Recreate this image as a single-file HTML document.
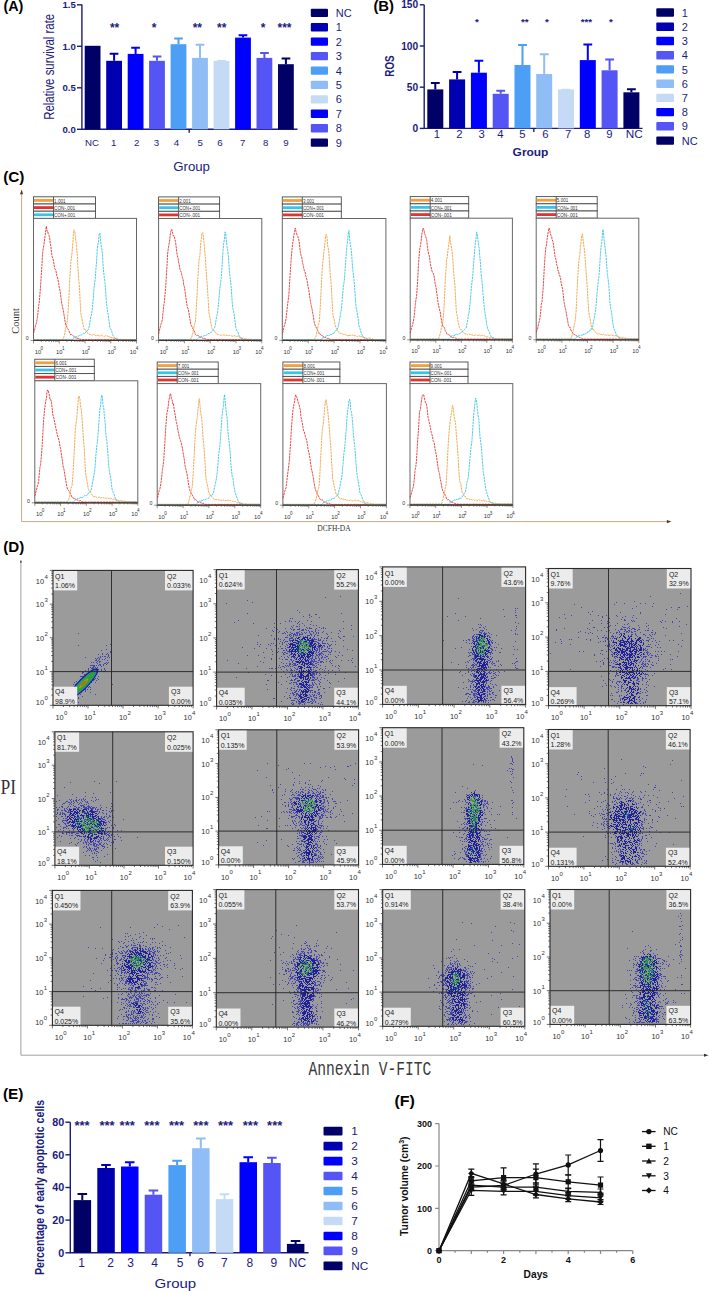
<!DOCTYPE html>
<html><head><meta charset="utf-8"><title>Figure</title>
<style>html,body{margin:0;padding:0;background:#fff;}svg{display:block;}</style>
</head><body>
<svg width="709" height="1291" viewBox="0 0 709 1291" style="font-family:'Liberation Sans',sans-serif">
<rect width="709" height="1291" fill="#fff"/>
<text x="3.4" y="11.2" textLength="20" lengthAdjust="spacingAndGlyphs" style="font:bold 14.2px 'Liberation Sans',sans-serif" fill="#000">(A)</text>
<g stroke="#1c1c7c" stroke-width="1.4" fill="none"><path d="M81.9 4.6V129.3H297.5"/>
<path d="M77 129.3H81.9"/>
<path d="M77 87.8H81.9"/>
<path d="M77 46.3H81.9"/>
<path d="M77 4.8H81.9"/>
<path d="M189.2 129.3v3.5"/></g>
<g style="font:bold 9.6px 'Liberation Sans',sans-serif" fill="#1c1c7c" text-anchor="end">
<text x="75.8" y="132.7">0.0</text>
<text x="75.8" y="91.2">0.5</text>
<text x="75.8" y="49.7">1.0</text>
<text x="75.8" y="8.2">1.5</text>
</g>
<rect x="84.7" y="45.8" width="15.8" height="83.5" fill="#000066"/>
<rect x="106.2" y="60.8" width="15.8" height="68.5" fill="#0000b0"/><path d="M114.1 60.8V53.7M109.7 53.7h8.7" stroke="#0000b0" stroke-width="2" fill="none"/>
<rect x="127.7" y="53.9" width="15.8" height="75.4" fill="#0000ff"/><path d="M135.6 53.9V47.8M131.2 47.8h8.7" stroke="#0000ff" stroke-width="2" fill="none"/>
<rect x="149.1" y="60.8" width="15.8" height="68.5" fill="#5555f5"/><path d="M157 60.8V56.5M152.7 56.5h8.7" stroke="#5555f5" stroke-width="2" fill="none"/>
<rect x="170.6" y="44.2" width="15.8" height="85.1" fill="#4d9ff5"/><path d="M178.5 44.2V38.5M174.2 38.5h8.7" stroke="#4d9ff5" stroke-width="2" fill="none"/>
<rect x="192.1" y="57.9" width="15.8" height="71.4" fill="#90bdf5"/><path d="M200 57.9V44.7M195.7 44.7h8.7" stroke="#90bdf5" stroke-width="2" fill="none"/>
<rect x="213.6" y="60.9" width="15.8" height="68.4" fill="#c5dbf5"/><path d="M221.5 60.9V60.9M217.1 60.9h8.7" stroke="#c5dbf5" stroke-width="2" fill="none"/>
<rect x="235.1" y="37.6" width="15.8" height="91.7" fill="#0000ff"/><path d="M243 37.6V35.3M238.6 35.3h8.7" stroke="#0000ff" stroke-width="2" fill="none"/>
<rect x="256.5" y="57.9" width="15.8" height="71.4" fill="#5555f5"/><path d="M264.4 57.9V53M260.1 53h8.7" stroke="#5555f5" stroke-width="2" fill="none"/>
<rect x="278" y="64.2" width="15.8" height="65.1" fill="#000066"/><path d="M285.9 64.2V58.6M281.6 58.6h8.7" stroke="#000066" stroke-width="2" fill="none"/>
<g style="font:9.7px 'Liberation Sans',sans-serif" fill="#1c1c7c" text-anchor="middle">
<text x="92" y="145.9" textLength="14" lengthAdjust="spacingAndGlyphs">NC</text>
<text x="113.8" y="145.9">1</text>
<text x="136.6" y="145.9">2</text>
<text x="156.5" y="145.9">3</text>
<text x="176.5" y="145.9">4</text>
<text x="200.1" y="145.9">5</text>
<text x="219.9" y="145.9">6</text>
<text x="242.6" y="145.9">7</text>
<text x="265.8" y="145.9">8</text>
<text x="286" y="145.9">9</text>
</g>
<g style="font:bold 12px 'Liberation Sans',sans-serif" fill="#1c1c7c" text-anchor="middle">
<text x="114.6" y="32.2">**</text>
<text x="154" y="32.2">*</text>
<text x="197.3" y="32.2">**</text>
<text x="221.7" y="32.2">**</text>
<text x="263.2" y="32.2">*</text>
<text x="284.5" y="32.2">***</text>
</g>
<text x="173.2" y="170.6" textLength="36.8" lengthAdjust="spacingAndGlyphs" style="font:12.8px 'Liberation Sans',sans-serif" fill="#1c1c7c">Group</text>
<text transform="translate(54.2 119.8) rotate(-90)" textLength="106" lengthAdjust="spacingAndGlyphs" style="font:14px 'Liberation Sans',sans-serif" fill="#1c1c7c">Relative survival rate</text>
<g style="font:11px 'Liberation Sans',sans-serif" fill="#1c1c7c">
<rect x="310.8" y="8.7" width="17.2" height="8.3" rx="1" fill="#000066"/>
<text x="335.8" y="16.9">NC</text>
<rect x="310.8" y="23.1" width="17.2" height="8.3" rx="1" fill="#0000b0"/>
<text x="335.8" y="31.3">1</text>
<rect x="310.8" y="37.5" width="17.2" height="8.3" rx="1" fill="#0000ff"/>
<text x="335.8" y="45.7">2</text>
<rect x="310.8" y="52" width="17.2" height="8.3" rx="1" fill="#5555f5"/>
<text x="335.8" y="60.2">3</text>
<rect x="310.8" y="66.4" width="17.2" height="8.3" rx="1" fill="#4d9ff5"/>
<text x="335.8" y="74.6">4</text>
<rect x="310.8" y="80.8" width="17.2" height="8.3" rx="1" fill="#90bdf5"/>
<text x="335.8" y="89">5</text>
<rect x="310.8" y="95.2" width="17.2" height="8.3" rx="1" fill="#c5dbf5"/>
<text x="335.8" y="103.4">6</text>
<rect x="310.8" y="109.6" width="17.2" height="8.3" rx="1" fill="#0000ff"/>
<text x="335.8" y="117.8">7</text>
<rect x="310.8" y="124.1" width="17.2" height="8.3" rx="1" fill="#5555f5"/>
<text x="335.8" y="132.3">8</text>
<rect x="310.8" y="138.5" width="17.2" height="8.3" rx="1" fill="#000066"/>
<text x="335.8" y="146.7">9</text>
</g>
<text x="373.4" y="11.1" textLength="20.6" lengthAdjust="spacingAndGlyphs" style="font:bold 14.2px 'Liberation Sans',sans-serif" fill="#000">(B)</text>
<g stroke="#1c1c7c" stroke-width="1.4" fill="none"><path d="M424.2 4.8V128.4H642.5"/>
<path d="M419.8 128.4H424.2"/>
<path d="M419.8 87.2H424.2"/>
<path d="M419.8 46H424.2"/>
<path d="M419.8 4.8H424.2"/>
<path d="M533.8 128.4v3.5"/></g>
<g style="font:bold 10.2px 'Liberation Sans',sans-serif" fill="#1c1c7c" text-anchor="end">
<text x="418.2" y="132">0</text>
<text x="418.2" y="90.8">50</text>
<text x="418.2" y="49.6">100</text>
<text x="418.2" y="8.4">150</text>
</g>
<rect x="427.3" y="89.4" width="16" height="39" fill="#000066"/><path d="M435.3 89.4V83M430.9 83h8.8" stroke="#000066" stroke-width="2" fill="none"/>
<rect x="449.1" y="79.4" width="16" height="49" fill="#0000b0"/><path d="M457.1 79.4V72M452.7 72h8.8" stroke="#0000b0" stroke-width="2" fill="none"/>
<rect x="470.9" y="72.7" width="16" height="55.7" fill="#0000ff"/><path d="M478.9 72.7V60.8M474.5 60.8h8.8" stroke="#0000ff" stroke-width="2" fill="none"/>
<rect x="492.7" y="93.8" width="16" height="34.6" fill="#5555f5"/><path d="M500.7 93.8V90.8M496.3 90.8h8.8" stroke="#5555f5" stroke-width="2" fill="none"/>
<rect x="514.5" y="65" width="16" height="63.4" fill="#4d9ff5"/><path d="M522.5 65V44.9M518.1 44.9h8.8" stroke="#4d9ff5" stroke-width="2" fill="none"/>
<rect x="536.2" y="74" width="16" height="54.4" fill="#90bdf5"/><path d="M544.2 74V54.2M539.9 54.2h8.8" stroke="#90bdf5" stroke-width="2" fill="none"/>
<rect x="558" y="89.4" width="16" height="39" fill="#c5dbf5"/><path d="M566 89.4V89.7M561.6 89.7h8.8" stroke="#c5dbf5" stroke-width="2" fill="none"/>
<rect x="579.8" y="60.1" width="16" height="68.3" fill="#0000ff"/><path d="M587.8 60.1V44.6M583.4 44.6h8.8" stroke="#0000ff" stroke-width="2" fill="none"/>
<rect x="601.6" y="70.3" width="16" height="58.1" fill="#5555f5"/><path d="M609.6 70.3V59.6M605.2 59.6h8.8" stroke="#5555f5" stroke-width="2" fill="none"/>
<rect x="623.4" y="92.3" width="16" height="36.1" fill="#000066"/><path d="M631.4 92.3V89.2M627 89.2h8.8" stroke="#000066" stroke-width="2" fill="none"/>
<g style="font:11.3px 'Liberation Sans',sans-serif" fill="#1c1c7c" text-anchor="middle">
<text x="437" y="138.4">1</text>
<text x="459.4" y="138.4">2</text>
<text x="481.6" y="138.4">3</text>
<text x="500.3" y="138.4">4</text>
<text x="522.5" y="138.4">5</text>
<text x="545.4" y="138.4">6</text>
<text x="568.1" y="138.4">7</text>
<text x="587.1" y="138.4">8</text>
<text x="609.5" y="138.4">9</text>
<text x="634.2" y="138.4" textLength="17" lengthAdjust="spacingAndGlyphs">NC</text>
</g>
<g style="font:bold 9.8px 'Liberation Sans',sans-serif" fill="#1c1c7c" text-anchor="middle">
<text x="476.9" y="25.3">*</text>
<text x="524.8" y="25.3">**</text>
<text x="546.9" y="25.3">*</text>
<text x="586.4" y="25.3">***</text>
<text x="611" y="25.3">*</text>
</g>
<text x="512.6" y="156.4" textLength="35.8" lengthAdjust="spacingAndGlyphs" style="font:bold 11px 'Liberation Sans',sans-serif" fill="#1c1c7c">Group</text>
<text transform="translate(394 76.7) rotate(-90)" textLength="21.3" lengthAdjust="spacingAndGlyphs" style="font:bold 12.3px 'Liberation Sans',sans-serif" fill="#1c1c7c">ROS</text>
<g style="font:11px 'Liberation Sans',sans-serif" fill="#1c1c7c">
<rect x="656.3" y="8.3" width="17.7" height="8.4" rx="1" fill="#000066"/>
<text x="681.8" y="16.6">1</text>
<rect x="656.3" y="22.5" width="17.7" height="8.4" rx="1" fill="#0000b0"/>
<text x="681.8" y="30.8">2</text>
<rect x="656.3" y="36.8" width="17.7" height="8.4" rx="1" fill="#0000ff"/>
<text x="681.8" y="45.1">3</text>
<rect x="656.3" y="51" width="17.7" height="8.4" rx="1" fill="#5555f5"/>
<text x="681.8" y="59.3">4</text>
<rect x="656.3" y="65.2" width="17.7" height="8.4" rx="1" fill="#4d9ff5"/>
<text x="681.8" y="73.5">5</text>
<rect x="656.3" y="79.5" width="17.7" height="8.4" rx="1" fill="#90bdf5"/>
<text x="681.8" y="87.8">6</text>
<rect x="656.3" y="93.7" width="17.7" height="8.4" rx="1" fill="#c5dbf5"/>
<text x="681.8" y="102">7</text>
<rect x="656.3" y="107.9" width="17.7" height="8.4" rx="1" fill="#0000ff"/>
<text x="681.8" y="116.2">8</text>
<rect x="656.3" y="122.1" width="17.7" height="8.4" rx="1" fill="#5555f5"/>
<text x="681.8" y="130.4">9</text>
<rect x="656.3" y="136.4" width="17.7" height="8.4" rx="1" fill="#000066"/>
<text x="681.8" y="144.7">NC</text>
</g>
<text x="3.2" y="181.6" textLength="21.3" lengthAdjust="spacingAndGlyphs" style="font:bold 14.2px 'Liberation Sans',sans-serif" fill="#000">(C)</text>
<path d="M21.6 193V521.6H668" stroke="#c8aa88" stroke-width="1" fill="none"/>
<path d="M21.6 189.6l-1.6 4.6h3.2z" fill="#5a3a20"/>
<path d="M671.5 521.6l-4.6-1.6v3.2z" fill="#5a3a20"/>
<text transform="translate(18.6 321) rotate(-90)" text-anchor="middle" style="font:10.5px 'Liberation Serif',serif" fill="#333">Count</text>
<text x="334" y="530.5" text-anchor="middle" textLength="33.5" lengthAdjust="spacingAndGlyphs" style="font:8.5px 'Liberation Serif',serif" fill="#333">DCFH-DA</text>
<g>
<rect x="33.5" y="196.8" width="62" height="7.2" fill="#fff" stroke="#4a4a4a" stroke-width="0.9"/>
<path d="M34 200.4h19.4" stroke="#f0a040" stroke-width="2.8"/>
<path d="M53.5 196.8v7.2" stroke="#4a4a4a" stroke-width="0.9"/>
<text x="54.1" y="202.5" textLength="11.5" lengthAdjust="spacingAndGlyphs" style="font:5.8px 'Liberation Sans',sans-serif" fill="#333">1.001</text>
<rect x="33.5" y="204" width="62" height="7.2" fill="#fff" stroke="#4a4a4a" stroke-width="0.9"/>
<path d="M34 207.6h19.4" stroke="#e03434" stroke-width="2.8"/>
<path d="M53.5 204v7.2" stroke="#4a4a4a" stroke-width="0.9"/>
<text x="54.1" y="209.7" textLength="21" lengthAdjust="spacingAndGlyphs" style="font:5.8px 'Liberation Sans',sans-serif" fill="#333">CON-.001</text>
<rect x="33.5" y="211.2" width="62" height="7.2" fill="#fff" stroke="#4a4a4a" stroke-width="0.9"/>
<path d="M34 214.8h19.4" stroke="#38c4ea" stroke-width="2.8"/>
<path d="M53.5 211.2v7.2" stroke="#4a4a4a" stroke-width="0.9"/>
<text x="54.1" y="216.9" textLength="21" lengthAdjust="spacingAndGlyphs" style="font:5.8px 'Liberation Sans',sans-serif" fill="#333">CON+.001</text>
</g>
<rect x="33.5" y="218.4" width="103" height="122" fill="#fff" stroke="#666" stroke-width="1"/>
<g fill="none" stroke-width="0.9" stroke-linejoin="round" stroke-dasharray="2.4 0.7">
<path d="M33.5 333.6L34.1 331.4L34.8 328.9L35.4 326L36.1 323.9L36.7 321.5L37.4 317.5L38 312.3L38.6 305.6L39.3 302.1L39.9 294.7L40.6 285.6L41.2 276.4L41.9 265.5L42.5 254.2L43.2 248.9L43.8 245.7L44.4 241.4L45.1 236L45.7 230.5L46.4 226.2L47 231.2L47.7 231.1L48.3 234.2L49 235.4L49.6 237.6L50.2 243.2L50.9 246L51.5 252.5L52.2 256.7L52.8 258L53.5 261L54.1 265L54.7 268.5L55.4 269.6L56 271.1L56.7 275.4L57.3 276.7L58 279.6L58.6 283.1L59.3 288L59.9 290.1L60.5 293.8L61.2 299.7L61.8 303.9L62.5 306.5L63.1 309.6L63.8 313.6L64.4 317.1L65 321.1L65.7 324.6L66.3 325.8L67 327.4L67.6 328.5L68.3 329.5L68.9 330.9L69.5 332.2L70.2 333.7L70.8 335L71.5 334.5L72.1 334.8L72.8 335.5L73.4 335.9L74.1 336.7L74.7 337.2L75.3 337.5L76 338.4L76.6 337.9L77.3 337.8L77.9 338.8L78.6 338.3L79.2 338.5L79.8 339.4L80.5 339.2L81.1 339.4L81.8 339.5L82.4 339.6L83.1 339.6L83.7 339.6L84.4 339.6L85 339.6L85.6 339.6L86.3 339.6L86.9 339.6L87.6 339.6L88.2 339.6L88.9 339.6L89.5 339.6L90.1 339.6L90.8 339.6L91.4 339.6L92.1 339.6L92.7 339.6L93.4 339.6L94 339.6L94.7 339.6L95.3 339.6L95.9 339.6L96.6 339.6L97.2 339.6L97.9 339.6L98.5 339.6L99.2 339.6L99.8 339.6L100.4 339.6L101.1 339.6L101.7 339.6L102.4 339.6L103 339.6L103.7 339.6L104.3 339.6L105 339.6L105.6 339.6L106.2 339.6L106.9 339.6L107.5 339.6L108.2 339.6L108.8 339.6L109.5 339.6L110.1 339.6L110.7 339.6L111.4 339.6L112 339.6L112.7 339.6L113.3 339.6L114 339.6L114.6 339.6L115.3 339.6L115.9 339.6L116.5 339.6L117.2 339.6L117.8 339.6L118.5 339.6L119.1 339.6L119.8 339.6L120.4 339.6L121 339.6L121.7 339.6L122.3 339.6L123 339.6L123.6 339.6L124.3 339.6L124.9 339.6L125.6 339.6L126.2 339.6L126.8 339.6L127.5 339.6L128.1 339.6L128.8 339.6L129.4 339.6L130.1 339.6L130.7 339.6L131.3 339.6L132 339.6L132.6 339.6L133.3 339.6L133.9 339.6L134.6 339.6L135.2 339.6L135.9 339.6L136.5 339.6" stroke="#e03434"/>
<path d="M33.5 339.6L34.1 339.6L34.8 339.6L35.4 339.6L36.1 339.6L36.7 339.6L37.4 339.6L38 339.6L38.6 339.6L39.3 339.6L39.9 339.6L40.6 339.6L41.2 339.6L41.9 339.6L42.5 339.6L43.2 339.6L43.8 339.6L44.4 339.6L45.1 339.6L45.7 339.6L46.4 339.6L47 339.6L47.7 339.6L48.3 339.6L49 339.6L49.6 339.6L50.2 339.6L50.9 339.6L51.5 339.6L52.2 339.6L52.8 339.6L53.5 339.6L54.1 339.6L54.7 339.6L55.4 339.6L56 339.6L56.7 339.6L57.3 339.6L58 339.6L58.6 339.6L59.3 339.6L59.9 339.6L60.5 339.6L61.2 339.6L61.8 339.6L62.5 339.1L63.1 339.1L63.8 337.2L64.4 335.2L65 332L65.7 328.3L66.3 325.2L67 322.8L67.6 318.4L68.3 309.1L68.9 297.7L69.5 284.7L70.2 272.7L70.8 262.7L71.5 256.9L72.1 251.9L72.8 243.2L73.4 233.4L74.1 229.7L74.7 230.8L75.3 236.7L76 242.1L76.6 246.8L77.3 255.6L77.9 266.9L78.6 278.2L79.2 283.3L79.8 294.2L80.5 307.8L81.1 315.7L81.8 317.8L82.4 321.3L83.1 324.8L83.7 327.1L84.4 329.6L85 330.2L85.6 329.7L86.3 331.3L86.9 332L87.6 332.9L88.2 333.8L88.9 334.2L89.5 334.6L90.1 334.2L90.8 334.7L91.4 335L92.1 335.1L92.7 335L93.4 334.5L94 335L94.7 334.6L95.3 335.5L95.9 335.7L96.6 335.1L97.2 335.8L97.9 334.8L98.5 335.6L99.2 335.8L99.8 335.9L100.4 335.9L101.1 335.1L101.7 335.1L102.4 335.7L103 336.2L103.7 336.5L104.3 336.4L105 336.2L105.6 335.8L106.2 335.9L106.9 335.7L107.5 335.9L108.2 336.7L108.8 336.5L109.5 336.9L110.1 336.8L110.7 337.7L111.4 336.9L112 338.3L112.7 337.7L113.3 338.2L114 337.8L114.6 338.7L115.3 337.9L115.9 339L116.5 338.2L117.2 338.4L117.8 338.7L118.5 339.2L119.1 339.1L119.8 339.1L120.4 339.2L121 339.3L121.7 339.4L122.3 339.5L123 339.5L123.6 339.6L124.3 339.6L124.9 339.6L125.6 339.6L126.2 339.6L126.8 339.6L127.5 339.6L128.1 339.6L128.8 339.6L129.4 339.6L130.1 339.6L130.7 339.6L131.3 339.6L132 339.6L132.6 339.6L133.3 339.6L133.9 339.6L134.6 339.6L135.2 339.6L135.9 339.6L136.5 339.6" stroke="#f0a040"/>
<path d="M33.5 339.6L34.1 339.6L34.8 339.6L35.4 339.6L36.1 339.6L36.7 339.6L37.4 339.6L38 339.6L38.6 339.6L39.3 339.6L39.9 339.6L40.6 339.6L41.2 339.6L41.9 339.6L42.5 339.6L43.2 339.6L43.8 339.6L44.4 339.6L45.1 339.6L45.7 339.6L46.4 339.6L47 339.6L47.7 339.6L48.3 339.6L49 339.6L49.6 339.6L50.2 339.6L50.9 339.6L51.5 339.6L52.2 339.6L52.8 339.6L53.5 339.6L54.1 339.6L54.7 339.6L55.4 339.6L56 339.6L56.7 339.6L57.3 339.6L58 339.6L58.6 339.6L59.3 339.6L59.9 339.6L60.5 339.6L61.2 339.6L61.8 339.6L62.5 339.6L63.1 339.6L63.8 339.6L64.4 339.6L65 339.6L65.7 339.6L66.3 339.6L67 339.6L67.6 339.6L68.3 339.6L68.9 339.6L69.5 339.6L70.2 339.6L70.8 339.6L71.5 339.6L72.1 339.6L72.8 339.5L73.4 337.9L74.1 337.5L74.7 337.2L75.3 336.6L76 336.4L76.6 336.8L77.3 336L77.9 335.8L78.6 336.1L79.2 335.7L79.8 334.9L80.5 335L81.1 335.2L81.8 334.7L82.4 334.3L83.1 333.6L83.7 333.2L84.4 334L85 333.5L85.6 332.3L86.3 332L86.9 331L87.6 330.3L88.2 329.8L88.9 327.8L89.5 325.5L90.1 321L90.8 316.5L91.4 315.2L92.1 310.4L92.7 304.2L93.4 297.4L94 288L94.7 282.4L95.3 278.7L95.9 269.1L96.6 261.5L97.2 250L97.9 244.2L98.5 242.4L99.2 234.1L99.8 233L100.4 237.5L101.1 245.4L101.7 247.7L102.4 253.7L103 263.5L103.7 272.6L104.3 277.9L105 282.4L105.6 290.5L106.2 300.2L106.9 306.6L107.5 311.9L108.2 314.6L108.8 319.2L109.5 324.4L110.1 328.4L110.7 328.9L111.4 330.3L112 332.3L112.7 334.8L113.3 335.9L114 336.6L114.6 337.4L115.3 337.8L115.9 339L116.5 338.7L117.2 339.2L117.8 339.5L118.5 339.6L119.1 339.6L119.8 339.6L120.4 339.6L121 339.6L121.7 339.6L122.3 339.6L123 339.6L123.6 339.6L124.3 339.6L124.9 339.6L125.6 339.6L126.2 339.6L126.8 339.6L127.5 339.6L128.1 339.6L128.8 339.6L129.4 339.6L130.1 339.6L130.7 339.6L131.3 339.6L132 339.6L132.6 339.6L133.3 339.6L133.9 339.6L134.6 339.6L135.2 339.6L135.9 339.6L136.5 339.6" stroke="#38c4ea"/>
</g>
<path d="M33.5 340.4H136.5" stroke="#4a3020" stroke-width="1.3"/>
<path d="M33.5 340.4v3M41.3 340.4v1.6M45.8 340.4v1.6M49 340.4v1.6M51.5 340.4v1.6M53.5 340.4v1.6M55.3 340.4v1.6M56.8 340.4v1.6M58.1 340.4v1.6M59.2 340.4v3M67 340.4v1.6M71.5 340.4v1.6M74.8 340.4v1.6M77.2 340.4v1.6M79.3 340.4v1.6M81 340.4v1.6M82.5 340.4v1.6M83.8 340.4v1.6M85 340.4v3M92.8 340.4v1.6M97.3 340.4v1.6M100.5 340.4v1.6M103 340.4v1.6M105 340.4v1.6M106.8 340.4v1.6M108.3 340.4v1.6M109.6 340.4v1.6M110.8 340.4v3M118.5 340.4v1.6M123 340.4v1.6M126.3 340.4v1.6M128.7 340.4v1.6M130.8 340.4v1.6M132.5 340.4v1.6M134 340.4v1.6M135.3 340.4v1.6M136.5 340.4v3M30.5 340.4h3" stroke="#444" stroke-width="0.6"/>
<g style="font:5.8px 'Liberation Sans',sans-serif" fill="#333">
<text x="37.9" y="353.7" text-anchor="middle">10</text><text x="40.5" y="350" style="font-size:4.6px">0</text>
<text x="59.2" y="353.7" text-anchor="middle">10</text><text x="61.9" y="350" style="font-size:4.6px">1</text>
<text x="85" y="353.7" text-anchor="middle">10</text><text x="87.6" y="350" style="font-size:4.6px">2</text>
<text x="110.8" y="353.7" text-anchor="middle">10</text><text x="113.3" y="350" style="font-size:4.6px">3</text>
<text x="133.1" y="353.7" text-anchor="middle">10</text><text x="135.7" y="350" style="font-size:4.6px">4</text>
<text x="28.7" y="340.2" text-anchor="end" style="font-size:5.2px">0</text>
</g>
<g>
<rect x="158.6" y="196.9" width="61" height="7.2" fill="#fff" stroke="#4a4a4a" stroke-width="0.9"/>
<path d="M159.1 200.5h19.4" stroke="#f0a040" stroke-width="2.8"/>
<path d="M178.6 196.9v7.2" stroke="#4a4a4a" stroke-width="0.9"/>
<text x="179.2" y="202.6" textLength="11.5" lengthAdjust="spacingAndGlyphs" style="font:5.8px 'Liberation Sans',sans-serif" fill="#333">2.001</text>
<rect x="158.6" y="204.1" width="61" height="7.2" fill="#fff" stroke="#4a4a4a" stroke-width="0.9"/>
<path d="M159.1 207.7h19.4" stroke="#38c4ea" stroke-width="2.8"/>
<path d="M178.6 204.1v7.2" stroke="#4a4a4a" stroke-width="0.9"/>
<text x="179.2" y="209.8" textLength="21" lengthAdjust="spacingAndGlyphs" style="font:5.8px 'Liberation Sans',sans-serif" fill="#333">CON+.001</text>
<rect x="158.6" y="211.3" width="61" height="7.2" fill="#fff" stroke="#4a4a4a" stroke-width="0.9"/>
<path d="M159.1 214.9h19.4" stroke="#e03434" stroke-width="2.8"/>
<path d="M178.6 211.3v7.2" stroke="#4a4a4a" stroke-width="0.9"/>
<text x="179.2" y="217" textLength="21" lengthAdjust="spacingAndGlyphs" style="font:5.8px 'Liberation Sans',sans-serif" fill="#333">CON-.001</text>
</g>
<rect x="158.6" y="218.5" width="103.2" height="121.8" fill="#fff" stroke="#666" stroke-width="1"/>
<g fill="none" stroke-width="0.9" stroke-linejoin="round" stroke-dasharray="2.4 0.7">
<path d="M158.6 333.8L159.2 331L159.9 328.5L160.5 326.3L161.2 323.5L161.8 322.3L162.5 317.9L163.1 311.9L163.8 305.1L164.4 301.7L165 294.6L165.7 287.7L166.3 276.8L167 266.1L167.6 254.2L168.3 248.4L168.9 244.8L169.6 241L170.2 235L170.9 231.4L171.5 229.2L172.1 230.5L172.8 233.6L173.4 236L174.1 235.8L174.7 238.2L175.4 241.5L176 245.3L176.7 251.6L177.3 255.5L178 257.9L178.6 262.1L179.2 264.7L179.9 269L180.5 270.7L181.2 272.2L181.8 275.1L182.5 277.8L183.1 279.4L183.8 285.4L184.4 287L185 291.1L185.7 295.9L186.3 300.6L187 305.1L187.6 307.7L188.3 309.2L188.9 312.7L189.6 317.4L190.2 320.8L190.8 324.4L191.5 326.2L192.1 326.6L192.8 328.6L193.4 329.3L194.1 331L194.7 332.4L195.4 334.5L196 335.2L196.7 335.5L197.3 335.4L197.9 335.1L198.6 335.7L199.2 336.2L199.9 337.6L200.5 337.3L201.2 337.5L201.8 337.7L202.5 337.8L203.1 338.7L203.7 338.9L204.4 338.3L205 338.6L205.7 339.1L206.3 339.3L207 339.4L207.6 339.5L208.3 339.5L208.9 339.5L209.6 339.5L210.2 339.5L210.8 339.5L211.5 339.5L212.1 339.5L212.8 339.5L213.4 339.5L214.1 339.5L214.7 339.5L215.4 339.5L216 339.5L216.6 339.5L217.3 339.5L217.9 339.5L218.6 339.5L219.2 339.5L219.9 339.5L220.5 339.5L221.2 339.5L221.8 339.5L222.5 339.5L223.1 339.5L223.7 339.5L224.4 339.5L225 339.5L225.7 339.5L226.3 339.5L227 339.5L227.6 339.5L228.3 339.5L228.9 339.5L229.5 339.5L230.2 339.5L230.8 339.5L231.5 339.5L232.1 339.5L232.8 339.5L233.4 339.5L234.1 339.5L234.7 339.5L235.4 339.5L236 339.5L236.6 339.5L237.3 339.5L237.9 339.5L238.6 339.5L239.2 339.5L239.9 339.5L240.5 339.5L241.2 339.5L241.8 339.5L242.4 339.5L243.1 339.5L243.7 339.5L244.4 339.5L245 339.5L245.7 339.5L246.3 339.5L247 339.5L247.6 339.5L248.3 339.5L248.9 339.5L249.5 339.5L250.2 339.5L250.8 339.5L251.5 339.5L252.1 339.5L252.8 339.5L253.4 339.5L254.1 339.5L254.7 339.5L255.3 339.5L256 339.5L256.6 339.5L257.3 339.5L257.9 339.5L258.6 339.5L259.2 339.5L259.9 339.5L260.5 339.5L261.2 339.5L261.8 339.5" stroke="#e03434"/>
<path d="M158.6 339.5L159.2 339.5L159.9 339.5L160.5 339.5L161.2 339.5L161.8 339.5L162.5 339.5L163.1 339.5L163.8 339.5L164.4 339.5L165 339.5L165.7 339.5L166.3 339.5L167 339.5L167.6 339.5L168.3 339.5L168.9 339.5L169.6 339.5L170.2 339.5L170.9 339.5L171.5 339.5L172.1 339.5L172.8 339.5L173.4 339.5L174.1 339.5L174.7 339.5L175.4 339.5L176 339.5L176.7 339.5L177.3 339.5L178 339.5L178.6 339.5L179.2 339.5L179.9 339.5L180.5 339.5L181.2 339.5L181.8 339.5L182.5 339.5L183.1 339.5L183.8 339.5L184.4 339.5L185 339.5L185.7 339.5L186.3 339.5L187 339.5L187.6 339.5L188.3 339.5L188.9 339.5L189.6 339.5L190.2 339.3L190.8 338.2L191.5 338.1L192.1 335.4L192.8 333.4L193.4 329.1L194.1 326L194.7 324.1L195.4 322L196 312.9L196.7 301.2L197.3 289.2L197.9 277.5L198.6 266.6L199.2 258.6L199.9 255.5L200.5 245.2L201.2 239.8L201.8 233.5L202.5 232.6L203.1 234.2L203.7 240.3L204.4 246.8L205 253.8L205.7 262.8L206.3 273L207 282.2L207.6 290L208.3 301.6L208.9 312.6L209.6 316.2L210.2 318.7L210.8 323.1L211.5 326.4L212.1 328.4L212.8 329.2L213.4 329.9L214.1 331L214.7 331L215.4 332.8L216 333L216.6 333.3L217.3 334.2L217.9 334.7L218.6 334.6L219.2 335L219.9 335L220.5 335.2L221.2 335.1L221.8 335.2L222.5 335.2L223.1 335L223.7 335L224.4 335L225 335.5L225.7 335.1L226.3 335.3L227 335.9L227.6 335.4L228.3 335.8L228.9 335.3L229.5 335.3L230.2 336L230.8 335.8L231.5 335.8L232.1 336L232.8 336.4L233.4 336.4L234.1 335.3L234.7 335.7L235.4 336.2L236 336.1L236.6 336.8L237.3 336.4L237.9 336.3L238.6 336.8L239.2 337.4L239.9 336.9L240.5 337.2L241.2 338.4L241.8 338.1L242.4 338.2L243.1 338.5L243.7 338.2L244.4 338.8L245 338.2L245.7 338.2L246.3 339.2L247 338.6L247.6 339.2L248.3 339L248.9 339.1L249.5 339.2L250.2 339.3L250.8 339.4L251.5 339.5L252.1 339.5L252.8 339.5L253.4 339.5L254.1 339.5L254.7 339.5L255.3 339.5L256 339.5L256.6 339.5L257.3 339.5L257.9 339.5L258.6 339.5L259.2 339.5L259.9 339.5L260.5 339.5L261.2 339.5L261.8 339.5" stroke="#f0a040"/>
<path d="M158.6 339.5L159.2 339.5L159.9 339.5L160.5 339.5L161.2 339.5L161.8 339.5L162.5 339.5L163.1 339.5L163.8 339.5L164.4 339.5L165 339.5L165.7 339.5L166.3 339.5L167 339.5L167.6 339.5L168.3 339.5L168.9 339.5L169.6 339.5L170.2 339.5L170.9 339.5L171.5 339.5L172.1 339.5L172.8 339.5L173.4 339.5L174.1 339.5L174.7 339.5L175.4 339.5L176 339.5L176.7 339.5L177.3 339.5L178 339.5L178.6 339.5L179.2 339.5L179.9 339.5L180.5 339.5L181.2 339.5L181.8 339.5L182.5 339.5L183.1 339.5L183.8 339.5L184.4 339.5L185 339.5L185.7 339.5L186.3 339.5L187 339.5L187.6 339.5L188.3 339.5L188.9 339.5L189.6 339.5L190.2 339.5L190.8 339.5L191.5 339.5L192.1 339.5L192.8 339.5L193.4 339.5L194.1 339.5L194.7 339.5L195.4 339.5L196 339.5L196.7 339.5L197.3 339.5L197.9 338.8L198.6 337.7L199.2 337.1L199.9 337.1L200.5 336.3L201.2 336.9L201.8 336L202.5 336.1L203.1 336.1L203.7 335.9L204.4 335.7L205 334.9L205.7 335.6L206.3 335.1L207 334.9L207.6 334.6L208.3 333.5L208.9 333.4L209.6 333.1L210.2 332.4L210.8 332.4L211.5 332.2L212.1 331.3L212.8 330.1L213.4 329.2L214.1 328.4L214.7 327.5L215.4 324.7L216 320.3L216.6 316.1L217.3 314.5L217.9 309.3L218.6 302.6L219.2 295.4L219.9 288.2L220.5 283.4L221.2 278.5L221.8 270.3L222.5 258.7L223.1 249.5L223.7 243.3L224.4 239.2L225 231.8L225.7 233.4L226.3 240L227 246.5L227.6 249.8L228.3 255.6L228.9 262.8L229.5 272.7L230.2 277.8L230.8 282.8L231.5 292L232.1 300.4L232.8 308.3L233.4 310.7L234.1 314.3L234.7 319.3L235.4 323.8L236 328.3L236.6 330.2L237.3 331.1L237.9 332L238.6 334.4L239.2 336.4L239.9 337.7L240.5 338.1L241.2 338.1L241.8 337.9L242.4 338.3L243.1 339.2L243.7 339.4L244.4 339.5L245 339.5L245.7 339.5L246.3 339.5L247 339.5L247.6 339.5L248.3 339.5L248.9 339.5L249.5 339.5L250.2 339.5L250.8 339.5L251.5 339.5L252.1 339.5L252.8 339.5L253.4 339.5L254.1 339.5L254.7 339.5L255.3 339.5L256 339.5L256.6 339.5L257.3 339.5L257.9 339.5L258.6 339.5L259.2 339.5L259.9 339.5L260.5 339.5L261.2 339.5L261.8 339.5" stroke="#38c4ea"/>
</g>
<path d="M158.6 340.3H261.8" stroke="#4a3020" stroke-width="1.3"/>
<path d="M158.6 340.3v3M166.4 340.3v1.6M170.9 340.3v1.6M174.1 340.3v1.6M176.6 340.3v1.6M178.7 340.3v1.6M180.4 340.3v1.6M181.9 340.3v1.6M183.2 340.3v1.6M184.4 340.3v3M192.2 340.3v1.6M196.7 340.3v1.6M199.9 340.3v1.6M202.4 340.3v1.6M204.5 340.3v1.6M206.2 340.3v1.6M207.7 340.3v1.6M209 340.3v1.6M210.2 340.3v3M218 340.3v1.6M222.5 340.3v1.6M225.7 340.3v1.6M228.2 340.3v1.6M230.3 340.3v1.6M232 340.3v1.6M233.5 340.3v1.6M234.8 340.3v1.6M236 340.3v3M243.8 340.3v1.6M248.3 340.3v1.6M251.5 340.3v1.6M254 340.3v1.6M256.1 340.3v1.6M257.8 340.3v1.6M259.3 340.3v1.6M260.6 340.3v1.6M261.8 340.3v3M155.6 340.3h3" stroke="#444" stroke-width="0.6"/>
<g style="font:5.8px 'Liberation Sans',sans-serif" fill="#333">
<text x="163" y="353.6" text-anchor="middle">10</text><text x="165.6" y="349.9" style="font-size:4.6px">0</text>
<text x="184.4" y="353.6" text-anchor="middle">10</text><text x="187" y="349.9" style="font-size:4.6px">1</text>
<text x="210.2" y="353.6" text-anchor="middle">10</text><text x="212.8" y="349.9" style="font-size:4.6px">2</text>
<text x="236" y="353.6" text-anchor="middle">10</text><text x="238.6" y="349.9" style="font-size:4.6px">3</text>
<text x="258.4" y="353.6" text-anchor="middle">10</text><text x="261" y="349.9" style="font-size:4.6px">4</text>
<text x="153.8" y="340.1" text-anchor="end" style="font-size:5.2px">0</text>
</g>
<g>
<rect x="282.3" y="196.9" width="59" height="7.2" fill="#fff" stroke="#4a4a4a" stroke-width="0.9"/>
<path d="M282.8 200.5h19.4" stroke="#f0a040" stroke-width="2.8"/>
<path d="M302.3 196.9v7.2" stroke="#4a4a4a" stroke-width="0.9"/>
<text x="302.9" y="202.6" textLength="11.5" lengthAdjust="spacingAndGlyphs" style="font:5.8px 'Liberation Sans',sans-serif" fill="#333">3.001</text>
<rect x="282.3" y="204.1" width="59" height="7.2" fill="#fff" stroke="#4a4a4a" stroke-width="0.9"/>
<path d="M282.8 207.7h19.4" stroke="#38c4ea" stroke-width="2.8"/>
<path d="M302.3 204.1v7.2" stroke="#4a4a4a" stroke-width="0.9"/>
<text x="302.9" y="209.8" textLength="21" lengthAdjust="spacingAndGlyphs" style="font:5.8px 'Liberation Sans',sans-serif" fill="#333">CON+.001</text>
<rect x="282.3" y="211.3" width="59" height="7.2" fill="#fff" stroke="#4a4a4a" stroke-width="0.9"/>
<path d="M282.8 214.9h19.4" stroke="#e03434" stroke-width="2.8"/>
<path d="M302.3 211.3v7.2" stroke="#4a4a4a" stroke-width="0.9"/>
<text x="302.9" y="217" textLength="21" lengthAdjust="spacingAndGlyphs" style="font:5.8px 'Liberation Sans',sans-serif" fill="#333">CON-.001</text>
</g>
<rect x="282.3" y="218.5" width="103.6" height="121.8" fill="#fff" stroke="#666" stroke-width="1"/>
<g fill="none" stroke-width="0.9" stroke-linejoin="round" stroke-dasharray="2.4 0.7">
<path d="M282.3 333.3L282.9 332.1L283.6 328.8L284.2 326.1L284.9 323.9L285.5 321.7L286.2 317.3L286.8 312.3L287.5 305.5L288.1 300.8L288.8 295.6L289.4 285.8L290.1 275.3L290.7 265.3L291.4 256L292 249.2L292.7 243.6L293.3 239.7L294 235.1L294.6 231.3L295.2 228L295.9 231.3L296.5 232.8L297.2 235.8L297.8 236.5L298.5 238.4L299.1 241.5L299.8 247.5L300.4 252.6L301.1 255.7L301.7 257.1L302.4 261.8L303 264.5L303.7 267.8L304.3 270.8L305 271.1L305.6 275.6L306.3 277.4L306.9 279.7L307.6 283.8L308.2 287.3L308.8 290.1L309.5 295L310.1 299.5L310.8 303.5L311.4 306.3L312.1 309.3L312.7 313.2L313.4 316.4L314 321.2L314.7 324.1L315.3 325.7L316 326.9L316.6 328.5L317.3 329.4L317.9 331.1L318.6 332.1L319.2 333.7L319.9 334.6L320.5 334.3L321.1 335.2L321.8 335.8L322.4 335.6L323.1 336.1L323.7 337.5L324.4 338L325 337.4L325.7 337.6L326.3 338.3L327 338.6L327.6 338.3L328.3 338.2L328.9 339.2L329.6 339.1L330.2 339.3L330.9 339.4L331.5 339.5L332.2 339.5L332.8 339.5L333.5 339.5L334.1 339.5L334.7 339.5L335.4 339.5L336 339.5L336.7 339.5L337.3 339.5L338 339.5L338.6 339.5L339.3 339.5L339.9 339.5L340.6 339.5L341.2 339.5L341.9 339.5L342.5 339.5L343.2 339.5L343.8 339.5L344.5 339.5L345.1 339.5L345.8 339.5L346.4 339.5L347 339.5L347.7 339.5L348.3 339.5L349 339.5L349.6 339.5L350.3 339.5L350.9 339.5L351.6 339.5L352.2 339.5L352.9 339.5L353.5 339.5L354.2 339.5L354.8 339.5L355.5 339.5L356.1 339.5L356.8 339.5L357.4 339.5L358.1 339.5L358.7 339.5L359.4 339.5L360 339.5L360.6 339.5L361.3 339.5L361.9 339.5L362.6 339.5L363.2 339.5L363.9 339.5L364.5 339.5L365.2 339.5L365.8 339.5L366.5 339.5L367.1 339.5L367.8 339.5L368.4 339.5L369.1 339.5L369.7 339.5L370.4 339.5L371 339.5L371.7 339.5L372.3 339.5L372.9 339.5L373.6 339.5L374.2 339.5L374.9 339.5L375.5 339.5L376.2 339.5L376.8 339.5L377.5 339.5L378.1 339.5L378.8 339.5L379.4 339.5L380.1 339.5L380.7 339.5L381.4 339.5L382 339.5L382.7 339.5L383.3 339.5L384 339.5L384.6 339.5L385.3 339.5L385.9 339.5" stroke="#e03434"/>
<path d="M282.3 339.5L282.9 339.5L283.6 339.5L284.2 339.5L284.9 339.5L285.5 339.5L286.2 339.5L286.8 339.5L287.5 339.5L288.1 339.5L288.8 339.5L289.4 339.5L290.1 339.5L290.7 339.5L291.4 339.5L292 339.5L292.7 339.5L293.3 339.5L294 339.5L294.6 339.5L295.2 339.5L295.9 339.5L296.5 339.5L297.2 339.5L297.8 339.5L298.5 339.5L299.1 339.5L299.8 339.5L300.4 339.5L301.1 339.5L301.7 339.5L302.4 339.5L303 339.5L303.7 339.5L304.3 339.5L305 339.5L305.6 339.5L306.3 339.5L306.9 339.5L307.6 339.5L308.2 339.5L308.8 339.5L309.5 339.5L310.1 339.5L310.8 339.5L311.4 339.5L312.1 339.5L312.7 339.5L313.4 339.5L314 339.3L314.7 338.7L315.3 337.8L316 336.2L316.6 333.1L317.3 330.2L317.9 326.6L318.6 324.3L319.2 322L319.9 313.2L320.5 302.3L321.1 289.7L321.8 277.3L322.4 266.2L323.1 260.2L323.7 253.9L324.4 248.1L325 241.5L325.7 235.8L326.3 234.3L327 237.4L327.6 245L328.3 248.4L328.9 253.2L329.6 263.3L330.2 274.5L330.9 280.1L331.5 289.9L332.2 302.9L332.8 313.3L333.5 316.9L334.1 318.7L334.7 322.9L335.4 325.6L336 327.9L336.7 328.7L337.3 330L338 331.4L338.6 331.9L339.3 332.9L339.9 333.1L340.6 333.6L341.2 333.5L341.9 333.9L342.5 333.7L343.2 334.2L343.8 334.6L344.5 334.3L345.1 335.2L345.8 334.6L346.4 334.8L347 334.7L347.7 335.8L348.3 335.7L349 334.7L349.6 335.8L350.3 335.4L350.9 335.3L351.6 335.5L352.2 335L352.9 335L353.5 335.8L354.2 336.1L354.8 335.2L355.5 335.8L356.1 336.1L356.8 336.3L357.4 336.5L358.1 335.8L358.7 336.3L359.4 336.1L360 335.8L360.6 336.5L361.3 336.1L361.9 337.4L362.6 336.8L363.2 337L363.9 337L364.5 338.3L365.2 337.9L365.8 338L366.5 338L367.1 338.3L367.8 338.6L368.4 337.9L369.1 338L369.7 338.3L370.4 338.1L371 338.7L371.7 339.4L372.3 339L372.9 339.1L373.6 339.2L374.2 339.3L374.9 339.4L375.5 339.5L376.2 339.5L376.8 339.5L377.5 339.5L378.1 339.5L378.8 339.5L379.4 339.5L380.1 339.5L380.7 339.5L381.4 339.5L382 339.5L382.7 339.5L383.3 339.5L384 339.5L384.6 339.5L385.3 339.5L385.9 339.5" stroke="#f0a040"/>
<path d="M282.3 339.5L282.9 339.5L283.6 339.5L284.2 339.5L284.9 339.5L285.5 339.5L286.2 339.5L286.8 339.5L287.5 339.5L288.1 339.5L288.8 339.5L289.4 339.5L290.1 339.5L290.7 339.5L291.4 339.5L292 339.5L292.7 339.5L293.3 339.5L294 339.5L294.6 339.5L295.2 339.5L295.9 339.5L296.5 339.5L297.2 339.5L297.8 339.5L298.5 339.5L299.1 339.5L299.8 339.5L300.4 339.5L301.1 339.5L301.7 339.5L302.4 339.5L303 339.5L303.7 339.5L304.3 339.5L305 339.5L305.6 339.5L306.3 339.5L306.9 339.5L307.6 339.5L308.2 339.5L308.8 339.5L309.5 339.5L310.1 339.5L310.8 339.5L311.4 339.5L312.1 339.5L312.7 339.5L313.4 339.5L314 339.5L314.7 339.5L315.3 339.5L316 339.5L316.6 339.5L317.3 339.5L317.9 339.5L318.6 339.5L319.2 339.5L319.9 339.5L320.5 339.5L321.1 339.5L321.8 339.5L322.4 338L323.1 337.3L323.7 337.2L324.4 337.1L325 337L325.7 336.7L326.3 335.4L327 336.1L327.6 335.1L328.3 335.8L328.9 335.4L329.6 335.1L330.2 335L330.9 333.9L331.5 334.5L332.2 333.8L332.8 333.9L333.5 333.9L334.1 332.6L334.7 332.3L335.4 331.3L336 330.2L336.7 330.3L337.3 329.7L338 327.6L338.6 324.1L339.3 321.8L339.9 317.4L340.6 313.6L341.2 310.3L341.9 303.4L342.5 296.6L343.2 287.9L343.8 284.1L344.5 278.4L345.1 269.2L345.8 260.7L346.4 251.4L347 245.6L347.7 240.8L348.3 233L349 230.4L349.6 238.7L350.3 244.8L350.9 247.5L351.6 253.8L352.2 262.1L352.9 270.7L353.5 275.4L354.2 281.5L354.8 290.3L355.5 299.8L356.1 307.6L356.8 310.3L357.4 313.9L358.1 318.5L358.7 324.2L359.4 327.3L360 328.7L360.6 331.1L361.3 333L361.9 334.6L362.6 336.2L363.2 336.9L363.9 337.3L364.5 337.6L365.2 338.1L365.8 338.2L366.5 339.1L367.1 339.4L367.8 339.5L368.4 339.5L369.1 339.5L369.7 339.5L370.4 339.5L371 339.5L371.7 339.5L372.3 339.5L372.9 339.5L373.6 339.5L374.2 339.5L374.9 339.5L375.5 339.5L376.2 339.5L376.8 339.5L377.5 339.5L378.1 339.5L378.8 339.5L379.4 339.5L380.1 339.5L380.7 339.5L381.4 339.5L382 339.5L382.7 339.5L383.3 339.5L384 339.5L384.6 339.5L385.3 339.5L385.9 339.5" stroke="#38c4ea"/>
</g>
<path d="M282.3 340.3H385.9" stroke="#4a3020" stroke-width="1.3"/>
<path d="M282.3 340.3v3M290.1 340.3v1.6M294.7 340.3v1.6M297.9 340.3v1.6M300.4 340.3v1.6M302.5 340.3v1.6M304.2 340.3v1.6M305.7 340.3v1.6M307 340.3v1.6M308.2 340.3v3M316 340.3v1.6M320.6 340.3v1.6M323.8 340.3v1.6M326.3 340.3v1.6M328.4 340.3v1.6M330.1 340.3v1.6M331.6 340.3v1.6M332.9 340.3v1.6M334.1 340.3v3M341.9 340.3v1.6M346.5 340.3v1.6M349.7 340.3v1.6M352.2 340.3v1.6M354.3 340.3v1.6M356 340.3v1.6M357.5 340.3v1.6M358.8 340.3v1.6M360 340.3v3M367.8 340.3v1.6M372.4 340.3v1.6M375.6 340.3v1.6M378.1 340.3v1.6M380.2 340.3v1.6M381.9 340.3v1.6M383.4 340.3v1.6M384.7 340.3v1.6M385.9 340.3v3M279.3 340.3h3" stroke="#444" stroke-width="0.6"/>
<g style="font:5.8px 'Liberation Sans',sans-serif" fill="#333">
<text x="286.7" y="353.6" text-anchor="middle">10</text><text x="289.3" y="349.9" style="font-size:4.6px">0</text>
<text x="308.2" y="353.6" text-anchor="middle">10</text><text x="310.8" y="349.9" style="font-size:4.6px">1</text>
<text x="334.1" y="353.6" text-anchor="middle">10</text><text x="336.7" y="349.9" style="font-size:4.6px">2</text>
<text x="360" y="353.6" text-anchor="middle">10</text><text x="362.6" y="349.9" style="font-size:4.6px">3</text>
<text x="382.5" y="353.6" text-anchor="middle">10</text><text x="385.1" y="349.9" style="font-size:4.6px">4</text>
<text x="277.5" y="340.1" text-anchor="end" style="font-size:5.2px">0</text>
</g>
<g>
<rect x="410.2" y="196.6" width="58.5" height="7.2" fill="#fff" stroke="#4a4a4a" stroke-width="0.9"/>
<path d="M410.7 200.2h19.4" stroke="#f0a040" stroke-width="2.8"/>
<path d="M430.2 196.6v7.2" stroke="#4a4a4a" stroke-width="0.9"/>
<text x="430.8" y="202.3" textLength="11.5" lengthAdjust="spacingAndGlyphs" style="font:5.8px 'Liberation Sans',sans-serif" fill="#333">4.001</text>
<rect x="410.2" y="203.8" width="58.5" height="7.2" fill="#fff" stroke="#4a4a4a" stroke-width="0.9"/>
<path d="M410.7 207.4h19.4" stroke="#38c4ea" stroke-width="2.8"/>
<path d="M430.2 203.8v7.2" stroke="#4a4a4a" stroke-width="0.9"/>
<text x="430.8" y="209.5" textLength="21" lengthAdjust="spacingAndGlyphs" style="font:5.8px 'Liberation Sans',sans-serif" fill="#333">CON+.001</text>
<rect x="410.2" y="211" width="58.5" height="7.2" fill="#fff" stroke="#4a4a4a" stroke-width="0.9"/>
<path d="M410.7 214.6h19.4" stroke="#e03434" stroke-width="2.8"/>
<path d="M430.2 211v7.2" stroke="#4a4a4a" stroke-width="0.9"/>
<text x="430.8" y="216.7" textLength="21" lengthAdjust="spacingAndGlyphs" style="font:5.8px 'Liberation Sans',sans-serif" fill="#333">CON-.001</text>
</g>
<rect x="410.2" y="218.2" width="102.2" height="121.6" fill="#fff" stroke="#666" stroke-width="1"/>
<g fill="none" stroke-width="0.9" stroke-linejoin="round" stroke-dasharray="2.4 0.7">
<path d="M410.2 333L410.8 330.9L411.5 328.2L412.1 326.2L412.8 323.9L413.4 321.2L414 317.6L414.7 311.2L415.3 304.3L415.9 299.9L416.6 296.1L417.2 287.3L417.9 276.3L418.5 263.6L419.1 256.2L419.8 248.5L420.4 245.7L421.1 241.4L421.7 235.1L422.3 231.9L423 228.1L423.6 229L424.3 231.7L424.9 234.5L425.5 235.6L426.2 238.2L426.8 240.6L427.4 247.1L428.1 251.3L428.7 254.5L429.4 255.9L430 261.1L430.6 264.9L431.3 268L431.9 270.8L432.6 272.7L433.2 273L433.8 275.1L434.5 278.5L435.1 283.7L435.8 286.2L436.4 290.3L437 294.5L437.7 300.2L438.3 304L438.9 307L439.6 309.9L440.2 311.9L440.9 317.4L441.5 320.1L442.1 323.5L442.8 326.4L443.4 326.7L444.1 327.2L444.7 328.6L445.3 330.7L446 331.8L446.6 333L447.2 334.4L447.9 334.3L448.5 334.6L449.2 335.3L449.8 335.2L450.4 336.2L451.1 336.3L451.7 337.5L452.4 337.4L453 338.1L453.6 337.5L454.3 337.4L454.9 337.9L455.6 338.1L456.2 338.2L456.8 338.6L457.5 338.8L458.1 338.9L458.7 339L459.4 339L460 339L460.7 339L461.3 339L461.9 339L462.6 339L463.2 339L463.9 339L464.5 339L465.1 339L465.8 339L466.4 339L467 339L467.7 339L468.3 339L469 339L469.6 339L470.2 339L470.9 339L471.5 339L472.2 339L472.8 339L473.4 339L474.1 339L474.7 339L475.4 339L476 339L476.6 339L477.3 339L477.9 339L478.5 339L479.2 339L479.8 339L480.5 339L481.1 339L481.7 339L482.4 339L483 339L483.7 339L484.3 339L484.9 339L485.6 339L486.2 339L486.8 339L487.5 339L488.1 339L488.8 339L489.4 339L490 339L490.7 339L491.3 339L492 339L492.6 339L493.2 339L493.9 339L494.5 339L495.2 339L495.8 339L496.4 339L497.1 339L497.7 339L498.3 339L499 339L499.6 339L500.3 339L500.9 339L501.5 339L502.2 339L502.8 339L503.5 339L504.1 339L504.7 339L505.4 339L506 339L506.7 339L507.3 339L507.9 339L508.6 339L509.2 339L509.8 339L510.5 339L511.1 339L511.8 339L512.4 339" stroke="#e03434"/>
<path d="M410.2 339L410.8 339L411.5 339L412.1 339L412.8 339L413.4 339L414 339L414.7 339L415.3 339L415.9 339L416.6 339L417.2 339L417.9 339L418.5 339L419.1 339L419.8 339L420.4 339L421.1 339L421.7 339L422.3 339L423 339L423.6 339L424.3 339L424.9 339L425.5 339L426.2 339L426.8 339L427.4 339L428.1 339L428.7 339L429.4 339L430 339L430.6 339L431.3 339L431.9 339L432.6 339L433.2 339L433.8 339L434.5 339L435.1 339L435.8 339L436.4 339L437 339L437.7 338.9L438.3 338.7L438.9 338L439.6 336.2L440.2 333.5L440.9 330.7L441.5 327.3L442.1 324.6L442.8 322.2L443.4 316L444.1 306.3L444.7 293.1L445.3 279.9L446 269.3L446.6 259.6L447.2 257.8L447.9 250.6L448.5 247.1L449.2 241L449.8 235.7L450.4 242.2L451.1 245.4L451.7 249.5L452.4 253.1L453 261.8L453.6 271.9L454.3 279L454.9 285.2L455.6 298L456.2 309.4L456.8 314.3L457.5 317.3L458.1 321.4L458.7 324.5L459.4 327.6L460 328.1L460.7 329.5L461.3 329.6L461.9 330.5L462.6 331.9L463.2 332.8L463.9 333.1L464.5 333.7L465.1 333.5L465.8 334L466.4 333.5L467 334.1L467.7 334.6L468.3 334L469 334L469.6 334.4L470.2 334.6L470.9 334.3L471.5 334.2L472.2 335.4L472.8 334.9L473.4 335.5L474.1 335.1L474.7 335.3L475.4 335.1L476 334.8L476.6 334.6L477.3 335.5L477.9 335.8L478.5 334.6L479.2 334.9L479.8 335.2L480.5 335.8L481.1 335.9L481.7 334.9L482.4 335.6L483 335.3L483.7 335.6L484.3 335.8L484.9 335.9L485.6 336.8L486.2 337L486.8 337L487.5 336.8L488.1 337L488.8 337.2L489.4 337.5L490 337.8L490.7 338.2L491.3 337.7L492 337.8L492.6 338L493.2 337.9L493.9 337.7L494.5 337.8L495.2 338.9L495.8 338.6L496.4 338.7L497.1 338.8L497.7 338.9L498.3 339L499 339L499.6 339L500.3 339L500.9 339L501.5 339L502.2 339L502.8 339L503.5 339L504.1 339L504.7 339L505.4 339L506 339L506.7 339L507.3 339L507.9 339L508.6 339L509.2 339L509.8 339L510.5 339L511.1 339L511.8 339L512.4 339" stroke="#f0a040"/>
<path d="M410.2 339L410.8 339L411.5 339L412.1 339L412.8 339L413.4 339L414 339L414.7 339L415.3 339L415.9 339L416.6 339L417.2 339L417.9 339L418.5 339L419.1 339L419.8 339L420.4 339L421.1 339L421.7 339L422.3 339L423 339L423.6 339L424.3 339L424.9 339L425.5 339L426.2 339L426.8 339L427.4 339L428.1 339L428.7 339L429.4 339L430 339L430.6 339L431.3 339L431.9 339L432.6 339L433.2 339L433.8 339L434.5 339L435.1 339L435.8 339L436.4 339L437 339L437.7 339L438.3 339L438.9 339L439.6 339L440.2 339L440.9 339L441.5 339L442.1 339L442.8 339L443.4 339L444.1 339L444.7 339L445.3 339L446 339L446.6 339L447.2 339L447.9 339L448.5 339L449.2 338.4L449.8 337.5L450.4 337.2L451.1 335.8L451.7 336.2L452.4 335.6L453 336.3L453.6 335.8L454.3 335.9L454.9 334.7L455.6 334.8L456.2 334.2L456.8 334.4L457.5 334.5L458.1 334.2L458.7 333.8L459.4 333.7L460 333.6L460.7 332.7L461.3 332.7L461.9 332L462.6 331L463.2 331L463.9 330.1L464.5 329.6L465.1 329.1L465.8 328.2L466.4 327.1L467 323.2L467.7 319.9L468.3 315.4L469 313.7L469.6 307.6L470.2 301.4L470.9 293.2L471.5 286.3L472.2 280.4L472.8 275L473.4 266.2L474.1 258.1L474.7 249.6L475.4 243.1L476 239.1L476.6 231.9L477.3 234.4L477.9 239.3L478.5 245L479.2 248.3L479.8 256.5L480.5 264.3L481.1 273.3L481.7 278.4L482.4 285.5L483 293.7L483.7 300.9L484.3 308L484.9 312.3L485.6 316.3L486.2 320.4L486.8 324.7L487.5 328.3L488.1 329.9L488.8 331L489.4 332L490 333.9L490.7 335.4L491.3 337.2L492 337L492.6 337.9L493.2 338.2L493.9 337.8L494.5 338.7L495.2 339L495.8 339L496.4 339L497.1 339L497.7 339L498.3 339L499 339L499.6 339L500.3 339L500.9 339L501.5 339L502.2 339L502.8 339L503.5 339L504.1 339L504.7 339L505.4 339L506 339L506.7 339L507.3 339L507.9 339L508.6 339L509.2 339L509.8 339L510.5 339L511.1 339L511.8 339L512.4 339" stroke="#38c4ea"/>
</g>
<path d="M410.2 339.8H512.4" stroke="#4a3020" stroke-width="1.3"/>
<path d="M410.2 339.8v3M417.9 339.8v1.6M422.4 339.8v1.6M425.6 339.8v1.6M428.1 339.8v1.6M430.1 339.8v1.6M431.8 339.8v1.6M433.3 339.8v1.6M434.6 339.8v1.6M435.8 339.8v3M443.4 339.8v1.6M447.9 339.8v1.6M451.1 339.8v1.6M453.6 339.8v1.6M455.6 339.8v1.6M457.3 339.8v1.6M458.8 339.8v1.6M460.1 339.8v1.6M461.3 339.8v3M469 339.8v1.6M473.5 339.8v1.6M476.7 339.8v1.6M479.2 339.8v1.6M481.2 339.8v1.6M482.9 339.8v1.6M484.4 339.8v1.6M485.7 339.8v1.6M486.8 339.8v3M494.5 339.8v1.6M499 339.8v1.6M502.2 339.8v1.6M504.7 339.8v1.6M506.7 339.8v1.6M508.4 339.8v1.6M509.9 339.8v1.6M511.2 339.8v1.6M512.4 339.8v3M407.2 339.8h3" stroke="#444" stroke-width="0.6"/>
<g style="font:5.8px 'Liberation Sans',sans-serif" fill="#333">
<text x="414.6" y="353.1" text-anchor="middle">10</text><text x="417.2" y="349.4" style="font-size:4.6px">0</text>
<text x="435.8" y="353.1" text-anchor="middle">10</text><text x="438.4" y="349.4" style="font-size:4.6px">1</text>
<text x="461.3" y="353.1" text-anchor="middle">10</text><text x="463.9" y="349.4" style="font-size:4.6px">2</text>
<text x="486.8" y="353.1" text-anchor="middle">10</text><text x="489.4" y="349.4" style="font-size:4.6px">3</text>
<text x="509" y="353.1" text-anchor="middle">10</text><text x="511.6" y="349.4" style="font-size:4.6px">4</text>
<text x="405.4" y="339.6" text-anchor="end" style="font-size:5.2px">0</text>
</g>
<g>
<rect x="536.2" y="196.6" width="61" height="7.2" fill="#fff" stroke="#4a4a4a" stroke-width="0.9"/>
<path d="M536.7 200.2h19.4" stroke="#f0a040" stroke-width="2.8"/>
<path d="M556.2 196.6v7.2" stroke="#4a4a4a" stroke-width="0.9"/>
<text x="556.8" y="202.3" textLength="11.5" lengthAdjust="spacingAndGlyphs" style="font:5.8px 'Liberation Sans',sans-serif" fill="#333">5.001</text>
<rect x="536.2" y="203.8" width="61" height="7.2" fill="#fff" stroke="#4a4a4a" stroke-width="0.9"/>
<path d="M536.7 207.4h19.4" stroke="#38c4ea" stroke-width="2.8"/>
<path d="M556.2 203.8v7.2" stroke="#4a4a4a" stroke-width="0.9"/>
<text x="556.8" y="209.5" textLength="21" lengthAdjust="spacingAndGlyphs" style="font:5.8px 'Liberation Sans',sans-serif" fill="#333">CON+.001</text>
<rect x="536.2" y="211" width="61" height="7.2" fill="#fff" stroke="#4a4a4a" stroke-width="0.9"/>
<path d="M536.7 214.6h19.4" stroke="#e03434" stroke-width="2.8"/>
<path d="M556.2 211v7.2" stroke="#4a4a4a" stroke-width="0.9"/>
<text x="556.8" y="216.7" textLength="21" lengthAdjust="spacingAndGlyphs" style="font:5.8px 'Liberation Sans',sans-serif" fill="#333">CON-.001</text>
</g>
<rect x="536.2" y="218.2" width="102.6" height="121.6" fill="#fff" stroke="#666" stroke-width="1"/>
<g fill="none" stroke-width="0.9" stroke-linejoin="round" stroke-dasharray="2.4 0.7">
<path d="M536.2 332.4L536.8 330.9L537.5 329L538.1 326L538.8 323L539.4 320.9L540 317.8L540.7 311.6L541.3 304.3L542 301.4L542.6 294.9L543.3 286.7L543.9 275.2L544.5 263.5L545.2 254.5L545.8 247.9L546.5 244.9L547.1 239.6L547.7 234.7L548.4 231.1L549 227.9L549.7 229.8L550.3 233.4L550.9 235.4L551.6 236.4L552.2 239.9L552.9 241.4L553.5 245.2L554.2 249.8L554.8 255.6L555.4 257.6L556.1 260.2L556.7 265.3L557.4 265.8L558 271L558.6 270.9L559.3 275.6L559.9 275.7L560.6 278.8L561.2 283.6L561.9 286.4L562.5 288.9L563.1 293.3L563.8 300.1L564.4 303.8L565.1 307.4L565.7 309.4L566.3 313.3L567 317.3L567.6 320.4L568.3 324.5L568.9 326.3L569.5 327.4L570.2 327.4L570.8 329.6L571.5 331.3L572.1 332L572.8 333L573.4 334L574 334.3L574.7 334.7L575.3 334.9L576 335.9L576.6 335.7L577.2 336.4L577.9 336.6L578.5 336.9L579.2 337.1L579.8 337.6L580.4 337.8L581.1 337.7L581.7 338.1L582.4 338.9L583 338.6L583.7 338.8L584.3 338.9L584.9 339L585.6 339L586.2 339L586.9 339L587.5 339L588.1 339L588.8 339L589.4 339L590.1 339L590.7 339L591.3 339L592 339L592.6 339L593.3 339L593.9 339L594.6 339L595.2 339L595.8 339L596.5 339L597.1 339L597.8 339L598.4 339L599 339L599.7 339L600.3 339L601 339L601.6 339L602.2 339L602.9 339L603.5 339L604.2 339L604.8 339L605.5 339L606.1 339L606.7 339L607.4 339L608 339L608.7 339L609.3 339L609.9 339L610.6 339L611.2 339L611.9 339L612.5 339L613.1 339L613.8 339L614.4 339L615.1 339L615.7 339L616.4 339L617 339L617.6 339L618.3 339L618.9 339L619.6 339L620.2 339L620.8 339L621.5 339L622.1 339L622.8 339L623.4 339L624.1 339L624.7 339L625.3 339L626 339L626.6 339L627.3 339L627.9 339L628.5 339L629.2 339L629.8 339L630.5 339L631.1 339L631.7 339L632.4 339L633 339L633.7 339L634.3 339L635 339L635.6 339L636.2 339L636.9 339L637.5 339L638.2 339L638.8 339" stroke="#e03434"/>
<path d="M536.2 339L536.8 339L537.5 339L538.1 339L538.8 339L539.4 339L540 339L540.7 339L541.3 339L542 339L542.6 339L543.3 339L543.9 339L544.5 339L545.2 339L545.8 339L546.5 339L547.1 339L547.7 339L548.4 339L549 339L549.7 339L550.3 339L550.9 339L551.6 339L552.2 339L552.9 339L553.5 339L554.2 339L554.8 339L555.4 339L556.1 339L556.7 339L557.4 339L558 339L558.6 339L559.3 339L559.9 339L560.6 339L561.2 339L561.9 339L562.5 339L563.1 339L563.8 339L564.4 339L565.1 339L565.7 339L566.3 339L567 339L567.6 339L568.3 339L568.9 339L569.5 339L570.2 338.8L570.8 337.6L571.5 337.9L572.1 335.4L572.8 332.5L573.4 329.8L574 325.9L574.7 323.3L575.3 320.3L576 312.3L576.6 301.6L577.2 288.2L577.9 274.7L578.5 265.2L579.2 258.2L579.8 255.8L580.4 246.8L581.1 241.3L581.7 235.6L582.4 233.8L583 239.1L583.7 245L584.3 248.9L584.9 254.7L585.6 264.7L586.2 273.2L586.9 281.6L587.5 290.6L588.1 302.8L588.8 312.1L589.4 316.3L590.1 318.7L590.7 322.7L591.3 326.1L592 328.1L592.6 329.4L593.3 328.9L593.9 330.2L594.6 331.3L595.2 331.9L595.8 332.2L596.5 333.4L597.1 333.7L597.8 334L598.4 333.9L599 333.6L599.7 333.9L600.3 334.5L601 333.9L601.6 335L602.2 334.8L602.9 334.4L603.5 334.2L604.2 334.8L604.8 335.4L605.5 334.8L606.1 335L606.7 335.5L607.4 335.2L608 334.5L608.7 335.7L609.3 335.5L609.9 335.6L610.6 334.8L611.2 335.5L611.9 335.1L612.5 335.1L613.1 336L613.8 335.5L614.4 336L615.1 335.3L615.7 335.8L616.4 336.2L617 335.8L617.6 336L618.3 337.1L618.9 337.3L619.6 337.2L620.2 337.4L620.8 337.4L621.5 337.6L622.1 337.1L622.8 337.6L623.4 337.3L624.1 337.8L624.7 338.3L625.3 338L626 338.6L626.6 338.2L627.3 338.8L627.9 338.5L628.5 338.6L629.2 338.7L629.8 338.8L630.5 338.9L631.1 339L631.7 339L632.4 339L633 339L633.7 339L634.3 339L635 339L635.6 339L636.2 339L636.9 339L637.5 339L638.2 339L638.8 339" stroke="#f0a040"/>
<path d="M536.2 339L536.8 339L537.5 339L538.1 339L538.8 339L539.4 339L540 339L540.7 339L541.3 339L542 339L542.6 339L543.3 339L543.9 339L544.5 339L545.2 339L545.8 339L546.5 339L547.1 339L547.7 339L548.4 339L549 339L549.7 339L550.3 339L550.9 339L551.6 339L552.2 339L552.9 339L553.5 339L554.2 339L554.8 339L555.4 339L556.1 339L556.7 339L557.4 339L558 339L558.6 339L559.3 339L559.9 339L560.6 339L561.2 339L561.9 339L562.5 339L563.1 339L563.8 339L564.4 339L565.1 339L565.7 339L566.3 339L567 339L567.6 339L568.3 339L568.9 339L569.5 339L570.2 339L570.8 339L571.5 339L572.1 339L572.8 339L573.4 339L574 339L574.7 339L575.3 338.7L576 337.3L576.6 337.3L577.2 336.7L577.9 336.4L578.5 335.6L579.2 335.3L579.8 335.2L580.4 335.2L581.1 335.5L581.7 335.2L582.4 335.3L583 334L583.7 334.8L584.3 333.7L584.9 334.3L585.6 333.6L586.2 332.9L586.9 333.3L587.5 333L588.1 331.4L588.8 331.6L589.4 331.3L590.1 329.7L590.7 328.7L591.3 328.8L592 329.1L592.6 326.5L593.3 322.8L593.9 319.5L594.6 315.8L595.2 312.8L595.8 307.9L596.5 300.4L597.1 292.3L597.8 286.1L598.4 279.8L599 276.3L599.7 266.1L600.3 255.8L601 246.7L601.6 243.5L602.2 237.3L602.9 229.5L603.5 232.9L604.2 241L604.8 245.9L605.5 250.8L606.1 256.8L606.7 265L607.4 274.5L608 278.4L608.7 283.9L609.3 292.8L609.9 301.4L610.6 308.7L611.2 310.8L611.9 315.1L612.5 320L613.1 324.9L613.8 328L614.4 329.8L615.1 331.4L615.7 333.2L616.4 334.9L617 335.8L617.6 336.4L618.3 337.2L618.9 337.2L619.6 337.7L620.2 337.9L620.8 338.7L621.5 339L622.1 339L622.8 339L623.4 339L624.1 339L624.7 339L625.3 339L626 339L626.6 339L627.3 339L627.9 339L628.5 339L629.2 339L629.8 339L630.5 339L631.1 339L631.7 339L632.4 339L633 339L633.7 339L634.3 339L635 339L635.6 339L636.2 339L636.9 339L637.5 339L638.2 339L638.8 339" stroke="#38c4ea"/>
</g>
<path d="M536.2 339.8H638.8" stroke="#4a3020" stroke-width="1.3"/>
<path d="M536.2 339.8v3M543.9 339.8v1.6M548.4 339.8v1.6M551.6 339.8v1.6M554.1 339.8v1.6M556.2 339.8v1.6M557.9 339.8v1.6M559.4 339.8v1.6M560.7 339.8v1.6M561.9 339.8v3M569.6 339.8v1.6M574.1 339.8v1.6M577.3 339.8v1.6M579.8 339.8v1.6M581.8 339.8v1.6M583.5 339.8v1.6M585 339.8v1.6M586.3 339.8v1.6M587.5 339.8v3M595.2 339.8v1.6M599.7 339.8v1.6M602.9 339.8v1.6M605.4 339.8v1.6M607.5 339.8v1.6M609.2 339.8v1.6M610.7 339.8v1.6M612 339.8v1.6M613.1 339.8v3M620.9 339.8v1.6M625.4 339.8v1.6M628.6 339.8v1.6M631.1 339.8v1.6M633.1 339.8v1.6M634.8 339.8v1.6M636.3 339.8v1.6M637.6 339.8v1.6M638.8 339.8v3M533.2 339.8h3" stroke="#444" stroke-width="0.6"/>
<g style="font:5.8px 'Liberation Sans',sans-serif" fill="#333">
<text x="540.6" y="353.1" text-anchor="middle">10</text><text x="543.2" y="349.4" style="font-size:4.6px">0</text>
<text x="561.9" y="353.1" text-anchor="middle">10</text><text x="564.5" y="349.4" style="font-size:4.6px">1</text>
<text x="587.5" y="353.1" text-anchor="middle">10</text><text x="590.1" y="349.4" style="font-size:4.6px">2</text>
<text x="613.1" y="353.1" text-anchor="middle">10</text><text x="615.8" y="349.4" style="font-size:4.6px">3</text>
<text x="635.4" y="353.1" text-anchor="middle">10</text><text x="638" y="349.4" style="font-size:4.6px">4</text>
<text x="531.4" y="339.6" text-anchor="end" style="font-size:5.2px">0</text>
</g>
<g>
<rect x="34.8" y="359.2" width="59.5" height="7.2" fill="#fff" stroke="#4a4a4a" stroke-width="0.9"/>
<path d="M35.3 362.8h19.4" stroke="#f0a040" stroke-width="2.8"/>
<path d="M54.8 359.2v7.2" stroke="#4a4a4a" stroke-width="0.9"/>
<text x="55.4" y="364.9" textLength="11.5" lengthAdjust="spacingAndGlyphs" style="font:5.8px 'Liberation Sans',sans-serif" fill="#333">6.001</text>
<rect x="34.8" y="366.4" width="59.5" height="7.2" fill="#fff" stroke="#4a4a4a" stroke-width="0.9"/>
<path d="M35.3 370h19.4" stroke="#38c4ea" stroke-width="2.8"/>
<path d="M54.8 366.4v7.2" stroke="#4a4a4a" stroke-width="0.9"/>
<text x="55.4" y="372.1" textLength="21" lengthAdjust="spacingAndGlyphs" style="font:5.8px 'Liberation Sans',sans-serif" fill="#333">CON+.001</text>
<rect x="34.8" y="373.6" width="59.5" height="7.2" fill="#fff" stroke="#4a4a4a" stroke-width="0.9"/>
<path d="M35.3 377.2h19.4" stroke="#e03434" stroke-width="2.8"/>
<path d="M54.8 373.6v7.2" stroke="#4a4a4a" stroke-width="0.9"/>
<text x="55.4" y="379.3" textLength="21" lengthAdjust="spacingAndGlyphs" style="font:5.8px 'Liberation Sans',sans-serif" fill="#333">CON-.001</text>
</g>
<rect x="34.8" y="380.8" width="103" height="122" fill="#fff" stroke="#666" stroke-width="1"/>
<g fill="none" stroke-width="0.9" stroke-linejoin="round" stroke-dasharray="2.4 0.7">
<path d="M34.8 496.1L35.4 493.7L36.1 490.9L36.7 489L37.4 485.8L38 484.6L38.7 480.5L39.3 474.2L39.9 467.5L40.6 464.3L41.2 457.7L41.9 449.5L42.5 439.2L43.2 427.5L43.8 417.8L44.5 410.4L45.1 405.7L45.7 401.2L46.4 398.9L47 391.6L47.7 389.9L48.3 390.8L49 394L49.6 396.8L50.2 400.2L50.9 399.6L51.5 402.7L52.2 408.5L52.8 414.9L53.5 416.5L54.1 419.2L54.8 423L55.4 426.2L56 428.6L56.7 432.3L57.3 435L58 437L58.6 439L59.3 441.7L59.9 446.2L60.6 448.7L61.2 452.6L61.8 457.1L62.5 461.3L63.1 466.1L63.8 468.6L64.4 471.7L65.1 476.3L65.7 479.8L66.3 483.9L67 487.2L67.6 489.3L68.3 490.2L68.9 490.9L69.6 491.9L70.2 493.2L70.8 494.5L71.5 496.2L72.1 497.7L72.8 497.8L73.4 498.3L74.1 497.7L74.7 498.9L75.4 498.8L76 499.6L76.6 499.9L77.3 499.9L77.9 500.4L78.6 501.2L79.2 500.7L79.9 501.2L80.5 500.6L81.1 501.7L81.8 501.6L82.4 501.8L83.1 501.9L83.7 502L84.4 502L85 502L85.7 502L86.3 502L86.9 502L87.6 502L88.2 502L88.9 502L89.5 502L90.2 502L90.8 502L91.4 502L92.1 502L92.7 502L93.4 502L94 502L94.7 502L95.3 502L96 502L96.6 502L97.2 502L97.9 502L98.5 502L99.2 502L99.8 502L100.5 502L101.1 502L101.7 502L102.4 502L103 502L103.7 502L104.3 502L105 502L105.6 502L106.3 502L106.9 502L107.5 502L108.2 502L108.8 502L109.5 502L110.1 502L110.8 502L111.4 502L112 502L112.7 502L113.3 502L114 502L114.6 502L115.3 502L115.9 502L116.6 502L117.2 502L117.8 502L118.5 502L119.1 502L119.8 502L120.4 502L121.1 502L121.7 502L122.3 502L123 502L123.6 502L124.3 502L124.9 502L125.6 502L126.2 502L126.9 502L127.5 502L128.1 502L128.8 502L129.4 502L130.1 502L130.7 502L131.4 502L132 502L132.6 502L133.3 502L133.9 502L134.6 502L135.2 502L135.9 502L136.5 502L137.2 502L137.8 502" stroke="#e03434"/>
<path d="M34.8 502L35.4 502L36.1 502L36.7 502L37.4 502L38 502L38.7 502L39.3 502L39.9 502L40.6 502L41.2 502L41.9 502L42.5 502L43.2 502L43.8 502L44.5 502L45.1 502L45.7 502L46.4 502L47 502L47.7 502L48.3 502L49 502L49.6 502L50.2 502L50.9 502L51.5 502L52.2 502L52.8 502L53.5 502L54.1 502L54.8 502L55.4 502L56 502L56.7 502L57.3 502L58 502L58.6 502L59.3 502L59.9 502L60.6 502L61.2 502L61.8 502L62.5 502L63.1 502L63.8 502L64.4 502L65.1 502L65.7 502L66.3 502L67 501.9L67.6 501.6L68.3 500.3L68.9 499L69.6 496.6L70.2 492.4L70.8 489L71.5 486.8L72.1 485.4L72.8 476.8L73.4 466.8L74.1 454.4L74.7 442.3L75.4 429.1L76 423.5L76.6 419.4L77.3 412L77.9 403.6L78.6 396.2L79.2 396.3L79.9 399.1L80.5 406L81.1 408.7L81.8 414.9L82.4 424L83.1 434L83.7 442.1L84.4 450.5L85 463.4L85.7 474L86.3 478L86.9 480.6L87.6 484.4L88.2 488.6L88.9 490.3L89.5 491.2L90.2 491.8L90.8 492.7L91.4 493.7L92.1 495L92.7 495.8L93.4 496.7L94 496.4L94.7 496.8L95.3 496.3L96 497.2L96.6 497.3L97.2 497.7L97.9 497.6L98.5 497.1L99.2 497.2L99.8 497.2L100.5 498.3L101.1 497.5L101.7 497.7L102.4 498L103 497.3L103.7 497.7L104.3 498.2L105 497.6L105.6 498.1L106.3 498.1L106.9 498.2L107.5 498.2L108.2 498.8L108.8 497.9L109.5 498.6L110.1 498.4L110.8 498.8L111.4 498.4L112 499.2L112.7 499.4L113.3 499.3L114 498.7L114.6 499.1L115.3 499.3L115.9 500.3L116.6 500L117.2 499.9L117.8 500L118.5 500.6L119.1 501.1L119.8 500.9L120.4 500.3L121.1 500.4L121.7 500.8L122.3 501.2L123 501L123.6 501.2L124.3 501.4L124.9 501.1L125.6 501.6L126.2 501.7L126.9 501.8L127.5 501.9L128.1 502L128.8 502L129.4 502L130.1 502L130.7 502L131.4 502L132 502L132.6 502L133.3 502L133.9 502L134.6 502L135.2 502L135.9 502L136.5 502L137.2 502L137.8 502" stroke="#f0a040"/>
<path d="M34.8 502L35.4 502L36.1 502L36.7 502L37.4 502L38 502L38.7 502L39.3 502L39.9 502L40.6 502L41.2 502L41.9 502L42.5 502L43.2 502L43.8 502L44.5 502L45.1 502L45.7 502L46.4 502L47 502L47.7 502L48.3 502L49 502L49.6 502L50.2 502L50.9 502L51.5 502L52.2 502L52.8 502L53.5 502L54.1 502L54.8 502L55.4 502L56 502L56.7 502L57.3 502L58 502L58.6 502L59.3 502L59.9 502L60.6 502L61.2 502L61.8 502L62.5 502L63.1 502L63.8 502L64.4 502L65.1 502L65.7 502L66.3 502L67 502L67.6 502L68.3 502L68.9 502L69.6 502L70.2 502L70.8 502L71.5 502L72.1 502L72.8 502L73.4 502L74.1 502L74.7 500.5L75.4 499.7L76 499.8L76.6 499.1L77.3 498.4L77.9 498.6L78.6 498.3L79.2 498.3L79.9 498.1L80.5 497.2L81.1 498L81.8 497.6L82.4 497.8L83.1 496.9L83.7 496.4L84.4 496.1L85 495.4L85.7 496.2L86.3 495.8L86.9 495.1L87.6 494.5L88.2 493L88.9 493.3L89.5 492.3L90.2 491L90.8 491.4L91.4 488.9L92.1 485.4L92.7 481.7L93.4 478.4L94 474.9L94.7 471L95.3 463.6L96 454.2L96.6 447.4L97.2 443.5L97.9 436.8L98.5 427.4L99.2 418.3L99.8 410L100.5 406L101.1 399.2L101.7 395.1L102.4 397.3L103 405.5L103.7 407.6L104.3 415.3L105 421.5L105.6 430.4L106.3 438L106.9 440.5L107.5 449.2L108.2 458.5L108.8 466.5L109.5 472.7L110.1 475L110.8 478.5L111.4 483.5L112 489L112.7 491.1L113.3 492.4L114 493.7L114.6 496.2L115.3 498.1L115.9 499.5L116.6 499.6L117.2 500.8L117.8 501.2L118.5 501.1L119.1 502L119.8 501.8L120.4 502L121.1 502L121.7 502L122.3 502L123 502L123.6 502L124.3 502L124.9 502L125.6 502L126.2 502L126.9 502L127.5 502L128.1 502L128.8 502L129.4 502L130.1 502L130.7 502L131.4 502L132 502L132.6 502L133.3 502L133.9 502L134.6 502L135.2 502L135.9 502L136.5 502L137.2 502L137.8 502" stroke="#38c4ea"/>
</g>
<path d="M34.8 502.8H137.8" stroke="#4a3020" stroke-width="1.3"/>
<path d="M34.8 502.8v3M42.6 502.8v1.6M47.1 502.8v1.6M50.3 502.8v1.6M52.8 502.8v1.6M54.8 502.8v1.6M56.6 502.8v1.6M58.1 502.8v1.6M59.4 502.8v1.6M60.5 502.8v3M68.3 502.8v1.6M72.8 502.8v1.6M76.1 502.8v1.6M78.5 502.8v1.6M80.6 502.8v1.6M82.3 502.8v1.6M83.8 502.8v1.6M85.1 502.8v1.6M86.3 502.8v3M94.1 502.8v1.6M98.6 502.8v1.6M101.8 502.8v1.6M104.3 502.8v1.6M106.3 502.8v1.6M108.1 502.8v1.6M109.6 502.8v1.6M110.9 502.8v1.6M112.1 502.8v3M119.8 502.8v1.6M124.3 502.8v1.6M127.6 502.8v1.6M130 502.8v1.6M132.1 502.8v1.6M133.8 502.8v1.6M135.3 502.8v1.6M136.6 502.8v1.6M137.8 502.8v3M31.8 502.8h3" stroke="#444" stroke-width="0.6"/>
<g style="font:5.8px 'Liberation Sans',sans-serif" fill="#333">
<text x="39.2" y="516.1" text-anchor="middle">10</text><text x="41.8" y="512.4" style="font-size:4.6px">0</text>
<text x="60.5" y="516.1" text-anchor="middle">10</text><text x="63.1" y="512.4" style="font-size:4.6px">1</text>
<text x="86.3" y="516.1" text-anchor="middle">10</text><text x="88.9" y="512.4" style="font-size:4.6px">2</text>
<text x="112.1" y="516.1" text-anchor="middle">10</text><text x="114.7" y="512.4" style="font-size:4.6px">3</text>
<text x="134.4" y="516.1" text-anchor="middle">10</text><text x="137" y="512.4" style="font-size:4.6px">4</text>
<text x="30" y="502.6" text-anchor="end" style="font-size:5.2px">0</text>
</g>
<g>
<rect x="157.2" y="362" width="61" height="7.2" fill="#fff" stroke="#4a4a4a" stroke-width="0.9"/>
<path d="M157.7 365.6h19.4" stroke="#f0a040" stroke-width="2.8"/>
<path d="M177.2 362v7.2" stroke="#4a4a4a" stroke-width="0.9"/>
<text x="177.8" y="367.7" textLength="11.5" lengthAdjust="spacingAndGlyphs" style="font:5.8px 'Liberation Sans',sans-serif" fill="#333">7.001</text>
<rect x="157.2" y="369.2" width="61" height="7.2" fill="#fff" stroke="#4a4a4a" stroke-width="0.9"/>
<path d="M157.7 372.8h19.4" stroke="#38c4ea" stroke-width="2.8"/>
<path d="M177.2 369.2v7.2" stroke="#4a4a4a" stroke-width="0.9"/>
<text x="177.8" y="374.9" textLength="21" lengthAdjust="spacingAndGlyphs" style="font:5.8px 'Liberation Sans',sans-serif" fill="#333">CON+.001</text>
<rect x="157.2" y="376.4" width="61" height="7.2" fill="#fff" stroke="#4a4a4a" stroke-width="0.9"/>
<path d="M157.7 380h19.4" stroke="#e03434" stroke-width="2.8"/>
<path d="M177.2 376.4v7.2" stroke="#4a4a4a" stroke-width="0.9"/>
<text x="177.8" y="382.1" textLength="21" lengthAdjust="spacingAndGlyphs" style="font:5.8px 'Liberation Sans',sans-serif" fill="#333">CON-.001</text>
</g>
<rect x="157.2" y="383.6" width="103.5" height="121.6" fill="#fff" stroke="#666" stroke-width="1"/>
<g fill="none" stroke-width="0.9" stroke-linejoin="round" stroke-dasharray="2.4 0.7">
<path d="M157.2 497.8L157.8 497.2L158.5 493.4L159.1 490.7L159.8 489.4L160.4 486.3L161.1 481.9L161.7 477L162.4 469.5L163 466.3L163.7 460.7L164.3 451.3L165 440.5L165.6 429.2L166.3 420.8L166.9 413L167.5 411L168.2 406.3L168.8 400.6L169.5 397.8L170.1 393.7L170.8 394.1L171.4 399.1L172.1 399.8L172.7 403.7L173.4 403L174 408.6L174.7 412.7L175.3 415.5L176 420.4L176.6 422.6L177.3 426.5L177.9 430.2L178.5 432.9L179.2 436.5L179.8 438.3L180.5 440.5L181.1 442.3L181.8 445.4L182.4 448.2L183.1 452.8L183.7 456.1L184.4 460.3L185 465.6L185.7 468.6L186.3 471L187 474L187.6 477.3L188.2 482L188.9 486.1L189.5 489.4L190.2 490.9L190.8 492.4L191.5 493.2L192.1 494.8L192.8 495.9L193.4 497.1L194.1 498.5L194.7 500L195.4 499.7L196 499.9L196.7 500.5L197.3 501.6L198 502L198.6 501.9L199.2 502.1L199.9 502.8L200.5 502.7L201.2 503L201.8 502.8L202.5 503.7L203.1 503.2L203.8 503.5L204.4 504L205.1 504.2L205.7 504.3L206.4 504.4L207 504.4L207.7 504.4L208.3 504.4L208.9 504.4L209.6 504.4L210.2 504.4L210.9 504.4L211.5 504.4L212.2 504.4L212.8 504.4L213.5 504.4L214.1 504.4L214.8 504.4L215.4 504.4L216.1 504.4L216.7 504.4L217.4 504.4L218 504.4L218.7 504.4L219.3 504.4L219.9 504.4L220.6 504.4L221.2 504.4L221.9 504.4L222.5 504.4L223.2 504.4L223.8 504.4L224.5 504.4L225.1 504.4L225.8 504.4L226.4 504.4L227.1 504.4L227.7 504.4L228.4 504.4L229 504.4L229.6 504.4L230.3 504.4L230.9 504.4L231.6 504.4L232.2 504.4L232.9 504.4L233.5 504.4L234.2 504.4L234.8 504.4L235.5 504.4L236.1 504.4L236.8 504.4L237.4 504.4L238.1 504.4L238.7 504.4L239.4 504.4L240 504.4L240.6 504.4L241.3 504.4L241.9 504.4L242.6 504.4L243.2 504.4L243.9 504.4L244.5 504.4L245.2 504.4L245.8 504.4L246.5 504.4L247.1 504.4L247.8 504.4L248.4 504.4L249.1 504.4L249.7 504.4L250.3 504.4L251 504.4L251.6 504.4L252.3 504.4L252.9 504.4L253.6 504.4L254.2 504.4L254.9 504.4L255.5 504.4L256.2 504.4L256.8 504.4L257.5 504.4L258.1 504.4L258.8 504.4L259.4 504.4L260.1 504.4L260.7 504.4" stroke="#e03434"/>
<path d="M157.2 504.4L157.8 504.4L158.5 504.4L159.1 504.4L159.8 504.4L160.4 504.4L161.1 504.4L161.7 504.4L162.4 504.4L163 504.4L163.7 504.4L164.3 504.4L165 504.4L165.6 504.4L166.3 504.4L166.9 504.4L167.5 504.4L168.2 504.4L168.8 504.4L169.5 504.4L170.1 504.4L170.8 504.4L171.4 504.4L172.1 504.4L172.7 504.4L173.4 504.4L174 504.4L174.7 504.4L175.3 504.4L176 504.4L176.6 504.4L177.3 504.4L177.9 504.4L178.5 504.4L179.2 504.4L179.8 504.4L180.5 504.4L181.1 504.4L181.8 504.4L182.4 504.4L183.1 504.4L183.7 504.4L184.4 504.4L185 504.4L185.7 504.4L186.3 504.4L187 504.3L187.6 504.1L188.2 503.5L188.9 501.5L189.5 498.1L190.2 495.1L190.8 492.7L191.5 488.9L192.1 487.7L192.8 479.3L193.4 469.4L194.1 457.3L194.7 444.2L195.4 432.9L196 425.6L196.7 421.2L197.3 416.5L198 409.4L198.6 404.5L199.2 398.6L199.9 404.6L200.5 410.8L201.2 415.8L201.8 419.1L202.5 429.8L203.1 439L203.8 444.4L204.4 453L205.1 464.5L205.7 475.2L206.4 481.1L207 483.1L207.7 486.5L208.3 489.9L208.9 493.1L209.6 493.7L210.2 495.4L210.9 495.9L211.5 496.3L212.2 497.2L212.8 497.9L213.5 498.8L214.1 499.5L214.8 499.3L215.4 499.6L216.1 499.1L216.7 499.8L217.4 499.3L218 499.7L218.7 500L219.3 499.9L219.9 499.6L220.6 500.4L221.2 500.7L221.9 499.8L222.5 500.5L223.2 499.8L223.8 500.4L224.5 500.5L225.1 500L225.8 501L226.4 500.1L227.1 500.8L227.7 500.3L228.4 500.1L229 500.3L229.6 500.9L230.3 500.2L230.9 500.8L231.6 501.2L232.2 501.2L232.9 501.7L233.5 501.2L234.2 501.6L234.8 501.7L235.5 501.5L236.1 502.2L236.8 502.9L237.4 502.4L238.1 503.2L238.7 502.8L239.4 503L240 503.2L240.6 503L241.3 503.8L241.9 503.5L242.6 503.8L243.2 503.9L243.9 504.1L244.5 504.1L245.2 503.5L245.8 504L246.5 504.1L247.1 504.2L247.8 504.3L248.4 504.4L249.1 504.4L249.7 504.4L250.3 504.4L251 504.4L251.6 504.4L252.3 504.4L252.9 504.4L253.6 504.4L254.2 504.4L254.9 504.4L255.5 504.4L256.2 504.4L256.8 504.4L257.5 504.4L258.1 504.4L258.8 504.4L259.4 504.4L260.1 504.4L260.7 504.4" stroke="#f0a040"/>
<path d="M157.2 504.4L157.8 504.4L158.5 504.4L159.1 504.4L159.8 504.4L160.4 504.4L161.1 504.4L161.7 504.4L162.4 504.4L163 504.4L163.7 504.4L164.3 504.4L165 504.4L165.6 504.4L166.3 504.4L166.9 504.4L167.5 504.4L168.2 504.4L168.8 504.4L169.5 504.4L170.1 504.4L170.8 504.4L171.4 504.4L172.1 504.4L172.7 504.4L173.4 504.4L174 504.4L174.7 504.4L175.3 504.4L176 504.4L176.6 504.4L177.3 504.4L177.9 504.4L178.5 504.4L179.2 504.4L179.8 504.4L180.5 504.4L181.1 504.4L181.8 504.4L182.4 504.4L183.1 504.4L183.7 504.4L184.4 504.4L185 504.4L185.7 504.4L186.3 504.4L187 504.4L187.6 504.4L188.2 504.4L188.9 504.4L189.5 504.4L190.2 504.4L190.8 504.4L191.5 504.4L192.1 504.4L192.8 504.4L193.4 504.4L194.1 504.4L194.7 504.4L195.4 504.4L196 504.4L196.7 503.8L197.3 502.8L198 503L198.6 502L199.2 501.3L199.9 500.9L200.5 501.7L201.2 500.3L201.8 500.1L202.5 501L203.1 500.4L203.8 499.6L204.4 500.2L205.1 500.1L205.7 499.3L206.4 498.9L207 498.4L207.7 498.8L208.3 498.3L208.9 498.2L209.6 496.7L210.2 496L210.9 495.2L211.5 495.7L212.2 495L212.8 493.6L213.5 493.1L214.1 489.6L214.8 486.2L215.4 483.4L216.1 480.4L216.7 476.1L217.4 470.7L218 462.8L218.7 454.7L219.3 449.8L219.9 445.2L220.6 436.4L221.2 428.1L221.9 417.8L222.5 411.2L223.2 407.2L223.8 400.5L224.5 394.6L225.1 400.5L225.8 408.2L226.4 413.3L227.1 417.4L227.7 427.1L228.4 436.2L229 441.1L229.6 446.5L230.3 454.4L230.9 463.6L231.6 471L232.2 476.5L232.9 478.6L233.5 482.8L234.2 487.8L234.8 491.7L235.5 493.5L236.1 495.4L236.8 497.1L237.4 498.5L238.1 500.9L238.7 502.1L239.4 502.4L240 503.4L240.6 502.6L241.3 503.1L241.9 504L242.6 504.3L243.2 504.4L243.9 504.4L244.5 504.4L245.2 504.4L245.8 504.4L246.5 504.4L247.1 504.4L247.8 504.4L248.4 504.4L249.1 504.4L249.7 504.4L250.3 504.4L251 504.4L251.6 504.4L252.3 504.4L252.9 504.4L253.6 504.4L254.2 504.4L254.9 504.4L255.5 504.4L256.2 504.4L256.8 504.4L257.5 504.4L258.1 504.4L258.8 504.4L259.4 504.4L260.1 504.4L260.7 504.4" stroke="#38c4ea"/>
</g>
<path d="M157.2 505.2H260.7" stroke="#4a3020" stroke-width="1.3"/>
<path d="M157.2 505.2v3M165 505.2v1.6M169.5 505.2v1.6M172.8 505.2v1.6M175.3 505.2v1.6M177.3 505.2v1.6M179.1 505.2v1.6M180.6 505.2v1.6M181.9 505.2v1.6M183.1 505.2v3M190.9 505.2v1.6M195.4 505.2v1.6M198.7 505.2v1.6M201.2 505.2v1.6M203.2 505.2v1.6M204.9 505.2v1.6M206.4 505.2v1.6M207.8 505.2v1.6M208.9 505.2v3M216.7 505.2v1.6M221.3 505.2v1.6M224.5 505.2v1.6M227 505.2v1.6M229.1 505.2v1.6M230.8 505.2v1.6M232.3 505.2v1.6M233.6 505.2v1.6M234.8 505.2v3M242.6 505.2v1.6M247.2 505.2v1.6M250.4 505.2v1.6M252.9 505.2v1.6M255 505.2v1.6M256.7 505.2v1.6M258.2 505.2v1.6M259.5 505.2v1.6M260.7 505.2v3M154.2 505.2h3" stroke="#444" stroke-width="0.6"/>
<g style="font:5.8px 'Liberation Sans',sans-serif" fill="#333">
<text x="161.6" y="518.5" text-anchor="middle">10</text><text x="164.2" y="514.8" style="font-size:4.6px">0</text>
<text x="183.1" y="518.5" text-anchor="middle">10</text><text x="185.7" y="514.8" style="font-size:4.6px">1</text>
<text x="208.9" y="518.5" text-anchor="middle">10</text><text x="211.5" y="514.8" style="font-size:4.6px">2</text>
<text x="234.8" y="518.5" text-anchor="middle">10</text><text x="237.4" y="514.8" style="font-size:4.6px">3</text>
<text x="257.3" y="518.5" text-anchor="middle">10</text><text x="259.9" y="514.8" style="font-size:4.6px">4</text>
<text x="152.4" y="505" text-anchor="end" style="font-size:5.2px">0</text>
</g>
<g>
<rect x="282.9" y="362" width="57" height="7.2" fill="#fff" stroke="#4a4a4a" stroke-width="0.9"/>
<path d="M283.4 365.6h19.4" stroke="#f0a040" stroke-width="2.8"/>
<path d="M302.9 362v7.2" stroke="#4a4a4a" stroke-width="0.9"/>
<text x="303.5" y="367.7" textLength="11.5" lengthAdjust="spacingAndGlyphs" style="font:5.8px 'Liberation Sans',sans-serif" fill="#333">8.001</text>
<rect x="282.9" y="369.2" width="57" height="7.2" fill="#fff" stroke="#4a4a4a" stroke-width="0.9"/>
<path d="M283.4 372.8h19.4" stroke="#38c4ea" stroke-width="2.8"/>
<path d="M302.9 369.2v7.2" stroke="#4a4a4a" stroke-width="0.9"/>
<text x="303.5" y="374.9" textLength="21" lengthAdjust="spacingAndGlyphs" style="font:5.8px 'Liberation Sans',sans-serif" fill="#333">CON+.001</text>
<rect x="282.9" y="376.4" width="57" height="7.2" fill="#fff" stroke="#4a4a4a" stroke-width="0.9"/>
<path d="M283.4 380h19.4" stroke="#e03434" stroke-width="2.8"/>
<path d="M302.9 376.4v7.2" stroke="#4a4a4a" stroke-width="0.9"/>
<text x="303.5" y="382.1" textLength="21" lengthAdjust="spacingAndGlyphs" style="font:5.8px 'Liberation Sans',sans-serif" fill="#333">CON-.001</text>
</g>
<rect x="282.9" y="383.6" width="103.5" height="121.6" fill="#fff" stroke="#666" stroke-width="1"/>
<g fill="none" stroke-width="0.9" stroke-linejoin="round" stroke-dasharray="2.4 0.7">
<path d="M282.9 498.2L283.5 495.9L284.2 493.8L284.8 491.2L285.5 489L286.1 487.4L286.8 481.5L287.4 476L288.1 471L288.7 465.9L289.4 460.2L290 450.7L290.7 441.6L291.3 430.5L292 421.1L292.6 412.7L293.2 408.3L293.9 404.6L294.5 401.9L295.2 396.6L295.8 394.8L296.5 396.6L297.1 398L297.8 400.9L298.4 402.9L299.1 404.8L299.7 407.4L300.4 410.4L301 417.2L301.7 419.8L302.3 423L303 427.5L303.6 430.8L304.2 431.8L304.9 434.6L305.5 436.6L306.2 438.7L306.8 441L307.5 445.5L308.1 449.8L308.8 452L309.4 455L310.1 459.2L310.7 464L311.4 468.6L312 471L312.7 474.2L313.3 477.8L313.9 481.6L314.6 486L315.2 488.8L315.9 490.6L316.5 492L317.2 493.5L317.8 494.9L318.5 496L319.1 497.5L319.8 498.7L320.4 499.7L321.1 499.5L321.7 499.9L322.4 500L323 500.5L323.7 502.1L324.3 502.1L324.9 502.1L325.6 502.7L326.2 502.8L326.9 503.4L327.5 503.4L328.2 503L328.8 503.4L329.5 503.3L330.1 504L330.8 504.2L331.4 504.3L332.1 504.4L332.7 504.4L333.4 504.4L334 504.4L334.6 504.4L335.3 504.4L335.9 504.4L336.6 504.4L337.2 504.4L337.9 504.4L338.5 504.4L339.2 504.4L339.8 504.4L340.5 504.4L341.1 504.4L341.8 504.4L342.4 504.4L343.1 504.4L343.7 504.4L344.4 504.4L345 504.4L345.6 504.4L346.3 504.4L346.9 504.4L347.6 504.4L348.2 504.4L348.9 504.4L349.5 504.4L350.2 504.4L350.8 504.4L351.5 504.4L352.1 504.4L352.8 504.4L353.4 504.4L354.1 504.4L354.7 504.4L355.3 504.4L356 504.4L356.6 504.4L357.3 504.4L357.9 504.4L358.6 504.4L359.2 504.4L359.9 504.4L360.5 504.4L361.2 504.4L361.8 504.4L362.5 504.4L363.1 504.4L363.8 504.4L364.4 504.4L365.1 504.4L365.7 504.4L366.3 504.4L367 504.4L367.6 504.4L368.3 504.4L368.9 504.4L369.6 504.4L370.2 504.4L370.9 504.4L371.5 504.4L372.2 504.4L372.8 504.4L373.5 504.4L374.1 504.4L374.8 504.4L375.4 504.4L376 504.4L376.7 504.4L377.3 504.4L378 504.4L378.6 504.4L379.3 504.4L379.9 504.4L380.6 504.4L381.2 504.4L381.9 504.4L382.5 504.4L383.2 504.4L383.8 504.4L384.5 504.4L385.1 504.4L385.8 504.4L386.4 504.4" stroke="#e03434"/>
<path d="M282.9 504.4L283.5 504.4L284.2 504.4L284.8 504.4L285.5 504.4L286.1 504.4L286.8 504.4L287.4 504.4L288.1 504.4L288.7 504.4L289.4 504.4L290 504.4L290.7 504.4L291.3 504.4L292 504.4L292.6 504.4L293.2 504.4L293.9 504.4L294.5 504.4L295.2 504.4L295.8 504.4L296.5 504.4L297.1 504.4L297.8 504.4L298.4 504.4L299.1 504.4L299.7 504.4L300.4 504.4L301 504.4L301.7 504.4L302.3 504.4L303 504.4L303.6 504.4L304.2 504.4L304.9 504.4L305.5 504.4L306.2 504.4L306.8 504.4L307.5 504.4L308.1 504.4L308.8 504.4L309.4 504.4L310.1 504.4L310.7 504.4L311.4 504.4L312 504.4L312.7 504.4L313.3 504.4L313.9 504L314.6 502.9L315.2 502L315.9 499.8L316.5 496.7L317.2 493.4L317.8 490.2L318.5 488.5L319.1 485.1L319.8 476L320.4 463.5L321.1 450.1L321.7 438.6L322.4 429.5L323 425.2L323.7 419.6L324.3 412.8L324.9 405.6L325.6 400.7L326.2 399.7L326.9 405.2L327.5 408.5L328.2 415L328.8 422.4L329.5 430.3L330.1 440L330.8 447.3L331.4 457.5L332.1 470L332.7 479.1L333.4 482.1L334 485.5L334.6 487.6L335.3 491.1L335.9 493.3L336.6 494.8L337.2 494.8L337.9 496.4L338.5 496.4L339.2 498.2L339.8 498.2L340.5 499.3L341.1 498.4L341.8 498.6L342.4 499.3L343.1 498.8L343.7 499.1L344.4 500.1L345 499.3L345.6 499.5L346.3 500.4L346.9 499.9L347.6 500.4L348.2 500.8L348.9 500.3L349.5 500.7L350.2 499.9L350.8 500.1L351.5 500.7L352.1 500.6L352.8 501L353.4 500.7L354.1 500.5L354.7 500.2L355.3 500.1L356 500.5L356.6 500.8L357.3 500.3L357.9 500.7L358.6 500.6L359.2 501.3L359.9 500.8L360.5 501.8L361.2 501.8L361.8 502.2L362.5 502.2L363.1 502.1L363.8 501.9L364.4 503.2L365.1 502.7L365.7 503.3L366.3 502.7L367 502.9L367.6 502.7L368.3 502.8L368.9 503.2L369.6 503.8L370.2 503.4L370.9 503.8L371.5 504.1L372.2 504L372.8 504.1L373.5 504.2L374.1 504.3L374.8 504.3L375.4 504.4L376 504.4L376.7 504.4L377.3 504.4L378 504.4L378.6 504.4L379.3 504.4L379.9 504.4L380.6 504.4L381.2 504.4L381.9 504.4L382.5 504.4L383.2 504.4L383.8 504.4L384.5 504.4L385.1 504.4L385.8 504.4L386.4 504.4" stroke="#f0a040"/>
<path d="M282.9 504.4L283.5 504.4L284.2 504.4L284.8 504.4L285.5 504.4L286.1 504.4L286.8 504.4L287.4 504.4L288.1 504.4L288.7 504.4L289.4 504.4L290 504.4L290.7 504.4L291.3 504.4L292 504.4L292.6 504.4L293.2 504.4L293.9 504.4L294.5 504.4L295.2 504.4L295.8 504.4L296.5 504.4L297.1 504.4L297.8 504.4L298.4 504.4L299.1 504.4L299.7 504.4L300.4 504.4L301 504.4L301.7 504.4L302.3 504.4L303 504.4L303.6 504.4L304.2 504.4L304.9 504.4L305.5 504.4L306.2 504.4L306.8 504.4L307.5 504.4L308.1 504.4L308.8 504.4L309.4 504.4L310.1 504.4L310.7 504.4L311.4 504.4L312 504.4L312.7 504.4L313.3 504.4L313.9 504.4L314.6 504.4L315.2 504.4L315.9 504.4L316.5 504.4L317.2 504.4L317.8 504.4L318.5 504.4L319.1 504.4L319.8 504.4L320.4 504.4L321.1 504.4L321.7 504.4L322.4 503.4L323 503.2L323.7 502.8L324.3 502.1L324.9 502L325.6 501.9L326.2 500.8L326.9 501L327.5 500.9L328.2 500.7L328.8 500.6L329.5 500.1L330.1 499.9L330.8 500.2L331.4 499.5L332.1 498.5L332.7 498.4L333.4 498.4L334 498.4L334.6 498L335.3 497.5L335.9 496.5L336.6 496L337.2 495.4L337.9 494.6L338.5 492.6L339.2 489.7L339.8 487.4L340.5 483.2L341.1 480.5L341.8 477.1L342.4 470.6L343.1 463.7L343.7 455.6L344.4 449.8L345 444.5L345.6 438L346.3 427.9L346.9 418.2L347.6 411.9L348.2 407.4L348.9 401.1L349.5 399.3L350.2 402L350.8 409.9L351.5 412.3L352.1 417.1L352.8 425L353.4 434.2L354.1 441.3L354.7 445.5L355.3 453.5L356 462.9L356.6 470.3L357.3 476.3L357.9 479.5L358.6 483.6L359.2 487.2L359.9 492.7L360.5 494.4L361.2 494.9L361.8 496.4L362.5 498.8L363.1 500.4L363.8 501.3L364.4 502.8L365.1 503.3L365.7 503.4L366.3 503.3L367 503.9L367.6 504.3L368.3 504.4L368.9 504.4L369.6 504.4L370.2 504.4L370.9 504.4L371.5 504.4L372.2 504.4L372.8 504.4L373.5 504.4L374.1 504.4L374.8 504.4L375.4 504.4L376 504.4L376.7 504.4L377.3 504.4L378 504.4L378.6 504.4L379.3 504.4L379.9 504.4L380.6 504.4L381.2 504.4L381.9 504.4L382.5 504.4L383.2 504.4L383.8 504.4L384.5 504.4L385.1 504.4L385.8 504.4L386.4 504.4" stroke="#38c4ea"/>
</g>
<path d="M282.9 505.2H386.4" stroke="#4a3020" stroke-width="1.3"/>
<path d="M282.9 505.2v3M290.7 505.2v1.6M295.2 505.2v1.6M298.5 505.2v1.6M301 505.2v1.6M303 505.2v1.6M304.8 505.2v1.6M306.3 505.2v1.6M307.6 505.2v1.6M308.8 505.2v3M316.6 505.2v1.6M321.1 505.2v1.6M324.4 505.2v1.6M326.9 505.2v1.6M328.9 505.2v1.6M330.6 505.2v1.6M332.1 505.2v1.6M333.5 505.2v1.6M334.6 505.2v3M342.4 505.2v1.6M347 505.2v1.6M350.2 505.2v1.6M352.7 505.2v1.6M354.8 505.2v1.6M356.5 505.2v1.6M358 505.2v1.6M359.3 505.2v1.6M360.5 505.2v3M368.3 505.2v1.6M372.9 505.2v1.6M376.1 505.2v1.6M378.6 505.2v1.6M380.7 505.2v1.6M382.4 505.2v1.6M383.9 505.2v1.6M385.2 505.2v1.6M386.4 505.2v3M279.9 505.2h3" stroke="#444" stroke-width="0.6"/>
<g style="font:5.8px 'Liberation Sans',sans-serif" fill="#333">
<text x="287.3" y="518.5" text-anchor="middle">10</text><text x="289.9" y="514.8" style="font-size:4.6px">0</text>
<text x="308.8" y="518.5" text-anchor="middle">10</text><text x="311.4" y="514.8" style="font-size:4.6px">1</text>
<text x="334.6" y="518.5" text-anchor="middle">10</text><text x="337.2" y="514.8" style="font-size:4.6px">2</text>
<text x="360.5" y="518.5" text-anchor="middle">10</text><text x="363.1" y="514.8" style="font-size:4.6px">3</text>
<text x="383" y="518.5" text-anchor="middle">10</text><text x="385.6" y="514.8" style="font-size:4.6px">4</text>
<text x="278.1" y="505" text-anchor="end" style="font-size:5.2px">0</text>
</g>
<g>
<rect x="410" y="362" width="58" height="7.2" fill="#fff" stroke="#4a4a4a" stroke-width="0.9"/>
<path d="M410.5 365.6h19.4" stroke="#f0a040" stroke-width="2.8"/>
<path d="M430 362v7.2" stroke="#4a4a4a" stroke-width="0.9"/>
<text x="430.6" y="367.7" textLength="11.5" lengthAdjust="spacingAndGlyphs" style="font:5.8px 'Liberation Sans',sans-serif" fill="#333">9.001</text>
<rect x="410" y="369.2" width="58" height="7.2" fill="#fff" stroke="#4a4a4a" stroke-width="0.9"/>
<path d="M410.5 372.8h19.4" stroke="#38c4ea" stroke-width="2.8"/>
<path d="M430 369.2v7.2" stroke="#4a4a4a" stroke-width="0.9"/>
<text x="430.6" y="374.9" textLength="21" lengthAdjust="spacingAndGlyphs" style="font:5.8px 'Liberation Sans',sans-serif" fill="#333">CON+.001</text>
<rect x="410" y="376.4" width="58" height="7.2" fill="#fff" stroke="#4a4a4a" stroke-width="0.9"/>
<path d="M410.5 380h19.4" stroke="#e03434" stroke-width="2.8"/>
<path d="M430 376.4v7.2" stroke="#4a4a4a" stroke-width="0.9"/>
<text x="430.6" y="382.1" textLength="21" lengthAdjust="spacingAndGlyphs" style="font:5.8px 'Liberation Sans',sans-serif" fill="#333">CON-.001</text>
</g>
<rect x="410" y="383.6" width="102.8" height="121.4" fill="#fff" stroke="#666" stroke-width="1"/>
<g fill="none" stroke-width="0.9" stroke-linejoin="round" stroke-dasharray="2.4 0.7">
<path d="M410 497.7L410.6 495.9L411.3 494L411.9 491.3L412.6 489L413.2 487.3L413.9 482.7L414.5 476.8L415.1 469.6L415.8 466.6L416.4 461.2L417.1 450.5L417.7 439.7L418.4 431L419 420.6L419.6 411.3L420.3 410L420.9 405L421.6 399.9L422.2 395.6L422.9 394.8L423.5 394.4L424.1 396.8L424.8 399.8L425.4 402.6L426.1 403.1L426.7 405.4L427.3 410.1L428 417.2L428.6 419.3L429.3 422.7L429.9 425.3L430.6 428.8L431.2 432.6L431.8 434.4L432.5 436.1L433.1 440.7L433.8 441.7L434.4 443.7L435.1 449.7L435.7 452.1L436.3 454.8L437 460L437.6 464.1L438.3 469.7L438.9 471.6L439.6 474.3L440.2 478.8L440.8 481.4L441.5 485.4L442.1 488.5L442.8 491.4L443.4 491.8L444.1 493.6L444.7 494.2L445.3 495.8L446 496.8L446.6 499L447.3 499.7L447.9 500.1L448.5 499.4L449.2 500.2L449.8 501.3L450.5 501L451.1 501.9L451.8 502.3L452.4 502.2L453 502.5L453.7 502.9L454.3 503.3L455 503.3L455.6 503.5L456.3 504L456.9 503.8L457.5 504L458.2 504.1L458.8 504.2L459.5 504.2L460.1 504.2L460.8 504.2L461.4 504.2L462 504.2L462.7 504.2L463.3 504.2L464 504.2L464.6 504.2L465.3 504.2L465.9 504.2L466.5 504.2L467.2 504.2L467.8 504.2L468.5 504.2L469.1 504.2L469.8 504.2L470.4 504.2L471 504.2L471.7 504.2L472.3 504.2L473 504.2L473.6 504.2L474.2 504.2L474.9 504.2L475.5 504.2L476.2 504.2L476.8 504.2L477.5 504.2L478.1 504.2L478.7 504.2L479.4 504.2L480 504.2L480.7 504.2L481.3 504.2L482 504.2L482.6 504.2L483.2 504.2L483.9 504.2L484.5 504.2L485.2 504.2L485.8 504.2L486.5 504.2L487.1 504.2L487.7 504.2L488.4 504.2L489 504.2L489.7 504.2L490.3 504.2L491 504.2L491.6 504.2L492.2 504.2L492.9 504.2L493.5 504.2L494.2 504.2L494.8 504.2L495.5 504.2L496.1 504.2L496.7 504.2L497.4 504.2L498 504.2L498.7 504.2L499.3 504.2L499.9 504.2L500.6 504.2L501.2 504.2L501.9 504.2L502.5 504.2L503.2 504.2L503.8 504.2L504.4 504.2L505.1 504.2L505.7 504.2L506.4 504.2L507 504.2L507.7 504.2L508.3 504.2L508.9 504.2L509.6 504.2L510.2 504.2L510.9 504.2L511.5 504.2L512.2 504.2L512.8 504.2" stroke="#e03434"/>
<path d="M410 504.2L410.6 504.2L411.3 504.2L411.9 504.2L412.6 504.2L413.2 504.2L413.9 504.2L414.5 504.2L415.1 504.2L415.8 504.2L416.4 504.2L417.1 504.2L417.7 504.2L418.4 504.2L419 504.2L419.6 504.2L420.3 504.2L420.9 504.2L421.6 504.2L422.2 504.2L422.9 504.2L423.5 504.2L424.1 504.2L424.8 504.2L425.4 504.2L426.1 504.2L426.7 504.2L427.3 504.2L428 504.2L428.6 504.2L429.3 504.2L429.9 504.2L430.6 504.2L431.2 504.2L431.8 504.2L432.5 504.2L433.1 504.2L433.8 504.2L434.4 504.2L435.1 504.2L435.7 504.2L436.3 504.2L437 504.2L437.6 504.2L438.3 504.2L438.9 504.2L439.6 504.2L440.2 504.2L440.8 503.8L441.5 503.6L442.1 502.3L442.8 499.5L443.4 496.9L444.1 493.9L444.7 491.4L445.3 487.6L446 485L446.6 476.1L447.3 463.5L447.9 450.2L448.5 440L449.2 430.5L449.8 425.1L450.5 418.6L451.1 414.9L451.8 411.1L452.4 405.2L453 406.5L453.7 412.6L454.3 417.8L455 420.4L455.6 424.3L456.3 434.3L456.9 440.4L457.5 447.6L458.2 457.9L458.8 470.3L459.5 478.6L460.1 482.1L460.8 483.9L461.4 488L462 492.1L462.7 493.5L463.3 494.2L464 494.6L464.6 495.5L465.3 497.1L465.9 497.4L466.5 497.9L467.2 499.2L467.8 498.3L468.5 498.6L469.1 499.4L469.8 499.7L470.4 499.4L471 499.3L471.7 499.4L472.3 500.2L473 499.7L473.6 499.9L474.2 500.4L474.9 500L475.5 499.9L476.2 499.8L476.8 500.6L477.5 500.7L478.1 499.9L478.7 499.6L479.4 500.2L480 499.8L480.7 500.5L481.3 500.9L482 500.3L482.6 500.8L483.2 500.1L483.9 500.2L484.5 501.2L485.2 501L485.8 500.5L486.5 501.6L487.1 501.6L487.7 502L488.4 501.4L489 501.3L489.7 501.8L490.3 501.8L491 502.8L491.6 502.2L492.2 502.2L492.9 502.5L493.5 503.3L494.2 503.3L494.8 502.6L495.5 503L496.1 503.4L496.7 503.7L497.4 504.1L498 503.3L498.7 503.8L499.3 503.9L499.9 504L500.6 504.1L501.2 504.1L501.9 504.2L502.5 504.2L503.2 504.2L503.8 504.2L504.4 504.2L505.1 504.2L505.7 504.2L506.4 504.2L507 504.2L507.7 504.2L508.3 504.2L508.9 504.2L509.6 504.2L510.2 504.2L510.9 504.2L511.5 504.2L512.2 504.2L512.8 504.2" stroke="#f0a040"/>
<path d="M410 504.2L410.6 504.2L411.3 504.2L411.9 504.2L412.6 504.2L413.2 504.2L413.9 504.2L414.5 504.2L415.1 504.2L415.8 504.2L416.4 504.2L417.1 504.2L417.7 504.2L418.4 504.2L419 504.2L419.6 504.2L420.3 504.2L420.9 504.2L421.6 504.2L422.2 504.2L422.9 504.2L423.5 504.2L424.1 504.2L424.8 504.2L425.4 504.2L426.1 504.2L426.7 504.2L427.3 504.2L428 504.2L428.6 504.2L429.3 504.2L429.9 504.2L430.6 504.2L431.2 504.2L431.8 504.2L432.5 504.2L433.1 504.2L433.8 504.2L434.4 504.2L435.1 504.2L435.7 504.2L436.3 504.2L437 504.2L437.6 504.2L438.3 504.2L438.9 504.2L439.6 504.2L440.2 504.2L440.8 504.2L441.5 504.2L442.1 504.2L442.8 504.2L443.4 504.2L444.1 504.2L444.7 504.2L445.3 504.2L446 504.2L446.6 504.2L447.3 504.2L447.9 504.2L448.5 504.2L449.2 504.1L449.8 503.4L450.5 501.6L451.1 501.1L451.8 501.9L452.4 501.6L453 500.5L453.7 500.8L454.3 500L455 500.3L455.6 500.2L456.3 499.4L456.9 500L457.5 498.9L458.2 498.8L458.8 499.3L459.5 498L460.1 497.7L460.8 498.6L461.4 497.5L462 496.8L462.7 496.3L463.3 494.8L464 493.8L464.6 493.3L465.3 492.1L465.9 489.6L466.5 485.4L467.2 481.3L467.8 479.5L468.5 475L469.1 469.1L469.8 460.3L470.4 454L471 447.6L471.7 443.2L472.3 435.8L473 425L473.6 415.2L474.2 409.9L474.9 403.8L475.5 398.2L476.2 399.2L476.8 403.2L477.5 409.6L478.1 415.3L478.7 418.5L479.4 427.9L480 436.9L480.7 441.3L481.3 447.1L482 455.1L482.6 463.7L483.2 471.7L483.9 475.8L484.5 479.3L485.2 484.5L485.8 489.5L486.5 492.2L487.1 493.8L487.7 496L488.4 497.3L489 499.3L489.7 501.1L490.3 501.6L491 502.5L491.6 502.9L492.2 502.8L492.9 503.1L493.5 503.8L494.2 504.1L494.8 504.2L495.5 504.2L496.1 504.2L496.7 504.2L497.4 504.2L498 504.2L498.7 504.2L499.3 504.2L499.9 504.2L500.6 504.2L501.2 504.2L501.9 504.2L502.5 504.2L503.2 504.2L503.8 504.2L504.4 504.2L505.1 504.2L505.7 504.2L506.4 504.2L507 504.2L507.7 504.2L508.3 504.2L508.9 504.2L509.6 504.2L510.2 504.2L510.9 504.2L511.5 504.2L512.2 504.2L512.8 504.2" stroke="#38c4ea"/>
</g>
<path d="M410 505H512.8" stroke="#4a3020" stroke-width="1.3"/>
<path d="M410 505v3M417.7 505v1.6M422.3 505v1.6M425.5 505v1.6M428 505v1.6M430 505v1.6M431.7 505v1.6M433.2 505v1.6M434.5 505v1.6M435.7 505v3M443.4 505v1.6M448 505v1.6M451.2 505v1.6M453.7 505v1.6M455.7 505v1.6M457.4 505v1.6M458.9 505v1.6M460.2 505v1.6M461.4 505v3M469.1 505v1.6M473.7 505v1.6M476.9 505v1.6M479.4 505v1.6M481.4 505v1.6M483.1 505v1.6M484.6 505v1.6M485.9 505v1.6M487.1 505v3M494.8 505v1.6M499.4 505v1.6M502.6 505v1.6M505.1 505v1.6M507.1 505v1.6M508.8 505v1.6M510.3 505v1.6M511.6 505v1.6M512.8 505v3M407 505h3" stroke="#444" stroke-width="0.6"/>
<g style="font:5.8px 'Liberation Sans',sans-serif" fill="#333">
<text x="414.4" y="518.3" text-anchor="middle">10</text><text x="417" y="514.6" style="font-size:4.6px">0</text>
<text x="435.7" y="518.3" text-anchor="middle">10</text><text x="438.3" y="514.6" style="font-size:4.6px">1</text>
<text x="461.4" y="518.3" text-anchor="middle">10</text><text x="464" y="514.6" style="font-size:4.6px">2</text>
<text x="487.1" y="518.3" text-anchor="middle">10</text><text x="489.7" y="514.6" style="font-size:4.6px">3</text>
<text x="509.4" y="518.3" text-anchor="middle">10</text><text x="512" y="514.6" style="font-size:4.6px">4</text>
<text x="405.2" y="504.8" text-anchor="end" style="font-size:5.2px">0</text>
</g>
<text x="3.3" y="552" textLength="21" lengthAdjust="spacingAndGlyphs" style="font:bold 14.2px 'Liberation Sans',sans-serif" fill="#000">(D)</text>
<path d="M20.9 561V1055.2H704" stroke="#a0a0a0" stroke-width="1" fill="none"/>
<path d="M20.9 559.8l-1.1 2.8h2.2z" fill="#444"/>
<path d="M708.5 1055.2l-4.5-1.5v3z" fill="#333"/>
<text x="0.5" y="794" textLength="15.6" lengthAdjust="spacingAndGlyphs" style="font:20.5px 'Liberation Serif',serif" fill="#333">PI</text>
<text x="308.5" y="1074.7" textLength="122.8" lengthAdjust="spacingAndGlyphs" style="font:20.8px 'Liberation Mono',monospace" fill="#3a3a3a">Annexin V-FITC</text>
<g transform="translate(53 570.4)">
<rect x="0" y="0" width="140.1" height="134.9" fill="#9b9b9b"/>
</g><g transform="translate(0 0.5)">
<path d="M78 633h1m31 11h1m-33 1h1m27 0h1m-1 4h1m-6 1h1m8 1h1m-1 1h1m-9 1h1m4 0h1m-10 1h1m3 0h1m3 0h1m1 0h1m-1 1h1m-9 1h1m1 0h1m1 0h1m0 0h1m2 0h1m-24 1h1m12 0h1m1 0h1m6 0h1m1 0h1m-15 1h1m1 0h1m1 0h1m5 0h1m5 0h1m-16 1h1m2 0h1m2 0h1m1 0h1m-10 1h1m0 0h1m1 0h1m8 0h1m3 0h1m-15 1h1m1 0h1m0 0h1m-10 1h1m1 0h1m2 0h1m2 0h1m6 0h1m1 0h1m-12 1h1m6 0h1m0 0h1m1 0h1m-9 1h1m0 0h1m2 0h1m2 0h1m-17 1h1m0 0h1m0 0h1m0 0h1m0 0h1m1 0h1m1 0h1m1 0h1m2 0h1m-11 1h1m0 0h1m6 0h1m9 0h1m-22 1h1m1 0h1m0 0h1m1 0h1m1 0h1m-10 1h1m2 0h1m0 0h1m0 0h1m2 0h1m7 0h1m-17 1h1m3 0h1m1 0h1m0 0h1m2 0h1m2 0h1m2 0h1m-20 1h1m2 0h1m2 0h1m0 0h1m0 0h1m0 0h1m0 0h1m0 0h1m4 0h1m3 0h1m-16 1h1m0 0h1m1 0h1m0 0h1m0 0h1m4 0h1m2 0h1m0 0h1m-23 1h1m0 0h1m7 0h1m0 0h1m0 0h1m0 0h1m0 0h1m0 0h1m0 0h1m-16 1h1m5 0h1m0 0h1m1 0h1m1 0h1m2 0h1m-13 1h1m2 0h1m0 0h1m0 0h1m1 0h1m0 0h1m3 0h1m-9 1h1m0 0h1m1 0h1m2 0h1m0 0h1m-16 1h1m0 0h1m0 0h1m0 0h1m0 0h1m0 0h1m0 0h1m0 0h1m0 0h1m0 0h1m0 0h1m0 0h1m0 0h1m1 0h1m3 0h1m-16 1h1m0 0h1m1 0h1m0 0h1m0 0h1m0 0h1m0 0h1m1 0h1m18 0h1m-30 1h1m0 0h1m1 0h1m1 0h1m0 0h1m1 0h1m4 0h1m1 0h1m-18 1h1m5 0h1m0 0h1m0 0h1m0 0h1m3 0h1m0 0h1m3 0h1m-19 1h1m2 0h1m0 0h1m0 0h1m0 0h1m0 0h1m1 0h1m0 0h1m2 0h1m2 0h1m-21 1h1m4 0h1m0 0h1m0 0h1m0 0h1m1 0h1m0 0h1m1 0h1m1 0h1m-18 1h1m3 0h1m1 0h1m0 0h1m2 0h1m0 0h1m0 0h1m0 0h1m1 0h1m0 0h1m0 0h1m3 0h1m-20 1h1m1 0h1m1 0h1m0 0h1m0 0h1m1 0h1m1 0h1m0 0h1m0 0h1m0 0h1m-17 1h1m1 0h1m2 0h1m1 0h1m0 0h1m3 0h1m0 0h1m0 0h1m0 0h1m23 0h1m-38 1h1m1 0h1m0 0h1m0 0h1m0 0h1m0 0h1m1 0h1m0 0h1m0 0h1m1 0h1m-11 1h1m1 0h1m0 0h1m0 0h1m1 0h1m0 0h1m1 0h1m2 0h1m-20 1h1m3 0h1m1 0h1m1 0h1m0 0h1m0 0h1m3 0h1m3 0h1m1 0h1m-18 1h1m1 0h1m1 0h1m4 0h1m1 0h1m0 0h1m-14 1h1m3 0h1m0 0h1m0 0h1m0 0h1m0 0h1m0 0h1m0 0h1m1 0h1m0 0h1m1 0h1m2 0h1m-17 1h1m1 0h1m0 0h1m3 0h1m1 0h1m1 0h1m-16 1h1m0 0h1m1 0h1m3 0h1m0 0h1m1 0h1m4 0h1m-13 1h1m0 0h1m2 0h1m1 0h1m0 0h1m0 0h1m8 0h1m-17 1h1m0 0h1m0 0h1m1 0h1m-11 1h1m2 0h1m3 0h1m4 0h1m14 0h1m-27 1h1m1 0h1m0 0h1m-1 1h1m1 0h1m7 0h1m-19 1h1m13 0h1m-8 1h1m0 0h1m0 0h1m1 0h1m2 0h1m-9 1h1m1 1h1m5 2h1" stroke="#4545b0" stroke-width="1"/>
</g><g transform="translate(53 570.4)">
<g transform="translate(30.6 113) rotate(-46)">
<ellipse cx="0" cy="0" rx="20.5" ry="5.3" fill="#1818a0"/>
<ellipse cx="0" cy="0" rx="18.8" ry="4.3" fill="#1e5ab8"/>
<ellipse cx="0" cy="0" rx="17.6" ry="3.7" fill="#2a9a9a"/>
<ellipse cx="0" cy="0" rx="16.5" ry="3.2" fill="#30a030"/>
<ellipse cx="0" cy="0" rx="6.5" ry="1.6" fill="#98a020"/>
<ellipse cx="0" cy="0" rx="3.8" ry="1" fill="#b86a18"/>
</g>
<path d="M58.5 0V134.9M0 101.2H140.1" stroke="#222" stroke-width="0.9"/>
<g fill="#ececec"><rect x="0" y="0" width="24.2" height="20"/><rect x="112" y="0" width="28.1" height="20"/><rect x="115.9" y="116.3" width="24.2" height="18.6"/><rect x="0" y="116.3" width="24.2" height="18.6"/></g>
<g style="font:7px 'Liberation Sans',sans-serif" fill="#222">
<text x="2.1" y="8.7">Q1</text><text x="2.1" y="17.9">1.06%</text>
<text x="114.1" y="8.7">Q2</text><text x="114.1" y="17.9">0.033%</text>
<text x="118" y="123.7">Q3</text><text x="118" y="133.4">0.00%</text>
<text x="2.1" y="123.7">Q4</text><text x="2.1" y="133.4">98.9%</text>
</g>
<rect x="0" y="0" width="140.1" height="134.9" fill="none" stroke="#2a2a2a" stroke-width="1.1"/>
<path d="M0 134.9h-3.2M0 134.9v3.2M0 124.7h-1.8M10.5 134.9v1.8M0 118.8h-1.8M16.7 134.9v1.8M0 114.6h-1.8M21.1 134.9v1.8M0 111.3h-1.8M24.5 134.9v1.8M0 108.7h-1.8M27.3 134.9v1.8M0 106.4h-1.8M29.6 134.9v1.8M0 104.4h-1.8M31.6 134.9v1.8M0 102.7h-1.8M33.4 134.9v1.8M0 101.2h-3.2M35 134.9v3.2M0 91h-1.8M45.6 134.9v1.8M0 85.1h-1.8M51.7 134.9v1.8M0 80.9h-1.8M56.1 134.9v1.8M0 77.6h-1.8M59.5 134.9v1.8M0 74.9h-1.8M62.3 134.9v1.8M0 72.7h-1.8M64.6 134.9v1.8M0 70.7h-1.8M66.7 134.9v1.8M0 69h-1.8M68.4 134.9v1.8M0 67.4h-3.2M70 134.9v3.2M0 57.3h-1.8M80.6 134.9v1.8M0 51.4h-1.8M86.8 134.9v1.8M0 47.1h-1.8M91.1 134.9v1.8M0 43.9h-1.8M94.5 134.9v1.8M0 41.2h-1.8M97.3 134.9v1.8M0 38.9h-1.8M99.6 134.9v1.8M0 37h-1.8M101.7 134.9v1.8M0 35.3h-1.8M103.5 134.9v1.8M0 33.7h-3.2M105.1 134.9v3.2M0 23.6h-1.8M115.6 134.9v1.8M0 17.6h-1.8M121.8 134.9v1.8M0 13.4h-1.8M126.2 134.9v1.8M0 10.2h-1.8M129.6 134.9v1.8M0 7.5h-1.8M132.3 134.9v1.8M0 5.2h-1.8M134.7 134.9v1.8M0 3.3h-1.8M136.7 134.9v1.8M0 1.5h-1.8M138.5 134.9v1.8M0 0h-3.2M140.1 134.9v3.2" stroke="#333" stroke-width="0.7"/>
<g style="font:7.4px 'Liberation Sans',sans-serif" fill="#333">
<text x="-9" y="135.1" text-anchor="end">10</text><text x="-8.6" y="130.1" style="font-size:6px">0</text>
<text x="6.5" y="149.6" text-anchor="middle">10</text><text x="10.9" y="144.5" style="font-size:6px">0</text>
<text x="-9" y="104.3" text-anchor="end">10</text><text x="-8.6" y="99.3" style="font-size:6px">1</text>
<text x="35" y="149.6" text-anchor="middle">10</text><text x="39.4" y="144.5" style="font-size:6px">1</text>
<text x="-9" y="70.6" text-anchor="end">10</text><text x="-8.6" y="65.6" style="font-size:6px">2</text>
<text x="70" y="149.6" text-anchor="middle">10</text><text x="74.5" y="144.5" style="font-size:6px">2</text>
<text x="-9" y="36.9" text-anchor="end">10</text><text x="-8.6" y="31.9" style="font-size:6px">3</text>
<text x="105.1" y="149.6" text-anchor="middle">10</text><text x="109.5" y="144.5" style="font-size:6px">3</text>
<text x="-9" y="13.2" text-anchor="end">10</text><text x="-8.6" y="8.2" style="font-size:6px">4</text>
<text x="134.7" y="149.6" text-anchor="middle">10</text><text x="139.1" y="144.5" style="font-size:6px">4</text>
</g>
</g>
<g transform="translate(216.6 569.6)">
<rect x="0" y="0" width="141.8" height="136.7" fill="#9b9b9b"/>
</g><g transform="translate(0 0.5)">
<path d="M340 596h1m-16 1h1m-79 3h1m4 2h1m-27 1h1m70 7h1m1 2h1m-53 1h1m93 0h1m-33 1h1m5 0h1m0 0h1m-8 1h1m-7 1h1m7 0h1m-3 1h1m9 0h1m-30 1h1m1 0h1m-55 2h1m50 0h1m17 0h1m-23 1h1m3 0h1m1 0h1m3 0h1m3 0h1m11 0h1m31 0h1m-110 1h1m63 0h1m-46 1h1m20 0h1m5 0h1m16 0h1m4 0h1m-4 1h1m10 0h1m-18 1h1m10 0h1m8 0h1m2 0h1m34 0h1m-61 1h1m4 0h1m0 0h1m1 0h1m-26 1h1m17 0h1m13 0h1m2 0h1m9 0h1m3 0h1m-58 1h1m9 0h1m8 0h1m4 0h1m8 0h1m7 0h1m1 0h1m0 0h1m0 0h1m4 0h1m4 0h1m1 0h1m1 0h1m17 0h1m-67 1h1m13 0h1m1 0h1m0 0h1m2 0h1m0 0h1m0 0h1m2 0h1m0 0h1m1 0h1m9 0h1m35 0h1m-80 1h1m20 0h1m7 0h1m0 0h1m0 0h1m2 0h1m1 0h1m6 0h1m2 0h1m20 0h1m-67 1h1m5 0h1m6 0h1m12 0h1m9 0h1m1 0h1m0 0h1m2 0h1m7 0h1m16 0h1m-63 1h1m5 0h1m2 0h1m2 0h1m5 0h1m0 0h1m0 0h1m2 0h1m2 0h1m1 0h1m2 0h1m3 0h1m2 0h1m1 0h1m3 0h1m8 0h1m-50 1h1m0 0h1m1 0h1m5 0h1m0 0h1m1 0h1m1 0h1m0 0h1m1 0h1m2 0h1m2 0h1m4 0h1m2 0h1m2 0h1m1 0h1m7 0h1m11 0h1m-50 1h1m0 0h1m2 0h1m0 0h1m0 0h1m1 0h1m1 0h1m0 0h1m0 0h1m0 0h1m7 0h1m0 0h1m3 0h1m11 0h1m-70 1h1m12 0h1m15 0h1m1 0h1m1 0h1m1 0h1m1 0h1m0 0h1m0 0h1m1 0h1m7 0h1m0 0h1m0 0h1m1 0h1m2 0h1m2 0h1m0 0h1m-29 1h1m2 0h1m6 0h1m2 0h1m1 0h1m1 0h1m6 0h1m13 0h1m9 0h1m4 0h1m0 0h1m8 0h1m-69 1h1m0 0h1m0 0h1m3 0h1m0 0h1m3 0h1m16 0h1m7 0h1m5 0h1m11 0h1m-66 1h1m3 0h1m10 0h1m0 0h1m0 0h1m0 0h1m2 0h1m16 0h1m1 0h1m3 0h1m5 0h1m1 0h1m0 0h1m3 0h1m8 0h1m-67 1h1m3 0h1m1 0h1m3 0h1m4 0h1m5 0h1m15 0h1m1 0h1m0 0h1m0 0h1m0 0h1m1 0h1m1 0h1m-38 1h1m5 0h1m0 0h1m0 0h1m26 0h1m0 0h1m0 0h1m2 0h1m2 0h1m16 0h1m-68 1h1m3 0h1m4 0h1m0 0h1m0 0h1m2 0h1m23 0h1m0 0h1m0 0h1m5 0h1m9 0h1m2 0h1m-79 1h1m24 0h1m1 0h1m32 0h1m0 0h1m3 0h1m-52 1h1m1 0h1m5 0h1m2 0h1m5 0h1m29 0h1m0 0h1m2 0h1m0 0h1m0 0h1m0 0h1m1 0h1m-71 1h1m2 0h1m7 0h1m13 0h1m3 0h1m29 0h1m1 0h1m1 0h1m7 0h1m2 0h1m3 0h1m-66 1h1m4 0h1m11 0h1m30 0h1m4 0h1m0 0h1m4 0h1m0 0h1m-72 1h1m20 0h1m4 0h1m31 0h1m0 0h1m3 0h1m1 0h1m2 0h1m1 0h1m13 0h1m-102 1h1m44 0h1m0 0h1m29 0h1m0 0h1m1 0h1m0 0h1m4 0h1m-74 1h1m11 0h1m11 0h1m2 0h1m0 0h1m2 0h1m30 0h1m0 0h1m1 0h1m1 0h1m6 0h1m0 0h1m1 0h1m-61 1h1m14 0h1m28 0h1m1 0h1m1 0h1m1 0h1m2 0h1m0 0h1m21 0h1m-72 1h1m6 0h1m0 0h1m1 0h1m28 0h1m0 0h1m0 0h1m1 0h1m7 0h1m3 0h1m20 0h1m-81 1h1m5 0h1m8 0h1m0 0h1m25 0h1m1 0h1m2 0h1m2 0h1m0 0h1m0 0h1m0 0h1m0 0h1m1 0h1m2 0h1m3 0h1m-73 1h1m13 0h1m4 0h1m1 0h1m0 0h1m3 0h1m26 0h1m1 0h1m2 0h1m7 0h1m0 0h1m8 0h1m-57 1h1m2 0h1m0 0h1m27 0h1m3 0h1m0 0h1m0 0h1m0 0h1m-51 1h1m10 0h1m0 0h1m5 0h1m25 0h1m1 0h1m0 0h1m0 0h1m2 0h1m4 0h1m1 0h1m-84 1h1m10 0h1m30 0h1m22 0h1m0 0h1m2 0h1m0 0h1m1 0h1m1 0h1m3 0h1m12 0h1m3 0h1m-62 1h1m5 0h1m3 0h1m20 0h1m2 0h1m2 0h1m3 0h1m3 0h1m0 0h1m7 0h1m-72 1h1m19 0h1m3 0h1m2 0h1m1 0h1m0 0h1m0 0h1m13 0h1m2 0h1m2 0h1m2 0h1m2 0h1m0 0h1m1 0h1m0 0h1m10 0h1m-66 1h1m7 0h1m14 0h1m15 0h1m0 0h1m0 0h1m2 0h1m0 0h1m2 0h1m1 0h1m6 0h1m23 0h1m-82 1h1m4 0h1m5 0h1m2 0h1m0 0h1m0 0h1m2 0h1m0 0h1m3 0h1m13 0h1m1 0h1m1 0h1m0 0h1m4 0h1m3 0h1m2 0h1m-100 1h1m63 0h1m1 0h1m17 0h1m0 0h1m1 0h1m3 0h1m0 0h1m10 0h1m1 0h1m8 0h1m6 0h1m2 0h1m-92 1h1m28 0h1m2 0h1m2 0h1m14 0h1m0 0h1m0 0h1m0 0h1m0 0h1m0 0h1m0 0h1m3 0h1m0 0h1m0 0h1m3 0h1m2 0h1m-67 1h1m17 0h1m10 0h1m3 0h1m14 0h1m1 0h1m3 0h1m0 0h1m1 0h1m0 0h1m1 0h1m6 0h1m21 0h1m-115 1h1m44 0h1m2 0h1m2 0h1m0 0h1m2 0h1m0 0h1m0 0h1m15 0h1m0 0h1m2 0h1m0 0h1m14 0h1m-43 1h1m0 0h1m1 0h1m1 0h1m0 0h1m16 0h1m0 0h1m4 0h1m-40 1h1m5 0h1m1 0h1m1 0h1m3 0h1m0 0h1m0 0h1m0 0h1m15 0h1m0 0h1m0 0h1m1 0h1m3 0h1m11 0h1m5 0h1m-82 1h1m24 0h1m0 0h1m2 0h1m1 0h1m1 0h1m1 0h1m22 0h1m9 0h1m9 0h1m3 0h1m15 0h1m-78 1h1m1 0h1m3 0h1m9 0h1m3 0h1m12 0h1m1 0h1m0 0h1m1 0h1m0 0h1m-72 1h1m22 0h1m1 0h1m0 0h1m2 0h1m14 0h1m4 0h1m1 0h1m22 0h1m4 0h1m12 0h1m-58 1h1m4 0h1m4 0h1m4 0h1m0 0h1m13 0h1m1 0h1m5 0h1m2 0h1m-36 1h1m2 0h1m0 0h1m0 0h1m1 0h1m16 0h1m3 0h1m0 0h1m7 0h1m3 0h1m3 0h1m6 0h1m-57 1h1m12 0h1m1 0h1m14 0h1m0 0h1m0 0h1m-68 1h1m40 0h1m1 0h1m0 0h1m2 0h1m0 0h1m0 0h1m13 0h1m0 0h1m0 0h1m2 0h1m0 0h1m6 0h1m10 0h1m9 0h1m-55 1h1m6 0h1m13 0h1m0 0h1m0 0h1m1 0h1m2 0h1m8 0h1m-64 1h1m19 0h1m4 0h1m1 0h1m2 0h1m1 0h1m0 0h1m12 0h1m0 0h1m0 0h1m0 0h1m1 0h1m3 0h1m14 0h1m-65 1h1m20 0h1m1 0h1m0 0h1m2 0h1m13 0h1m1 0h1m4 0h1m5 0h1m-45 1h1m7 0h1m2 0h1m0 0h1m0 0h1m0 0h1m1 0h1m0 0h1m13 0h1m0 0h1m-78 1h1m50 0h1m24 0h1m0 0h1m0 0h1m2 0h1m3 0h1m-27 1h1m0 0h1m0 0h1m16 0h1m2 0h1m6 0h1m19 0h1m-54 1h1m2 0h1m0 0h1m16 0h1m0 0h1m1 0h1m0 0h1m3 0h1m-54 1h1m0 0h1m21 0h1m0 0h1m0 0h1m1 0h1m2 0h1m0 0h1m10 0h1m1 0h1m0 0h1m0 0h1m0 0h1m3 0h1m8 0h1m-42 1h1m10 0h1m0 0h1m20 0h1m18 0h1m-61 1h1m12 0h1m1 0h1m0 0h1m0 0h1m0 0h1m15 0h1m1 0h1m5 0h1m8 0h1m-41 1h1m0 0h1m5 0h1m15 0h1m2 0h1m3 0h1m10 0h1m-65 1h1m14 0h1m11 0h1m2 0h1m0 0h1m11 0h1m2 0h1m0 0h1m2 0h1m2 0h1m-22 1h1m2 0h1m7 0h1m0 0h1m0 0h1m1 0h1m-20 1h1m2 0h1m0 0h1m1 0h1m0 0h1m7 0h1m2 0h1m4 0h1m2 0h1m-30 1h1m6 0h1m1 0h1m8 0h1m0 0h1m0 0h1m0 0h1m4 0h1m11 0h1m-43 1h1m3 0h1m1 0h1m0 0h1m14 0h1m13 0h1m0 0h1m-58 1h1m22 0h1m6 0h1m1 0h1m0 0h1m17 0h1m0 0h1m18 0h1m-48 1h1m2 0h1m1 0h1m2 0h1m9 0h1m0 0h1m0 0h1m0 0h1m5 0h1m-24 1h1m0 0h1m1 0h1m11 0h1m3 0h1m0 0h1m-30 1h1m5 0h1m1 0h1m0 0h1m4 0h1m9 0h1m1 0h1m1 0h1m0 0h1m2 0h1m0 0h1m4 0h1m-35 1h1m1 0h1m0 0h1m2 0h1m0 0h1m2 0h1m16 0h1m1 0h1m-27 1h1m0 0h1m1 0h1m0 0h1m0 0h1m10 0h1m2 0h1m1 0h1m3 0h1m0 0h1m-31 1h1m3 0h1m2 0h1m1 0h1m11 0h1m2 0h1m0 0h1m1 0h1m3 0h1m0 0h1m-38 1h1m10 0h1m14 0h1m0 0h1m1 0h1m5 0h1m1 0h1m-33 1h1m0 0h1m7 0h1m10 0h1m4 0h1m0 0h1m0 0h1m4 0h1m20 0h1m-70 1h1m0 0h1m12 0h1m2 0h1m3 0h1m0 0h1m0 0h1m12 0h1m1 0h1m4 0h1m2 0h1m0 0h1m-24 1h1m13 0h1m0 0h1m1 0h1m-24 1h1m0 0h1m0 0h1m0 0h1m3 0h1m13 0h1m1 0h1m-34 1h1m14 0h1m1 0h1m11 0h1m0 0h1m1 0h1m1 0h1m-24 1h1m3 0h1m2 0h1m0 0h1m0 0h1m0 0h1m0 0h1m1 0h1m1 0h1m0 0h1m0 0h1m2 0h1m2 0h1m5 0h1m-31 1h1m1 0h1m4 0h1m0 0h1m0 0h1m3 0h1m6 0h1m0 0h1m5 0h1m-27 1h1m0 0h1m5 0h1m2 0h1m1 0h1m15 0h1m1 0h1" stroke="#4545b0" stroke-width="1"/>
<path d="M298 637h1m0 0h1m3 0h1m0 0h1m0 0h1m0 0h1m0 0h1m2 0h1m-14 1h1m0 0h1m3 0h1m0 0h1m0 0h1m2 0h1m1 0h1m0 0h1m-18 1h1m5 0h1m1 0h1m0 0h1m1 0h1m0 0h1m1 0h1m0 0h1m3 0h1m-21 1h1m0 0h1m1 0h1m0 0h1m0 0h1m10 0h1m0 0h1m0 0h1m0 0h1m0 0h1m0 0h1m-22 1h1m4 0h1m0 0h1m5 0h1m0 0h1m0 0h1m2 0h1m1 0h1m0 0h1m0 0h1m-21 1h1m0 0h1m0 0h1m2 0h1m11 0h1m0 0h1m0 0h1m-23 1h1m0 0h1m0 0h1m3 0h1m0 0h1m0 0h1m1 0h1m9 0h1m0 0h1m0 0h1m1 0h1m0 0h1m-27 1h1m0 0h1m0 0h1m0 0h1m0 0h1m0 0h1m11 0h1m3 0h1m0 0h1m1 0h1m0 0h1m-25 1h1m1 0h1m0 0h1m0 0h1m0 0h1m1 0h1m1 0h1m2 0h1m3 0h1m2 0h1m1 0h1m0 0h1m0 0h1m1 0h1m3 0h1m0 0h1m0 0h1m-33 1h1m0 0h1m1 0h1m2 0h1m0 0h1m0 0h1m0 0h1m10 0h1m0 0h1m1 0h1m1 0h1m0 0h1m3 0h1m0 0h1m-32 1h1m1 0h1m0 0h1m0 0h1m0 0h1m0 0h1m1 0h1m0 0h1m13 0h1m0 0h1m0 0h1m0 0h1m-25 1h1m1 0h1m2 0h1m1 0h1m9 0h1m3 0h1m1 0h1m-26 1h1m0 0h1m1 0h1m0 0h1m1 0h1m0 0h1m0 0h1m0 0h1m3 0h1m0 0h1m2 0h1m2 0h1m2 0h1m1 0h1m-26 1h1m1 0h1m0 0h1m2 0h1m1 0h1m3 0h1m5 0h1m0 0h1m3 0h1m-24 1h1m0 0h1m0 0h1m0 0h1m0 0h1m0 0h1m0 0h1m0 0h1m1 0h1m10 0h1m0 0h1m0 0h1m1 0h1m-23 1h1m3 0h1m2 0h1m2 0h1m0 0h1m5 0h1m0 0h1m0 0h1m0 0h1m0 0h1m0 0h1m-23 1h1m0 0h1m1 0h1m2 0h1m5 0h1m0 0h1m2 0h1m1 0h1m1 0h1m0 0h1m0 0h1m-23 1h1m1 0h1m0 0h1m0 0h1m2 0h1m1 0h1m2 0h1m0 0h1m0 0h1m1 0h1m0 0h1m0 0h1m0 0h1m1 0h1m-20 1h1m1 0h1m2 0h1m0 0h1m1 0h1m0 0h1m0 0h1m0 0h1m2 0h1m0 0h1m1 0h1m0 0h1m-20 1h1m0 0h1m0 0h1m3 0h1m0 0h1m1 0h1m0 0h1m1 0h1m1 0h1m0 0h1m0 0h1m0 0h1m0 0h1m-14 1h1m2 0h1m0 0h1m0 0h1m0 0h1m1 0h1m1 0h1m0 0h1m-13 1h1m2 0h1m0 0h1m2 0h1m1 0h1m2 0h1m-13 1h1m1 0h1m1 0h1m1 0h1m1 0h1m0 0h1m1 0h1m-9 1h1m1 0h1m3 0h1m0 0h1m0 0h1m0 0h1m-13 1h1m0 0h1m0 0h1m1 0h1m0 0h1m0 0h1m0 0h1m1 0h1m0 0h1m1 0h1m-12 1h1m0 0h1m0 0h1m0 0h1m1 0h1m0 0h1m0 0h1m3 0h1m0 0h1m0 0h1m-12 1h1m2 0h1m1 0h1m0 0h1m0 0h1m0 0h1m0 0h1m1 0h1m-14 1h1m3 0h1m0 0h1m1 0h1m1 0h1m0 0h1m1 0h1m0 0h1m0 0h1m-9 1h1m0 0h1m3 0h1m-11 1h1m0 0h1m0 0h1m0 0h1m2 0h1m2 0h1m1 0h1m-10 1h1m0 0h1m0 0h1m3 0h1m0 0h1m0 0h1m0 0h1m0 0h1m-12 1h1m0 0h1m0 0h1m2 0h1m5 0h1m-10 1h1m6 0h1m1 0h1m-12 1h1m1 0h1m1 0h1m2 0h1m1 0h1m0 0h1m-11 1h1m1 0h1m0 0h1m0 0h1m0 0h1m0 0h1m1 0h1m0 0h1m0 0h1m0 0h1m-12 1h1m0 0h1m0 0h1m0 0h1m3 0h1m1 0h1m0 0h1m-10 1h1m0 0h1m1 0h1m4 0h1m0 0h1m0 0h1m-11 1h1m0 0h1m0 0h1m4 0h1m0 0h1m1 0h1m-11 1h1m0 0h1m0 0h1m0 0h1m2 0h1m0 0h1m0 0h1m1 0h1m0 0h1m-13 1h1m0 0h1m0 0h1m1 0h1m0 0h1m0 0h1m0 0h1m0 0h1m0 0h1m-10 1h1m0 0h1m0 0h1m0 0h1m0 0h1m1 0h1m2 0h1m1 0h1m-11 1h1m0 0h1m1 0h1m1 0h1m1 0h1m0 0h1m1 0h1m-8 1h1m1 0h1m0 0h1m0 0h1m1 0h1m-11 1h1m2 0h1m5 0h1m-8 1h1m2 0h1m0 0h1m0 0h1m1 0h1m-7 1h1m0 0h1m1 0h1m0 0h1m0 0h1m0 0h1m-10 1h1m0 0h1m0 0h1m1 0h1m2 0h1m-8 1h1m0 0h1m0 0h1m0 0h1m0 0h1m1 0h1m0 0h1m0 0h1m-6 1h1m0 0h1m0 0h1m1 0h1m1 0h1m-6 1h1m0 0h1m0 0h1m1 0h1m-7 1h1m0 0h1m1 0h1m0 0h1m0 0h1m1 0h1m-3 1h1m0 0h1m-4 1h1m0 0h1m1 0h1m0 0h1m-8 1h1m1 0h1m1 0h1m0 0h1m1 0h1m-8 1h1m0 0h1m0 0h1m0 0h1m0 0h1m0 0h1m0 0h1m0 0h1m-7 1h1m0 0h1m1 0h1m0 0h1m0 0h1m-6 1h1m2 0h1m-6 1h1m0 0h1m1 0h1m0 0h1m0 0h1m0 0h1m-8 1h1m0 0h1m2 0h1m1 0h1m0 0h1m0 0h1m-9 1h1m0 0h1m0 0h1m2 0h1m0 0h1m0 0h1m-7 1h1m0 0h1m0 0h1m0 0h1m3 0h1m0 0h1m-9 1h1m0 0h1m2 0h1m0 0h1m0 0h1m-8 1h1m2 0h1m0 0h1m0 0h1m1 0h1m1 0h1m-8 1h1m0 0h1m2 0h1m2 0h1m-10 1h1m1 0h1m0 0h1m0 0h1m0 0h1" stroke="#20209a" stroke-width="1"/>
<path d="M300 640h1m4 0h1m0 0h1m0 0h1m-9 1h1m0 0h1m0 0h1m-6 1h1m2 0h1m0 0h1m2 0h1m2 0h1m1 0h1m0 0h1m-9 1h1m6 0h1m0 0h1m-15 1h1m2 0h1m1 0h1m6 0h1m1 0h1m-6 1h1m5 0h1m0 1h1m-8 1h1m5 0h1m-14 1h1m2 0h1m-7 1h1m5 0h1m9 0h1m-17 1h1m3 0h1m4 0h1m0 0h1m5 0h1m-14 1h1m10 0h1m-6 1h1m1 0h1m-7 1h1m0 0h1m0 0h1m0 0h1m3 0h1m-6 1h1" stroke="#1e6e8a" stroke-width="1"/>
<path d="M301 640h1m0 0h1m0 1h1m0 1h1m0 0h1m1 0h1m-6 1h1m0 0h1m0 0h1m0 0h1m-9 1h1m1 0h1m1 0h1m1 0h1m1 0h1m-8 1h1m2 0h1m3 0h1m2 0h1m-10 1h1m0 0h1m1 0h1m1 0h1m0 0h1m0 0h1m0 0h1m0 0h1m-10 1h1m2 0h1m0 0h1m2 0h1m1 0h1m-10 1h1m2 0h1m1 0h1m0 0h1m1 0h1m-9 1h1m1 0h1m5 0h1m0 0h1m-9 1h1m4 0h1m-7 1h1m0 0h1m0 0h1m1 0h1m0 0h1" stroke="#3c9a48" stroke-width="1"/>
</g><g transform="translate(216.6 569.6)">
<path d="M59.9 0V136.7M0 102.5H141.8" stroke="#222" stroke-width="0.9"/>
<g fill="#ececec"><rect x="0" y="0" width="28.1" height="20"/><rect x="117.6" y="0" width="24.2" height="20"/><rect x="117.6" y="118.1" width="24.2" height="18.6"/><rect x="0" y="118.1" width="28.1" height="18.6"/></g>
<g style="font:7px 'Liberation Sans',sans-serif" fill="#222">
<text x="2.1" y="8.7">Q1</text><text x="2.1" y="17.9">0.624%</text>
<text x="119.7" y="8.7">Q2</text><text x="119.7" y="17.9">55.2%</text>
<text x="119.7" y="125.5">Q3</text><text x="119.7" y="135.2">44.1%</text>
<text x="2.1" y="125.5">Q4</text><text x="2.1" y="135.2">0.035%</text>
</g>
<rect x="0" y="0" width="141.8" height="136.7" fill="none" stroke="#2a2a2a" stroke-width="1.1"/>
<path d="M0 136.7h-3.2M0 136.7v3.2M0 126.4h-1.8M10.7 136.7v1.8M0 120.4h-1.8M16.9 136.7v1.8M0 116.1h-1.8M21.3 136.7v1.8M0 112.8h-1.8M24.8 136.7v1.8M0 110.1h-1.8M27.6 136.7v1.8M0 107.8h-1.8M30 136.7v1.8M0 105.8h-1.8M32 136.7v1.8M0 104.1h-1.8M33.8 136.7v1.8M0 102.5h-3.2M35.4 136.7v3.2M0 92.2h-1.8M46.1 136.7v1.8M0 86.2h-1.8M52.4 136.7v1.8M0 81.9h-1.8M56.8 136.7v1.8M0 78.6h-1.8M60.2 136.7v1.8M0 75.9h-1.8M63 136.7v1.8M0 73.6h-1.8M65.4 136.7v1.8M0 71.7h-1.8M67.5 136.7v1.8M0 69.9h-1.8M69.3 136.7v1.8M0 68.3h-3.2M70.9 136.7v3.2M0 58.1h-1.8M81.6 136.7v1.8M0 52h-1.8M87.8 136.7v1.8M0 47.8h-1.8M92.2 136.7v1.8M0 44.5h-1.8M95.7 136.7v1.8M0 41.8h-1.8M98.5 136.7v1.8M0 39.5h-1.8M100.9 136.7v1.8M0 37.5h-1.8M102.9 136.7v1.8M0 35.7h-1.8M104.7 136.7v1.8M0 34.2h-3.2M106.3 136.7v3.2M0 23.9h-1.8M117 136.7v1.8M0 17.9h-1.8M123.3 136.7v1.8M0 13.6h-1.8M127.7 136.7v1.8M0 10.3h-1.8M131.1 136.7v1.8M0 7.6h-1.8M133.9 136.7v1.8M0 5.3h-1.8M136.3 136.7v1.8M0 3.3h-1.8M138.4 136.7v1.8M0 1.6h-1.8M140.2 136.7v1.8M0 0h-3.2M141.8 136.7v3.2" stroke="#333" stroke-width="0.7"/>
<g style="font:7.4px 'Liberation Sans',sans-serif" fill="#333">
<text x="-9" y="136.9" text-anchor="end">10</text><text x="-8.6" y="131.9" style="font-size:6px">0</text>
<text x="6.5" y="151.4" text-anchor="middle">10</text><text x="10.9" y="146.3" style="font-size:6px">0</text>
<text x="-9" y="105.7" text-anchor="end">10</text><text x="-8.6" y="100.7" style="font-size:6px">1</text>
<text x="35.4" y="151.4" text-anchor="middle">10</text><text x="39.8" y="146.3" style="font-size:6px">1</text>
<text x="-9" y="71.5" text-anchor="end">10</text><text x="-8.6" y="66.5" style="font-size:6px">2</text>
<text x="70.9" y="151.4" text-anchor="middle">10</text><text x="75.3" y="146.3" style="font-size:6px">2</text>
<text x="-9" y="37.3" text-anchor="end">10</text><text x="-8.6" y="32.3" style="font-size:6px">3</text>
<text x="106.3" y="151.4" text-anchor="middle">10</text><text x="110.8" y="146.3" style="font-size:6px">3</text>
<text x="-9" y="13.2" text-anchor="end">10</text><text x="-8.6" y="8.2" style="font-size:6px">4</text>
<text x="136.4" y="151.4" text-anchor="middle">10</text><text x="140.8" y="146.3" style="font-size:6px">4</text>
</g>
</g>
<g transform="translate(382.6 566.9)">
<rect x="0" y="0" width="143" height="137.5" fill="#9b9b9b"/>
</g><g transform="translate(0 0.5)">
<path d="M458 598h1m56 10h1m1 0h1m-15 1h1m11 1h1m-1 2h1m-61 1h1m59 2h1m0 0h1m-70 1h1m17 0h1m38 0h1m11 1h1m-37 1h1m-23 2h1m56 2h1m2 1h1m-41 1h1m1 0h1m0 1h1m3 1h1m30 0h1m-38 1h1m0 0h1m2 0h1m-12 1h1m11 0h1m31 0h1m-41 1h1m9 0h1m-14 1h1m6 0h1m0 0h1m0 0h1m0 0h1m27 0h1m3 0h1m-74 1h1m36 0h1m2 0h1m-4 1h1m0 0h1m0 0h1m2 0h1m3 0h1m-8 1h1m1 0h1m0 0h1m0 0h1m0 0h1m2 0h1m25 0h1m-42 1h1m1 0h1m0 0h1m13 0h1m23 0h1m1 0h1m-45 1h1m13 0h1m0 0h1m7 0h1m-25 1h1m0 0h1m1 0h1m0 0h1m0 0h1m11 0h1m-18 1h1m1 0h1m14 0h1m0 0h1m-19 1h1m0 0h1m-6 1h1m0 0h1m3 0h1m0 0h1m-32 1h1m19 0h1m2 0h1m2 0h1m2 0h1m0 0h1m16 0h1m1 0h1m-19 1h1m16 0h1m23 0h1m-50 1h1m5 0h1m18 0h1m0 0h1m2 0h1m-27 1h1m1 0h1m20 0h1m-3 1h1m7 0h1m-9 1h1m-20 1h1m19 0h1m21 0h1m-53 1h1m32 0h1m1 0h1m-42 1h1m34 0h1m0 0h1m9 0h1m-33 1h1m21 0h1m0 0h1m21 0h1m2 0h1m-26 1h1m2 0h1m-5 1h1m-24 1h1m1 0h1m0 0h1m18 0h1m0 0h1m7 0h1m0 0h1m-32 1h1m2 0h1m17 0h1m1 0h1m-21 1h1m0 0h1m0 0h1m15 0h1m22 0h1m-45 1h1m0 0h1m3 0h1m12 0h1m-20 1h1m5 0h1m12 0h1m0 0h1m1 0h1m-17 1h1m13 0h1m3 0h1m-21 1h1m0 0h1m0 0h1m14 0h1m1 0h1m24 0h1m-46 1h1m1 0h1m0 0h1m12 0h1m2 0h1m0 0h1m-23 1h1m3 0h1m14 0h1m0 0h1m8 0h1m-32 1h1m7 0h1m14 0h1m1 0h1m3 0h1m1 0h1m17 0h1m0 0h1m-67 1h1m13 0h1m2 0h1m4 0h1m15 0h1m2 0h1m22 0h1m-42 1h1m12 0h1m3 0h1m1 0h1m0 0h1m17 0h1m1 0h1m-57 1h1m13 0h1m0 0h1m1 0h1m0 0h1m15 0h1m7 0h1m-35 1h1m4 0h1m0 0h1m0 0h1m0 0h1m1 0h1m10 0h1m6 0h1m0 0h1m5 0h1m13 0h1m-74 1h1m30 0h1m3 0h1m10 0h1m9 0h1m-33 1h1m3 0h1m1 0h1m0 0h1m1 0h1m12 0h1m1 0h1m24 0h1m-48 1h1m2 0h1m5 0h1m38 0h1m0 0h1m-50 1h1m5 0h1m10 0h1m10 0h1m-25 1h1m0 0h1m11 0h1m0 0h1m3 0h1m-31 1h1m7 0h1m2 0h1m2 0h1m14 0h1m3 0h1m4 0h1m5 0h1m-46 1h1m8 0h1m16 0h1m2 0h1m0 0h1m1 0h1m3 0h1m3 0h1m-35 1h1m6 0h1m1 0h1m11 0h1m0 0h1m1 0h1m0 0h1m2 0h1m0 0h1m-25 1h1m2 0h1m0 0h1m20 0h1m-34 1h1m8 0h1m1 0h1m0 0h1m18 0h1m2 0h1m1 0h1m-26 1h1m0 0h1m16 0h1m-18 1h1m12 0h1m6 0h1m0 0h1m-5 1h1m0 0h1m0 0h1m-26 1h1m4 0h1m14 0h1m-20 1h1m2 0h1m1 0h1m13 0h1m2 0h1m-24 1h1m1 0h1m0 0h1m0 0h1m0 0h1m0 0h1m10 0h1m0 0h1m3 0h1m-28 1h1m8 0h1m13 0h1m-16 1h1m14 0h1m3 0h1m-18 1h1m11 0h1m6 0h1m2 0h1m-26 1h1m2 0h1m11 0h1m2 0h1m7 0h1m-27 1h1m3 0h1m10 0h1m2 0h1m0 0h1m3 0h1m-36 1h1m7 0h1m3 0h1m2 0h1m12 0h1m0 0h1m0 0h1m0 0h1m3 0h1m-31 1h1m22 0h1m0 0h1m1 0h1m0 0h1m0 0h1m-24 1h1m1 0h1m1 0h1m2 0h1m0 0h1m8 0h1m1 0h1m0 0h1m-16 1h1m0 0h1m0 0h1m1 0h1m11 0h1m1 0h1m7 0h1m-29 1h1m2 0h1m0 0h1m0 0h1m8 0h1m1 0h1m1 0h1m0 0h1m12 0h1m-33 1h1m0 0h1m14 0h1m4 0h1m0 0h1m-28 1h1m0 0h1m0 0h1m4 0h1m0 0h1m0 0h1m0 0h1m8 0h1m3 0h1m2 0h1m-28 1h1m0 0h1m2 0h1m0 0h1m2 0h1m0 0h1m1 0h1m0 0h1m9 0h1m1 0h1m0 0h1m2 0h1m-21 1h1m0 0h1m0 0h1m9 0h1m1 0h1m7 0h1m0 0h1m-29 1h1m5 0h1m1 0h1m0 0h1m7 0h1m1 0h1m-18 1h1m3 0h1m0 0h1m14 0h1m0 0h1m3 0h1m-29 1h1m4 0h1m13 0h1m0 0h1m-17 1h1m3 0h1m0 0h1m0 0h1m7 0h1m6 0h1m0 0h1m7 0h1m-36 1h1m6 0h1m0 0h1m10 0h1m0 0h1m1 0h1m1 0h1m3 0h1m-33 1h1m2 0h1m3 0h1m3 0h1m1 0h1m0 0h1m4 0h1m3 0h1m-18 1h1m0 0h1m2 0h1m0 0h1m0 0h1m2 0h1m0 0h1m4 0h1m1 0h1m2 0h1" stroke="#4545b0" stroke-width="1"/>
<path d="M478 634h1m0 0h1m0 0h1m3 0h1m0 0h1m-7 1h1m0 0h1m0 0h1m0 0h1m1 0h1m-6 1h1m1 0h1m0 0h1m1 0h1m0 0h1m1 0h1m-12 1h1m1 0h1m0 0h1m4 0h1m-9 1h1m1 0h1m2 0h1m4 0h1m0 0h1m-12 1h1m10 0h1m1 0h1m-14 1h1m2 0h1m7 0h1m0 0h1m-16 1h1m1 0h1m0 0h1m6 0h1m0 0h1m3 0h1m0 0h1m-16 1h1m2 0h1m10 0h1m0 0h1m-17 1h1m0 0h1m3 0h1m7 0h1m1 0h1m0 0h1m-16 1h1m1 0h1m1 0h1m0 0h1m9 0h1m-15 1h1m-3 1h1m0 0h1m0 0h1m1 0h1m4 0h1m6 0h1m-17 1h1m1 0h1m4 0h1m2 0h1m4 0h1m0 0h1m-18 1h1m3 0h1m3 0h1m2 0h1m4 0h1m-17 1h1m2 0h1m9 0h1m-14 1h1m0 0h1m1 0h1m2 0h1m1 0h1m3 0h1m0 0h1m0 0h1m1 0h1m0 0h1m-17 1h1m2 0h1m3 0h1m1 0h1m3 0h1m0 0h1m0 0h1m-16 1h1m0 0h1m1 0h1m3 0h1m1 0h1m2 0h1m2 0h1m0 0h1m-16 1h1m1 0h1m0 0h1m7 0h1m1 0h1m-13 1h1m2 0h1m6 0h1m0 0h1m-12 1h1m0 0h1m0 0h1m2 0h1m4 0h1m-11 1h1m0 0h1m0 0h1m0 0h1m1 0h1m1 0h1m0 0h1m0 0h1m1 0h1m-12 1h1m0 0h1m3 0h1m6 0h1m-13 1h1m1 0h1m0 0h1m0 0h1m0 0h1m0 0h1m0 0h1m0 0h1m-8 1h1m0 0h1m1 0h1m0 0h1m0 0h1m0 0h1m0 0h1m0 0h1m0 0h1m-11 1h1m0 0h1m4 0h1m0 0h1m1 0h1m-9 1h1m1 0h1m1 0h1m0 0h1m2 0h1m1 0h1m0 0h1m-11 1h1m0 0h1m0 0h1m0 0h1m2 0h1m0 0h1m0 0h1m1 0h1m-11 1h1m1 0h1m0 0h1m0 0h1m1 0h1m0 0h1m1 0h1m-8 1h1m2 0h1m0 0h1m0 0h1m0 0h1m0 0h1m0 0h1m-9 1h1m0 0h1m0 0h1m0 0h1m0 0h1m0 0h1m0 0h1m-8 1h1m0 0h1m1 0h1m0 0h1m0 0h1m1 0h1m-5 1h1m0 0h1m0 0h1m0 0h1m0 0h1m0 0h1m-9 1h1m0 0h1m0 0h1m0 0h1m1 0h1m0 0h1m1 0h1m-11 1h1m0 0h1m1 0h1m1 0h1m0 0h1m1 0h1m-8 1h1m0 0h1m3 0h1m-7 1h1m0 0h1m1 0h1m1 0h1m1 0h1m0 0h1m-9 1h1m0 0h1m0 0h1m1 0h1m3 0h1m-7 1h1m1 0h1m0 0h1m1 0h1m0 0h1m-6 1h1m0 0h1m0 0h1m0 0h1m0 0h1m0 0h1m1 0h1m-12 1h1m0 0h1m1 0h1m0 0h1m1 0h1m1 0h1m0 0h1m0 0h1m-11 1h1m0 0h1m1 0h1m2 0h1m0 0h1m0 0h1m1 0h1m1 0h1m-13 1h1m1 0h1m2 0h1m0 0h1m0 0h1m0 0h1m0 0h1m1 0h1m-11 1h1m0 0h1m0 0h1m1 0h1m0 0h1m0 0h1m1 0h1m0 0h1m-10 1h1m2 0h1m0 0h1m0 0h1m2 0h1m1 0h1m-12 1h1m0 0h1m0 0h1m0 0h1m0 0h1m0 0h1m2 0h1m1 0h1m0 0h1m0 0h1m-11 1h1m0 0h1m1 0h1m1 0h1m0 0h1m0 0h1m-10 1h1m2 0h1m0 0h1m1 0h1m0 0h1m0 0h1m0 0h1m-9 1h1m0 0h1m0 0h1m0 0h1m3 0h1m-8 1h1m0 0h1m1 0h1m1 0h1m0 0h1m0 0h1m-8 1h1m3 0h1m0 0h1m1 0h1m-9 1h1m0 0h1m1 0h1m0 0h1m1 0h1m0 0h1m0 0h1m0 0h1m-10 1h1m1 0h1m0 0h1m0 0h1m1 0h1m0 0h1m1 0h1m-9 1h1m0 0h1m2 0h1m1 0h1m0 0h1m-6 1h1m0 0h1m1 0h1m1 0h1m0 0h1m-7 1h1m0 0h1m1 0h1m1 0h1m0 0h1m-7 1h1m3 0h1m0 0h1m0 0h1m-8 1h1m0 0h1m1 0h1m0 0h1m0 0h1m-5 1h1m0 0h1m3 0h1m0 0h1m-7 1h1m0 0h1m1 0h1m0 0h1m0 0h1m0 0h1m-6 1h1m0 0h1m0 0h1m-2 1h1m0 0h1m2 0h1m-8 1h1m0 0h1m0 0h1m0 0h1m0 0h1m1 0h1m-7 1h1m2 0h1m0 0h1m0 0h1m1 0h1m-7 1h1m1 0h1m0 0h1m2 0h1m-7 1h1m0 0h1m0 0h1m0 0h1m0 0h1m0 0h1m-6 1h1m0 0h1m3 0h1" stroke="#20209a" stroke-width="1"/>
<path d="M483 636h1m-7 2h1m1 0h1m-2 1h1m0 0h1m0 0h1m-4 1h1m3 0h1m1 0h1m-7 1h1m3 0h1m4 0h1m-9 1h1m5 0h1m-9 1h1m3 0h1m-4 1h1m-2 1h1m1 0h1m4 0h1m0 0h1m-2 1h1m0 0h1m-9 1h1m0 0h1m1 0h1m2 0h1m-6 1h1m0 0h1m2 0h1m-6 1h1m10 0h1m-12 1h1m10 0h1m-13 1h1m3 1h1m-1 1h1m4 0h1m1 0h1m-10 1h1m2 0h1m1 0h1m0 0h1m-6 1h1m2 0h1m1 0h1m-5 1h1m1 1h1m2 0h1" stroke="#1e6e8a" stroke-width="1"/>
<path d="M480 637h1m0 0h1m0 0h1m0 0h1m-2 1h1m0 0h1m0 0h1m-3 1h1m0 0h1m0 0h1m-7 1h1m1 0h1m1 0h1m-4 1h1m0 0h1m1 0h1m-1 1h1m-6 1h1m1 0h1m1 0h1m1 0h1m1 0h1m1 0h1m-8 1h1m0 0h1m3 0h1m0 0h1m0 0h1m-9 1h1m0 0h1m0 0h1m0 0h1m2 0h1m0 0h1m0 0h1m-10 1h1m2 0h1m-4 1h1m2 0h1m5 0h1m-6 1h1m2 0h1m0 0h1m-9 1h1m0 0h1m0 0h1m3 0h1m-3 1h1m0 0h1m-6 1h1m2 0h1m1 0h1m0 0h1m-8 1h1m0 0h1m2 0h1m1 0h1m0 0h1m-7 1h1m2 0h1m1 0h1" stroke="#3c9a48" stroke-width="1"/>
</g><g transform="translate(382.6 566.9)">
<path d="M60 0V137.5M0 103.1H143" stroke="#222" stroke-width="0.9"/>
<g fill="#ececec"><rect x="0" y="0" width="24.2" height="20"/><rect x="118.8" y="0" width="24.2" height="20"/><rect x="118.8" y="118.9" width="24.2" height="18.6"/><rect x="0" y="118.9" width="24.2" height="18.6"/></g>
<g style="font:7px 'Liberation Sans',sans-serif" fill="#222">
<text x="2.1" y="8.7">Q1</text><text x="2.1" y="17.9">0.00%</text>
<text x="120.9" y="8.7">Q2</text><text x="120.9" y="17.9">43.6%</text>
<text x="120.9" y="126.3">Q3</text><text x="120.9" y="136">56.4%</text>
<text x="2.1" y="126.3">Q4</text><text x="2.1" y="136">0.00%</text>
</g>
<rect x="0" y="0" width="143" height="137.5" fill="none" stroke="#2a2a2a" stroke-width="1.1"/>
<path d="M0 137.5h-3.2M0 137.5v3.2M0 127.2h-1.8M10.8 137.5v1.8M0 121.1h-1.8M17.1 137.5v1.8M0 116.8h-1.8M21.5 137.5v1.8M0 113.5h-1.8M25 137.5v1.8M0 110.8h-1.8M27.8 137.5v1.8M0 108.4h-1.8M30.2 137.5v1.8M0 106.5h-1.8M32.3 137.5v1.8M0 104.7h-1.8M34.1 137.5v1.8M0 103.1h-3.2M35.8 137.5v3.2M0 92.8h-1.8M46.5 137.5v1.8M0 86.7h-1.8M52.8 137.5v1.8M0 82.4h-1.8M57.3 137.5v1.8M0 79.1h-1.8M60.7 137.5v1.8M0 76.4h-1.8M63.6 137.5v1.8M0 74.1h-1.8M66 137.5v1.8M0 72.1h-1.8M68 137.5v1.8M0 70.3h-1.8M69.9 137.5v1.8M0 68.8h-3.2M71.5 137.5v3.2M0 58.4h-1.8M82.3 137.5v1.8M0 52.3h-1.8M88.6 137.5v1.8M0 48.1h-1.8M93 137.5v1.8M0 44.7h-1.8M96.5 137.5v1.8M0 42h-1.8M99.3 137.5v1.8M0 39.7h-1.8M101.7 137.5v1.8M0 37.7h-1.8M103.8 137.5v1.8M0 35.9h-1.8M105.6 137.5v1.8M0 34.4h-3.2M107.2 137.5v3.2M0 24h-1.8M118 137.5v1.8M0 18h-1.8M124.3 137.5v1.8M0 13.7h-1.8M128.8 137.5v1.8M0 10.3h-1.8M132.2 137.5v1.8M0 7.6h-1.8M135.1 137.5v1.8M0 5.3h-1.8M137.5 137.5v1.8M0 3.3h-1.8M139.5 137.5v1.8M0 1.6h-1.8M141.4 137.5v1.8M0 0h-3.2M143 137.5v3.2" stroke="#333" stroke-width="0.7"/>
<g style="font:7.4px 'Liberation Sans',sans-serif" fill="#333">
<text x="-9" y="137.8" text-anchor="end">10</text><text x="-8.6" y="132.8" style="font-size:6px">0</text>
<text x="6.5" y="152.2" text-anchor="middle">10</text><text x="10.9" y="147.1" style="font-size:6px">0</text>
<text x="-9" y="106.3" text-anchor="end">10</text><text x="-8.6" y="101.3" style="font-size:6px">1</text>
<text x="35.8" y="152.2" text-anchor="middle">10</text><text x="40.1" y="147.1" style="font-size:6px">1</text>
<text x="-9" y="71.9" text-anchor="end">10</text><text x="-8.6" y="66.9" style="font-size:6px">2</text>
<text x="71.5" y="152.2" text-anchor="middle">10</text><text x="75.9" y="147.1" style="font-size:6px">2</text>
<text x="-9" y="37.5" text-anchor="end">10</text><text x="-8.6" y="32.5" style="font-size:6px">3</text>
<text x="107.2" y="152.2" text-anchor="middle">10</text><text x="111.7" y="147.1" style="font-size:6px">3</text>
<text x="-9" y="13.2" text-anchor="end">10</text><text x="-8.6" y="8.2" style="font-size:6px">4</text>
<text x="137.6" y="152.2" text-anchor="middle">10</text><text x="142" y="147.1" style="font-size:6px">4</text>
</g>
</g>
<g transform="translate(548.5 568.5)">
<rect x="0" y="0" width="142.5" height="137.2" fill="#9b9b9b"/>
</g><g transform="translate(0 0.5)">
<path d="M680 593h1m-31 3h1m-17 5h1m-19 1h1m7 1h1m15 0h1m4 0h1m7 0h1m-80 1h1m39 0h1m21 2h1m15 0h1m34 0h1m-107 1h1m89 0h1m6 0h1m0 0h1m-48 1h1m33 1h1m10 0h1m-86 2h1m-5 1h1m31 0h1m19 0h1m-1 1h1m-77 1h1m25 0h1m74 0h1m-95 1h1m26 0h1m7 0h1m9 0h1m16 0h1m-32 1h1m14 0h1m7 0h1m-67 1h1m42 0h1m19 0h1m9 0h1m-68 1h1m43 0h1m26 0h1m39 0h1m-56 1h1m2 0h1m-33 1h1m8 0h1m22 0h1m0 0h1m5 0h1m1 0h1m28 0h1m-56 1h1m24 0h1m1 0h1m25 0h1m4 0h1m6 0h1m6 0h1m-71 1h1m51 0h1m10 0h1m-84 1h1m11 0h1m5 0h1m9 0h1m10 0h1m17 0h1m-23 1h1m2 0h1m58 0h1m-77 1h1m4 0h1m22 0h1m9 0h1m-40 1h1m12 0h1m6 0h1m16 0h1m32 0h1m-87 1h1m0 0h1m9 0h1m2 0h1m15 0h1m0 0h1m0 0h1m2 0h1m10 0h1m23 0h1m-100 1h1m22 0h1m33 0h1m5 0h1m1 0h1m2 0h1m0 0h1m0 0h1m13 0h1m17 0h1m-111 1h1m32 0h1m25 0h1m4 0h1m0 0h1m0 0h1m1 0h1m0 0h1m5 0h1m2 0h1m0 0h1m2 0h1m0 0h1m-84 1h1m40 0h1m3 0h1m7 0h1m8 0h1m6 0h1m2 0h1m0 0h1m7 0h1m7 0h1m1 0h1m0 0h1m3 0h1m-73 1h1m25 0h1m1 0h1m10 0h1m4 0h1m1 0h1m0 0h1m1 0h1m1 0h1m2 0h1m0 0h1m-58 1h1m6 0h1m4 0h1m19 0h1m5 0h1m0 0h1m1 0h1m6 0h1m1 0h1m2 0h1m0 0h1m7 0h1m10 0h1m0 0h1m2 0h1m-68 1h1m3 0h1m20 0h1m2 0h1m3 0h1m0 0h1m1 0h1m11 0h1m19 0h1m25 0h1m-63 1h1m11 0h1m0 0h1m2 0h1m7 0h1m0 0h1m4 0h1m2 0h1m1 0h1m-51 1h1m7 0h1m15 0h1m2 0h1m4 0h1m8 0h1m4 0h1m14 0h1m-69 1h1m13 0h1m0 0h1m0 0h1m1 0h1m21 0h1m13 0h1m-74 1h1m23 0h1m0 0h1m1 0h1m0 0h1m6 0h1m3 0h1m29 0h1m0 0h1m-51 1h1m6 0h1m1 0h1m2 0h1m1 0h1m2 0h1m35 0h1m1 0h1m-94 1h1m8 0h1m1 0h1m14 0h1m3 0h1m16 0h1m34 0h1m6 0h1m-60 1h1m14 0h1m5 0h1m1 0h1m27 0h1m1 0h1m2 0h1m0 0h1m0 0h1m6 0h1m13 0h1m3 0h1m8 0h1m-122 1h1m38 0h1m2 0h1m1 0h1m3 0h1m38 0h1m3 0h1m6 0h1m-105 1h1m42 0h1m13 0h1m30 0h1m12 0h1m-96 1h1m47 0h1m-40 1h1m38 0h1m38 0h1m1 0h1m7 0h1m19 0h1m-74 1h1m1 0h1m1 0h1m1 0h1m1 0h1m41 0h1m-49 1h1m1 0h1m2 0h1m33 0h1m0 0h1m0 0h1m0 0h1m31 0h1m-72 1h1m40 0h1m5 0h1m2 0h1m-18 1h1m1 0h1m-38 1h1m0 0h1m1 0h1m32 0h1m2 0h1m-47 1h1m0 0h1m5 0h1m1 0h1m34 0h1m0 0h1m-68 1h1m3 0h1m22 0h1m4 0h1m35 0h1m7 0h1m2 0h1m2 0h1m2 0h1m13 0h1m-67 1h1m31 0h1m1 0h1m0 0h1m0 0h1m-99 1h1m49 0h1m12 0h1m33 0h1m2 0h1m-57 1h1m7 0h1m8 0h1m0 0h1m31 0h1m2 0h1m1 0h1m7 0h1m3 0h1m8 0h1m-77 1h1m13 0h1m3 0h1m35 0h1m2 0h1m0 0h1m2 0h1m-44 1h1m1 0h1m0 0h1m25 0h1m1 0h1m0 0h1m0 0h1m0 0h1m8 0h1m0 0h1m1 0h1m18 0h1m-64 1h1m28 0h1m1 0h1m4 0h1m0 0h1m-48 1h1m2 0h1m0 0h1m6 0h1m26 0h1m15 0h1m-51 1h1m29 0h1m2 0h1m3 0h1m1 0h1m22 0h1m1 0h1m-71 1h1m7 0h1m2 0h1m1 0h1m25 0h1m7 0h1m8 0h1m-63 1h1m3 0h1m7 0h1m5 0h1m2 0h1m22 0h1m2 0h1m1 0h1m2 0h1m0 0h1m-47 1h1m5 0h1m1 0h1m3 0h1m0 0h1m22 0h1m2 0h1m9 0h1m-50 1h1m9 0h1m3 0h1m24 0h1m0 0h1m1 0h1m1 0h1m8 0h1m-54 1h1m4 0h1m6 0h1m25 0h1m0 0h1m1 0h1m0 0h1m2 0h1m2 0h1m18 0h1m-62 1h1m0 0h1m32 0h1m1 0h1m6 0h1m0 0h1m-54 1h1m11 0h1m0 0h1m0 0h1m26 0h1m1 0h1m0 0h1m1 0h1m0 0h1m-36 1h1m0 0h1m1 0h1m0 0h1m25 0h1m7 0h1m-9 1h1m22 0h1m-96 1h1m37 0h1m9 0h1m26 0h1m17 0h1m7 0h1m-62 1h1m5 0h1m24 0h1m5 0h1m-35 1h1m30 0h1m-29 1h1m-8 1h1m6 0h1m0 0h1m27 0h1m8 0h1m-39 1h1m27 0h1m0 0h1m0 0h1m0 0h1m-33 1h1m1 0h1m0 0h1m29 0h1m3 0h1m-52 1h1m13 0h1m29 0h1m-4 1h1m-6 1h1m0 0h1m3 0h1m0 0h1m1 0h1m0 0h1m-38 1h1m3 0h1m23 0h1m0 0h1m3 0h1m6 0h1m-47 1h1m6 0h1m25 0h1m0 0h1m4 0h1m-31 1h1m4 0h1m0 0h1m0 0h1m0 0h1m17 0h1m0 0h1m7 0h1m-36 1h1m3 0h1m2 0h1m1 0h1m14 0h1m9 0h1m-42 1h1m10 0h1m6 0h1m12 0h1m-20 1h1m4 0h1m19 0h1m3 0h1m-41 1h1m3 0h1m7 0h1m2 0h1m26 0h1m-47 1h1m8 0h1m2 0h1m6 0h1m0 0h1m31 0h1m-40 1h1m2 0h1m2 0h1m16 0h1m7 0h1m-26 1h1m1 0h1m16 0h1m-23 1h1m6 0h1m14 0h1m3 0h1m-24 1h1m2 0h1m0 0h1m20 0h1m-29 1h1m2 0h1m18 0h1m6 0h1m-32 1h1m0 0h1m24 0h1m2 0h1m-35 1h1m27 0h1m0 0h1m-31 2h1m1 0h1m6 0h1m1 0h1m24 0h1m0 0h1m-29 1h1m19 0h1m-17 1h1m15 0h1m-20 1h1m21 0h1m-32 1h1m0 0h1m7 0h1m18 0h1m6 0h1m-27 1h1m19 0h1m-27 1h1m3 0h1m4 0h1m15 0h1m5 0h1m-26 1h1m0 0h1m14 0h1m6 0h1m1 0h1m-29 1h1m8 0h1m4 0h1m4 0h1m0 0h1m2 0h1m2 0h1m-21 1h1" stroke="#4545b0" stroke-width="1"/>
<path d="M624 633h1m-4 1h1m2 0h1m-4 1h1m1 0h1m-4 1h1m2 0h1m0 0h1m3 0h1m1 0h1m0 0h1m-13 1h1m4 0h1m0 0h1m3 0h1m9 0h1m0 0h1m-27 1h1m1 0h1m5 0h1m2 0h1m2 0h1m0 0h1m1 0h1m3 0h1m2 0h1m0 0h1m0 0h1m-25 1h1m5 0h1m4 0h1m0 0h1m2 0h1m5 0h1m0 0h1m0 0h1m-22 1h1m1 0h1m0 0h1m0 0h1m0 0h1m3 0h1m3 0h1m0 0h1m3 0h1m0 0h1m0 0h1m1 0h1m-28 1h1m5 0h1m0 0h1m2 0h1m0 0h1m0 0h1m0 0h1m0 0h1m0 0h1m1 0h1m0 0h1m0 0h1m0 0h1m2 0h1m2 0h1m1 0h1m-29 1h1m0 0h1m0 0h1m0 0h1m3 0h1m0 0h1m0 0h1m0 0h1m0 0h1m1 0h1m1 0h1m0 0h1m1 0h1m3 0h1m0 0h1m3 0h1m0 0h1m-26 1h1m2 0h1m0 0h1m3 0h1m0 0h1m1 0h1m1 0h1m0 0h1m0 0h1m1 0h1m1 0h1m0 0h1m6 0h1m-30 1h1m4 0h1m0 0h1m0 0h1m0 0h1m1 0h1m0 0h1m0 0h1m2 0h1m1 0h1m0 0h1m1 0h1m0 0h1m2 0h1m4 0h1m-28 1h1m1 0h1m1 0h1m0 0h1m0 0h1m0 0h1m0 0h1m4 0h1m1 0h1m1 0h1m0 0h1m1 0h1m2 0h1m0 0h1m1 0h1m-23 1h1m2 0h1m0 0h1m0 0h1m0 0h1m2 0h1m1 0h1m0 0h1m2 0h1m1 0h1m2 0h1m-27 1h1m2 0h1m0 0h1m6 0h1m1 0h1m0 0h1m1 0h1m0 0h1m0 0h1m0 0h1m0 0h1m1 0h1m3 0h1m0 0h1m-29 1h1m0 0h1m1 0h1m1 0h1m0 0h1m0 0h1m1 0h1m3 0h1m0 0h1m0 0h1m0 0h1m0 0h1m3 0h1m1 0h1m1 0h1m1 0h1m0 0h1m-27 1h1m0 0h1m2 0h1m0 0h1m1 0h1m0 0h1m0 0h1m1 0h1m0 0h1m2 0h1m2 0h1m0 0h1m0 0h1m0 0h1m2 0h1m0 0h1m0 0h1m1 0h1m-29 1h1m0 0h1m0 0h1m2 0h1m0 0h1m0 0h1m2 0h1m0 0h1m0 0h1m1 0h1m0 0h1m1 0h1m0 0h1m2 0h1m0 0h1m1 0h1m0 0h1m0 0h1m1 0h1m-27 1h1m0 0h1m0 0h1m1 0h1m0 0h1m0 0h1m0 0h1m0 0h1m3 0h1m0 0h1m0 0h1m0 0h1m1 0h1m0 0h1m0 0h1m1 0h1m-25 1h1m0 0h1m0 0h1m1 0h1m0 0h1m1 0h1m0 0h1m0 0h1m0 0h1m1 0h1m3 0h1m0 0h1m3 0h1m0 0h1m3 0h1m0 0h1m-28 1h1m2 0h1m3 0h1m0 0h1m1 0h1m1 0h1m0 0h1m1 0h1m1 0h1m0 0h1m1 0h1m0 0h1m3 0h1m3 0h1m-30 1h1m1 0h1m1 0h1m1 0h1m2 0h1m0 0h1m0 0h1m1 0h1m0 0h1m0 0h1m0 0h1m0 0h1m0 0h1m2 0h1m1 0h1m0 0h1m2 0h1m1 0h1m-27 1h1m2 0h1m2 0h1m0 0h1m1 0h1m0 0h1m1 0h1m0 0h1m0 0h1m1 0h1m0 0h1m5 0h1m-25 1h1m4 0h1m0 0h1m1 0h1m4 0h1m0 0h1m1 0h1m1 0h1m2 0h1m0 0h1m-22 1h1m1 0h1m0 0h1m1 0h1m0 0h1m1 0h1m1 0h1m0 0h1m0 0h1m0 0h1m0 0h1m0 0h1m2 0h1m1 0h1m0 0h1m0 0h1m-20 1h1m0 0h1m4 0h1m0 0h1m1 0h1m5 0h1m-17 1h1m1 0h1m0 0h1m0 0h1m1 0h1m0 0h1m0 0h1m1 0h1m0 0h1m1 0h1m1 0h1m-16 1h1m5 0h1m1 0h1m0 0h1m1 0h1m3 0h1m0 0h1m0 0h1m0 0h1m-15 1h1m4 0h1m2 0h1m1 0h1m0 0h1m1 0h1m-15 1h1m0 0h1m0 0h1m0 0h1m0 0h1m1 0h1m1 0h1m0 0h1m3 0h1m-17 1h1m0 0h1m3 0h1m1 0h1m1 0h1m0 0h1m1 0h1m0 0h1m0 0h1m2 0h1m-21 1h1m0 0h1m0 0h1m0 0h1m0 0h1m2 0h1m1 0h1m0 0h1m1 0h1m1 0h1m0 0h1m1 0h1m-15 1h1m2 0h1m1 0h1m0 0h1m0 0h1m2 0h1m0 0h1m2 0h1m1 0h1m2 0h1m-19 1h1m2 0h1m2 0h1m0 0h1m7 0h1m-18 1h1m0 0h1m0 0h1m3 0h1m0 0h1m0 0h1m0 0h1m0 0h1m0 0h1m0 0h1m0 0h1m0 0h1m1 0h1m1 0h1m3 0h1m-21 1h1m0 0h1m3 0h1m0 0h1m0 0h1m2 0h1m1 0h1m4 0h1m1 0h1m-19 1h1m1 0h1m1 0h1m0 0h1m2 0h1m2 0h1m1 0h1m2 0h1m-18 1h1m1 0h1m4 0h1m4 0h1m0 0h1m2 0h1m0 0h1m1 0h1m-20 1h1m1 0h1m1 0h1m4 0h1m0 0h1m0 0h1m1 0h1m7 0h1m-23 1h1m0 0h1m1 0h1m0 0h1m0 0h1m1 0h1m1 0h1m0 0h1m0 0h1m0 0h1m0 0h1m0 0h1m2 0h1m2 0h1m2 0h1m-18 1h1m0 0h1m0 0h1m1 0h1m3 0h1m0 0h1m1 0h1m1 0h1m0 0h1m1 0h1m1 0h1m-24 1h1m3 0h1m2 0h1m0 0h1m1 0h1m1 0h1m1 0h1m2 0h1m2 0h1m0 0h1m-20 1h1m0 0h1m2 0h1m3 0h1m0 0h1m1 0h1m2 0h1m2 0h1m-19 1h1m2 0h1m4 0h1m2 0h1m0 0h1m1 0h1m4 0h1m-20 1h1m0 0h1m3 0h1m1 0h1m0 0h1m1 0h1m0 0h1m1 0h1m0 0h1m1 0h1m-17 1h1m3 0h1m0 0h1m0 0h1m0 0h1m0 0h1m0 0h1m2 0h1m0 0h1m-12 1h1m6 0h1m-8 1h1m0 0h1m0 0h1m0 0h1m3 0h1m0 0h1m-8 1h1m0 0h1m2 0h1m4 0h1m-10 1h1m0 0h1m2 0h1m0 0h1m0 0h1m2 0h1m-6 1h1m3 0h1m0 0h1m0 0h1m2 0h1m0 0h1m-15 1h1m1 0h1m0 0h1m5 0h1m0 0h1m3 0h1m-12 1h1m6 0h1m-6 1h1m0 0h1m2 0h1m1 0h1m1 0h1m-11 1h1m1 0h1m0 0h1m1 0h1m-7 1h1m2 0h1m0 0h1m0 0h1m1 0h1m1 0h1m2 0h1m-10 1h1m1 0h1m0 0h1m0 0h1m0 0h1m2 0h1m0 0h1m-11 1h1m2 0h1m3 0h1m1 0h1m-11 1h1m0 0h1m2 0h1m1 0h1m-8 1h1m3 0h1m1 0h1m0 0h1m3 0h1m0 0h1m-10 1h1m1 0h1m4 0h1m0 0h1m-11 1h1m3 0h1m0 0h1m3 0h1m-11 1h1m4 0h1m0 0h1m0 0h1m-10 1h1m4 0h1m0 0h1m3 0h1m0 0h1m-12 1h1m0 0h1m0 0h1m0 0h1m0 0h1m1 0h1m2 0h1m0 0h1m3 0h1m-17 1h1m0 0h1m3 0h1m1 0h1m2 0h1m0 0h1m0 0h1m-13 1h1m1 0h1m0 0h1m0 0h1m2 0h1m1 0h1m2 0h1m1 0h1m-13 1h1m4 0h1m0 0h1m0 0h1m0 0h1m1 0h1m-7 1h1m0 0h1m3 0h1m0 0h1m-12 1h1m0 0h1m2 0h1m0 0h1m2 0h1m2 0h1m0 0h1m-8 1h1m1 0h1m1 0h1m2 0h1" stroke="#20209a" stroke-width="1"/>
</g><g transform="translate(548.5 568.5)">
<path d="M60 0V137.2M0 102.9H142.5" stroke="#222" stroke-width="0.9"/>
<g fill="#ececec"><rect x="0" y="0" width="24.2" height="20"/><rect x="118.3" y="0" width="24.2" height="20"/><rect x="118.3" y="118.6" width="24.2" height="18.6"/><rect x="0" y="118.6" width="28.1" height="18.6"/></g>
<g style="font:7px 'Liberation Sans',sans-serif" fill="#222">
<text x="2.1" y="8.7">Q1</text><text x="2.1" y="17.9">9.76%</text>
<text x="120.4" y="8.7">Q2</text><text x="120.4" y="17.9">32.9%</text>
<text x="120.4" y="126">Q3</text><text x="120.4" y="135.7">57.1%</text>
<text x="2.1" y="126">Q4</text><text x="2.1" y="135.7">0.269%</text>
</g>
<rect x="0" y="0" width="142.5" height="137.2" fill="none" stroke="#2a2a2a" stroke-width="1.1"/>
<path d="M0 137.2h-3.2M0 137.2v3.2M0 126.9h-1.8M10.7 137.2v1.8M0 120.8h-1.8M17 137.2v1.8M0 116.5h-1.8M21.4 137.2v1.8M0 113.2h-1.8M24.9 137.2v1.8M0 110.5h-1.8M27.7 137.2v1.8M0 108.2h-1.8M30.1 137.2v1.8M0 106.2h-1.8M32.2 137.2v1.8M0 104.5h-1.8M34 137.2v1.8M0 102.9h-3.2M35.6 137.2v3.2M0 92.6h-1.8M46.3 137.2v1.8M0 86.5h-1.8M52.6 137.2v1.8M0 82.2h-1.8M57.1 137.2v1.8M0 78.9h-1.8M60.5 137.2v1.8M0 76.2h-1.8M63.3 137.2v1.8M0 73.9h-1.8M65.7 137.2v1.8M0 71.9h-1.8M67.8 137.2v1.8M0 70.2h-1.8M69.6 137.2v1.8M0 68.6h-3.2M71.2 137.2v3.2M0 58.3h-1.8M82 137.2v1.8M0 52.2h-1.8M88.2 137.2v1.8M0 47.9h-1.8M92.7 137.2v1.8M0 44.6h-1.8M96.2 137.2v1.8M0 41.9h-1.8M99 137.2v1.8M0 39.6h-1.8M101.4 137.2v1.8M0 37.6h-1.8M103.4 137.2v1.8M0 35.9h-1.8M105.2 137.2v1.8M0 34.3h-3.2M106.9 137.2v3.2M0 24h-1.8M117.6 137.2v1.8M0 17.9h-1.8M123.9 137.2v1.8M0 13.6h-1.8M128.3 137.2v1.8M0 10.3h-1.8M131.8 137.2v1.8M0 7.6h-1.8M134.6 137.2v1.8M0 5.3h-1.8M137 137.2v1.8M0 3.3h-1.8M139 137.2v1.8M0 1.6h-1.8M140.9 137.2v1.8M0 0h-3.2M142.5 137.2v3.2" stroke="#333" stroke-width="0.7"/>
<g style="font:7.4px 'Liberation Sans',sans-serif" fill="#333">
<text x="-9" y="137.5" text-anchor="end">10</text><text x="-8.6" y="132.5" style="font-size:6px">0</text>
<text x="6.5" y="151.9" text-anchor="middle">10</text><text x="10.9" y="146.8" style="font-size:6px">0</text>
<text x="-9" y="106.1" text-anchor="end">10</text><text x="-8.6" y="101.1" style="font-size:6px">1</text>
<text x="35.6" y="151.9" text-anchor="middle">10</text><text x="40" y="146.8" style="font-size:6px">1</text>
<text x="-9" y="71.8" text-anchor="end">10</text><text x="-8.6" y="66.8" style="font-size:6px">2</text>
<text x="71.2" y="151.9" text-anchor="middle">10</text><text x="75.7" y="146.8" style="font-size:6px">2</text>
<text x="-9" y="37.5" text-anchor="end">10</text><text x="-8.6" y="32.5" style="font-size:6px">3</text>
<text x="106.9" y="151.9" text-anchor="middle">10</text><text x="111.3" y="146.8" style="font-size:6px">3</text>
<text x="-9" y="13.2" text-anchor="end">10</text><text x="-8.6" y="8.2" style="font-size:6px">4</text>
<text x="137.1" y="151.9" text-anchor="middle">10</text><text x="141.5" y="146.8" style="font-size:6px">4</text>
</g>
</g>
<g transform="translate(54.9 731.8)">
<rect x="0" y="0" width="138.2" height="133.5" fill="#9b9b9b"/>
</g><g transform="translate(0 0.5)">
<path d="M94 781h1m21 0h1m-47 1h1m28 1h1m-36 4h1m20 5h1m24 0h1m-18 1h1m-22 1h1m-16 1h1m27 1h1m-10 1h1m15 0h1m2 0h1m-13 1h1m-15 1h1m1 0h1m4 0h1m2 0h1m1 0h1m1 0h1m1 0h1m10 0h1m1 0h1m-40 1h1m10 0h1m2 0h1m1 0h1m0 0h1m1 0h1m2 0h1m2 0h1m6 0h1m3 0h1m-40 1h1m9 0h1m0 0h1m3 0h1m1 0h1m2 0h1m5 0h1m2 0h1m1 0h1m5 0h1m-29 1h1m2 0h1m0 0h1m1 0h1m2 0h1m2 0h1m2 0h1m5 0h1m0 0h1m-25 1h1m0 0h1m5 0h1m2 0h1m5 0h1m1 0h1m6 0h1m22 0h1m-50 1h1m6 0h1m1 0h1m6 0h1m5 0h1m1 0h1m-14 1h1m6 0h1m0 0h1m0 0h1m0 0h1m4 0h1m11 0h1m11 0h1m-52 1h1m0 0h1m5 0h1m1 0h1m3 0h1m0 0h1m5 0h1m1 0h1m0 0h1m2 0h1m0 0h1m0 0h1m1 0h1m19 0h1m-56 1h1m2 0h1m2 0h1m4 0h1m8 0h1m1 0h1m0 0h1m3 0h1m0 0h1m0 0h1m0 0h1m1 0h1m0 0h1m0 0h1m1 0h1m0 0h1m0 0h1m1 0h1m4 0h1m4 0h1m-43 1h1m1 0h1m2 0h1m3 0h1m0 0h1m0 0h1m1 0h1m0 0h1m2 0h1m2 0h1m0 0h1m0 0h1m0 0h1m0 0h1m1 0h1m0 0h1m0 0h1m0 0h1m1 0h1m4 0h1m9 0h1m-54 1h1m0 0h1m5 0h1m2 0h1m24 0h1m2 0h1m1 0h1m0 0h1m1 0h1m-44 1h1m3 0h1m0 0h1m1 0h1m0 0h1m2 0h1m0 0h1m22 0h1m4 0h1m4 0h1m0 0h1m2 0h1m4 0h1m1 0h1m-49 1h1m0 0h1m1 0h1m25 0h1m1 0h1m0 0h1m1 0h1m9 0h1m1 0h1m-55 1h1m2 0h1m1 0h1m4 0h1m0 0h1m0 0h1m29 0h1m2 0h1m7 0h1m-54 1h1m2 0h1m1 0h1m0 0h1m0 0h1m33 0h1m4 0h1m2 0h1m-51 1h1m2 0h1m0 0h1m1 0h1m1 0h1m0 0h1m3 0h1m27 0h1m8 0h1m-42 1h1m43 0h1m2 0h1m-57 1h1m4 0h1m0 0h1m2 0h1m31 0h1m3 0h1m2 0h1m1 0h1m2 0h1m0 0h1m-10 1h1m1 0h1m0 0h1m3 0h1m4 0h1m-56 1h1m4 0h1m1 0h1m0 0h1m33 0h1m0 0h1m0 0h1m4 0h1m-6 1h1m0 0h1m0 0h1m18 0h1m-68 1h1m5 0h1m0 0h1m0 0h1m0 0h1m0 0h1m38 0h1m4 0h1m-49 1h1m3 0h1m37 0h1m3 0h1m-46 1h1m3 0h1m0 0h1m36 0h1m0 0h1m2 0h1m-46 1h1m0 0h1m1 0h1m0 0h1m36 0h1m-48 1h1m0 0h1m5 0h1m40 0h1m7 0h1m-49 1h1m1 0h1m36 0h1m5 0h1m3 0h1m-56 1h1m5 0h1m0 0h1m3 0h1m-16 1h1m6 0h1m0 0h1m0 0h1m41 0h1m1 0h1m3 0h1m-51 1h1m2 0h1m1 0h1m36 0h1m0 0h1m6 0h1m-54 1h1m12 0h1m31 0h1m-48 1h1m4 0h1m5 0h1m3 0h1m31 0h1m11 0h1m3 0h1m-44 1h1m29 0h1m1 0h1m-49 1h1m3 0h1m0 0h1m0 0h1m0 0h1m1 0h1m0 0h1m0 0h1m0 0h1m32 0h1m-46 1h1m0 0h1m2 0h1m2 0h1m1 0h1m0 0h1m3 0h1m0 0h1m0 0h1m26 0h1m0 0h1m2 0h1m-44 1h1m8 0h1m26 0h1m1 0h1m0 0h1m1 0h1m0 0h1m2 0h1m0 0h1m4 0h1m-59 1h1m9 0h1m1 0h1m0 0h1m3 0h1m0 0h1m0 0h1m0 0h1m26 0h1m1 0h1m0 0h1m1 0h1m-51 1h1m15 0h1m1 0h1m0 0h1m0 0h1m2 0h1m18 0h1m5 0h1m4 0h1m3 0h1m-62 1h1m17 0h1m8 0h1m14 0h1m0 0h1m2 0h1m4 0h1m1 0h1m9 0h1m16 0h1m-68 1h1m3 0h1m10 0h1m14 0h1m0 0h1m1 0h1m3 0h1m-30 1h1m2 0h1m2 0h1m2 0h1m0 0h1m5 0h1m3 0h1m1 0h1m2 0h1m2 0h1m1 0h1m5 0h1m0 0h1m-35 1h1m2 0h1m2 0h1m7 0h1m3 0h1m1 0h1m2 0h1m0 0h1m1 0h1m13 0h1m-62 1h1m19 0h1m4 0h1m1 0h1m3 0h1m3 0h1m1 0h1m0 0h1m0 0h1m9 0h1m3 0h1m-43 1h1m6 0h1m4 0h1m1 0h1m0 0h1m1 0h1m1 0h1m0 0h1m1 0h1m4 0h1m2 0h1m9 0h1m1 0h1m-45 1h1m7 0h1m5 0h1m2 0h1m2 0h1m3 0h1m0 0h1m0 0h1m3 0h1m0 0h1m3 0h1m1 0h1m5 0h1m-38 1h1m10 0h1m1 0h1m1 0h1m0 0h1m1 0h1m0 0h1m1 0h1m0 0h1m1 0h1m0 0h1m2 0h1m3 0h1m-32 1h1m11 0h1m4 0h1m0 0h1m1 0h1m1 0h1m2 0h1m0 0h1m7 0h1m-27 1h1m1 0h1m7 0h1m0 0h1m0 0h1m5 0h1m0 0h1m0 0h1m-22 1h1m2 0h1m2 0h1m7 0h1m0 0h1m5 0h1m2 0h1m-48 1h1m26 0h1m1 0h1m0 0h1m1 0h1m1 0h1m1 0h1m1 0h1m4 0h1m11 0h1m-42 1h1m13 0h1m1 0h1m3 0h1m0 0h1m0 0h1m-10 1h1m1 0h1m1 0h1m1 0h1m1 0h1m5 0h1m-16 1h1m4 0h1m4 0h1m0 0h1m-38 1h1m22 0h1m10 0h1m3 0h1m-7 1h1m1 0h1m1 0h1m-35 1h1m9 0h1m34 0h1m-23 1h1m3 0h1m6 0h1m7 1h1m-13 1h1m0 0h1m3 0h1m-5 2h1m3 1h1m-3 1h1m4 1h1" stroke="#4545b0" stroke-width="1"/>
<path d="M69 809h1m0 0h1m0 0h1m1 0h1m0 0h1m0 0h1m1 0h1m0 0h1m4 0h1m0 0h1m0 0h1m0 0h1m1 0h1m2 0h1m-22 1h1m2 0h1m2 0h1m2 0h1m0 0h1m1 0h1m0 0h1m2 0h1m3 0h1m0 0h1m-22 1h1m0 0h1m0 0h1m1 0h1m0 0h1m1 0h1m1 0h1m2 0h1m0 0h1m0 0h1m2 0h1m1 0h1m0 0h1m0 0h1m0 0h1m0 0h1m1 0h1m-26 1h1m3 0h1m0 0h1m0 0h1m0 0h1m0 0h1m3 0h1m4 0h1m3 0h1m0 0h1m0 0h1m0 0h1m-25 1h1m0 0h1m1 0h1m0 0h1m1 0h1m0 0h1m1 0h1m4 0h1m0 0h1m0 0h1m1 0h1m1 0h1m1 0h1m2 0h1m0 0h1m-27 1h1m1 0h1m0 0h1m1 0h1m5 0h1m4 0h1m1 0h1m0 0h1m0 0h1m0 0h1m0 0h1m0 0h1m-25 1h1m1 0h1m0 0h1m0 0h1m3 0h1m2 0h1m0 0h1m0 0h1m0 0h1m2 0h1m0 0h1m0 0h1m1 0h1m1 0h1m2 0h1m0 0h1m-30 1h1m0 0h1m1 0h1m3 0h1m0 0h1m1 0h1m0 0h1m4 0h1m2 0h1m1 0h1m1 0h1m1 0h1m0 0h1m0 0h1m0 0h1m2 0h1m-32 1h1m1 0h1m1 0h1m0 0h1m1 0h1m8 0h1m3 0h1m0 0h1m3 0h1m0 0h1m2 0h1m1 0h1m-30 1h1m0 0h1m2 0h1m1 0h1m5 0h1m1 0h1m5 0h1m0 0h1m2 0h1m0 0h1m0 0h1m2 0h1m0 0h1m-33 1h1m0 0h1m1 0h1m0 0h1m2 0h1m0 0h1m0 0h1m0 0h1m0 0h1m1 0h1m6 0h1m3 0h1m1 0h1m2 0h1m1 0h1m1 0h1m-34 1h1m4 0h1m1 0h1m1 0h1m17 0h1m2 0h1m0 0h1m2 0h1m-33 1h1m0 0h1m1 0h1m0 0h1m0 0h1m1 0h1m0 0h1m0 0h1m1 0h1m0 0h1m3 0h1m2 0h1m4 0h1m4 0h1m0 0h1m0 0h1m0 0h1m0 0h1m0 0h1m-35 1h1m1 0h1m0 0h1m0 0h1m0 0h1m12 0h1m11 0h1m0 0h1m2 0h1m0 0h1m-32 1h1m3 0h1m1 0h1m5 0h1m4 0h1m0 0h1m5 0h1m2 0h1m0 0h1m1 0h1m-34 1h1m1 0h1m2 0h1m3 0h1m7 0h1m4 0h1m1 0h1m2 0h1m0 0h1m0 0h1m1 0h1m1 0h1m-35 1h1m1 0h1m0 0h1m0 0h1m0 0h1m0 0h1m4 0h1m0 0h1m1 0h1m11 0h1m3 0h1m0 0h1m1 0h1m1 0h1m-33 1h1m0 0h1m0 0h1m1 0h1m1 0h1m1 0h1m0 0h1m14 0h1m1 0h1m-26 1h1m1 0h1m1 0h1m0 0h1m0 0h1m0 0h1m10 0h1m0 0h1m6 0h1m1 0h1m-30 1h1m1 0h1m2 0h1m3 0h1m0 0h1m6 0h1m0 0h1m10 0h1m0 0h1m0 0h1m-27 1h1m1 0h1m0 0h1m1 0h1m1 0h1m10 0h1m5 0h1m-24 1h1m1 0h1m2 0h1m5 0h1m0 0h1m2 0h1m2 0h1m2 0h1m2 0h1m0 0h1m-25 1h1m1 0h1m0 0h1m1 0h1m4 0h1m7 0h1m1 0h1m0 0h1m1 0h1m1 0h1m-25 1h1m0 0h1m2 0h1m3 0h1m8 0h1m0 0h1m2 0h1m2 0h1m-24 1h1m0 0h1m1 0h1m5 0h1m0 0h1m6 0h1m0 0h1m0 0h1m0 0h1m0 0h1m1 0h1m-22 1h1m4 0h1m0 0h1m2 0h1m1 0h1m0 0h1m0 0h1m4 0h1m-17 1h1m2 0h1m2 0h1m0 0h1m5 0h1m-16 1h1m1 0h1m1 0h1m0 0h1m2 0h1m4 0h1m0 0h1m0 0h1m2 0h1m-15 1h1m0 0h1m0 0h1m0 0h1m3 0h1m0 0h1m0 0h1m0 0h1m-10 1h1m1 0h1m0 0h1m1 0h1m0 0h1m0 0h1m0 0h1m-7 1h1m0 0h1m-2 1h1m2 0h1m-4 1h1m1 0h1" stroke="#20209a" stroke-width="1"/>
<path d="M83 812h1m0 0h1m0 0h1m2 0h1m-2 1h1m-11 1h1m-4 1h1m3 0h1m5 0h1m-3 1h1m4 0h1m-12 1h1m0 0h1m0 0h1m0 0h1m1 0h1m-5 1h1m0 0h1m0 0h1m0 0h1m11 0h1m-9 1h1m0 0h1m2 0h1m1 0h1m6 0h1m1 0h1m-22 1h1m2 0h1m2 0h1m1 0h1m2 0h1m0 0h1m5 0h1m-22 1h1m8 0h1m5 0h1m1 0h1m3 0h1m-20 1h1m6 0h1m6 0h1m-17 1h1m0 0h1m1 0h1m1 0h1m6 0h1m5 0h1m5 0h1m-23 1h1m0 0h1m2 0h1m4 0h1m1 0h1m0 0h1m10 0h1m-23 1h1m5 0h1m4 0h1m7 0h1m-21 1h1m1 0h1m11 0h1m2 0h1m0 0h1m1 0h1m2 0h1m-16 1h1m2 0h1m8 0h1m-11 1h1m5 0h1m6 0h1m-18 1h1m5 0h1m7 0h1m0 0h1m-17 1h1m1 0h1m7 0h1m7 0h1m0 0h1m-14 1h1m9 0h1m-13 1h1m2 0h1m0 0h1m3 0h1m4 0h1m-14 1h1m2 0h1m2 0h1m-3 3h1m1 0h1" stroke="#1e6e8a" stroke-width="1"/>
<path d="M89 816h1m1 0h1m-7 1h1m0 0h1m0 1h1m0 0h1m2 0h1m-6 1h1m2 0h1m2 0h1m-11 1h1m4 0h1m0 0h1m3 0h1m0 0h1m-15 1h1m2 0h1m8 0h1m2 0h1m-16 1h1m1 0h1m1 0h1m2 0h1m3 0h1m1 0h1m0 0h1m0 0h1m0 0h1m0 0h1m1 0h1m-16 1h1m0 0h1m3 0h1m0 0h1m4 0h1m1 0h1m1 0h1m-17 1h1m0 0h1m0 0h1m5 0h1m2 0h1m1 0h1m-14 1h1m2 0h1m1 0h1m3 0h1m2 0h1m1 0h1m1 0h1m-17 1h1m2 0h1m0 0h1m1 0h1m1 0h1m1 0h1m-11 1h1m3 0h1m0 0h1m1 0h1m3 0h1m2 0h1m-14 1h1m0 0h1m1 0h1m1 0h1m5 0h1m3 0h1m0 0h1m-14 1h1m1 0h1m1 0h1m0 0h1m2 0h1m1 0h1m-12 1h1m1 0h1m0 0h1m2 0h1m3 0h1m-11 1h1m1 0h1m2 0h1m1 1h1m0 0h1m0 1h1" stroke="#3c9a48" stroke-width="1"/>
</g><g transform="translate(54.9 731.8)">
<path d="M57.8 0V133.5M0 100.1H138.2" stroke="#222" stroke-width="0.9"/>
<g fill="#ececec"><rect x="0" y="0" width="24.2" height="20"/><rect x="110.1" y="0" width="28.1" height="20"/><rect x="110.1" y="114.9" width="28.1" height="18.6"/><rect x="0" y="114.9" width="24.2" height="18.6"/></g>
<g style="font:7px 'Liberation Sans',sans-serif" fill="#222">
<text x="2.1" y="8.7">Q1</text><text x="2.1" y="17.9">81.7%</text>
<text x="112.2" y="8.7">Q2</text><text x="112.2" y="17.9">0.025%</text>
<text x="112.2" y="122.3">Q3</text><text x="112.2" y="132">0.150%</text>
<text x="2.1" y="122.3">Q4</text><text x="2.1" y="132">18.1%</text>
</g>
<rect x="0" y="0" width="138.2" height="133.5" fill="none" stroke="#2a2a2a" stroke-width="1.1"/>
<path d="M0 133.5h-3.2M0 133.5v3.2M0 123.5h-1.8M10.4 133.5v1.8M0 117.6h-1.8M16.5 133.5v1.8M0 113.4h-1.8M20.8 133.5v1.8M0 110.2h-1.8M24.1 133.5v1.8M0 107.5h-1.8M26.9 133.5v1.8M0 105.3h-1.8M29.2 133.5v1.8M0 103.4h-1.8M31.2 133.5v1.8M0 101.7h-1.8M33 133.5v1.8M0 100.1h-3.2M34.5 133.5v3.2M0 90.1h-1.8M45 133.5v1.8M0 84.2h-1.8M51 133.5v1.8M0 80h-1.8M55.4 133.5v1.8M0 76.8h-1.8M58.7 133.5v1.8M0 74.2h-1.8M61.4 133.5v1.8M0 71.9h-1.8M63.7 133.5v1.8M0 70h-1.8M65.8 133.5v1.8M0 68.3h-1.8M67.5 133.5v1.8M0 66.8h-3.2M69.1 133.5v3.2M0 56.7h-1.8M79.5 133.5v1.8M0 50.8h-1.8M85.6 133.5v1.8M0 46.7h-1.8M89.9 133.5v1.8M0 43.4h-1.8M93.2 133.5v1.8M0 40.8h-1.8M96 133.5v1.8M0 38.5h-1.8M98.3 133.5v1.8M0 36.6h-1.8M100.3 133.5v1.8M0 34.9h-1.8M102.1 133.5v1.8M0 33.4h-3.2M103.6 133.5v3.2M0 23.3h-1.8M114.1 133.5v1.8M0 17.5h-1.8M120.1 133.5v1.8M0 13.3h-1.8M124.5 133.5v1.8M0 10h-1.8M127.8 133.5v1.8M0 7.4h-1.8M130.5 133.5v1.8M0 5.2h-1.8M132.8 133.5v1.8M0 3.2h-1.8M134.9 133.5v1.8M0 1.5h-1.8M136.6 133.5v1.8M0 0h-3.2M138.2 133.5v3.2" stroke="#333" stroke-width="0.7"/>
<g style="font:7.4px 'Liberation Sans',sans-serif" fill="#333">
<text x="-9" y="133.8" text-anchor="end">10</text><text x="-8.6" y="128.8" style="font-size:6px">0</text>
<text x="6.5" y="148.2" text-anchor="middle">10</text><text x="10.9" y="143.1" style="font-size:6px">0</text>
<text x="-9" y="103.3" text-anchor="end">10</text><text x="-8.6" y="98.3" style="font-size:6px">1</text>
<text x="34.5" y="148.2" text-anchor="middle">10</text><text x="38.9" y="143.1" style="font-size:6px">1</text>
<text x="-9" y="69.9" text-anchor="end">10</text><text x="-8.6" y="64.9" style="font-size:6px">2</text>
<text x="69.1" y="148.2" text-anchor="middle">10</text><text x="73.5" y="143.1" style="font-size:6px">2</text>
<text x="-9" y="36.5" text-anchor="end">10</text><text x="-8.6" y="31.5" style="font-size:6px">3</text>
<text x="103.6" y="148.2" text-anchor="middle">10</text><text x="108" y="143.1" style="font-size:6px">3</text>
<text x="-9" y="13.2" text-anchor="end">10</text><text x="-8.6" y="8.2" style="font-size:6px">4</text>
<text x="132.8" y="148.2" text-anchor="middle">10</text><text x="137.2" y="143.1" style="font-size:6px">4</text>
</g>
</g>
<g transform="translate(218.6 729.8)">
<rect x="0" y="0" width="140" height="135.1" fill="#9b9b9b"/>
</g><g transform="translate(0 0.5)">
<path d="M267 763h1m36 0h1m5 0h1m44 0h1m-78 2h1m71 0h1m-26 1h1m8 0h1m12 0h1m0 0h1m-29 1h1m9 0h1m-43 1h1m-3 1h1m48 0h1m-79 1h1m34 2h1m6 3h1m-34 2h1m61 0h1m-35 1h1m49 0h1m0 1h1m8 0h1m-46 1h1m12 0h1m-24 1h1m21 0h1m-28 1h1m10 0h1m-7 1h1m5 0h1m48 0h1m-75 1h1m12 0h1m14 0h1m1 0h1m-41 1h1m22 0h1m24 0h1m33 0h1m-41 1h1m7 0h1m-43 1h1m22 0h1m3 0h1m3 0h1m2 1h1m4 0h1m1 0h1m-48 1h1m12 0h1m6 0h1m7 0h1m1 0h1m0 0h1m4 0h1m4 0h1m0 0h1m0 0h1m6 0h1m2 0h1m-54 1h1m18 0h1m13 0h1m3 0h1m1 0h1m4 0h1m6 0h1m1 0h1m-41 1h1m4 0h1m5 0h1m1 0h1m2 0h1m0 0h1m5 0h1m3 0h1m4 0h1m2 0h1m11 0h1m-60 1h1m18 0h1m2 0h1m2 0h1m1 0h1m1 0h1m0 0h1m4 0h1m0 0h1m3 0h1m2 0h1m1 0h1m1 0h1m1 0h1m0 0h1m-28 1h1m3 0h1m4 0h1m1 0h1m0 0h1m3 0h1m0 0h1m0 0h1m4 0h1m0 0h1m-37 1h1m7 0h1m0 0h1m4 0h1m0 0h1m10 0h1m4 0h1m1 0h1m0 0h1m0 0h1m5 0h1m4 0h1m-49 1h1m8 0h1m2 0h1m2 0h1m0 0h1m0 0h1m0 0h1m14 0h1m0 0h1m0 0h1m2 0h1m1 0h1m0 0h1m-10 1h1m1 0h1m0 0h1m0 0h1m1 0h1m1 0h1m0 0h1m-31 1h1m0 0h1m0 0h1m0 0h1m0 0h1m0 0h1m17 0h1m2 0h1m1 0h1m0 0h1m0 0h1m1 0h1m0 0h1m1 0h1m-40 1h1m2 0h1m2 0h1m0 0h1m0 0h1m19 0h1m1 0h1m0 0h1m5 0h1m5 0h1m-52 1h1m8 0h1m0 0h1m4 0h1m0 0h1m20 0h1m4 0h1m0 0h1m7 0h1m-43 1h1m30 0h1m2 0h1m2 0h1m19 0h1m-57 1h1m2 0h1m26 0h1m2 0h1m2 0h1m5 0h1m0 0h1m0 0h1m-52 1h1m0 0h1m2 0h1m1 0h1m32 0h1m0 0h1m3 0h1m11 0h1m-50 1h1m0 0h1m28 0h1m0 0h1m0 0h1m4 0h1m6 0h1m0 0h1m-55 1h1m5 0h1m2 0h1m1 0h1m27 0h1m-37 1h1m2 0h1m3 0h1m30 0h1m4 0h1m-44 1h1m2 0h1m3 0h1m29 0h1m0 0h1m1 0h1m9 0h1m-45 1h1m0 0h1m28 0h1m2 0h1m8 0h1m-41 1h1m27 0h1m0 0h1m0 0h1m4 0h1m4 0h1m-45 1h1m0 0h1m0 0h1m1 0h1m27 0h1m0 0h1m0 0h1m1 0h1m1 0h1m12 0h1m-49 1h1m0 0h1m0 0h1m0 0h1m27 0h1m1 0h1m5 0h1m-65 1h1m1 0h1m13 0h1m2 0h1m2 0h1m1 0h1m31 0h1m0 0h1m1 0h1m0 0h1m2 0h1m10 0h1m-61 1h1m2 0h1m2 0h1m1 0h1m0 0h1m2 0h1m1 0h1m0 0h1m0 0h1m23 0h1m2 0h1m3 0h1m1 0h1m-40 1h1m2 0h1m2 0h1m20 0h1m0 0h1m3 0h1m8 0h1m19 0h1m-57 1h1m24 0h1m0 0h1m7 0h1m8 0h1m-51 1h1m5 0h1m0 0h1m0 0h1m18 0h1m1 0h1m2 0h1m0 0h1m0 0h1m1 0h1m17 0h1m-83 1h1m29 0h1m0 0h1m0 0h1m0 0h1m3 0h1m0 0h1m16 0h1m2 0h1m0 0h1m1 0h1m7 0h1m5 0h1m-82 1h1m35 0h1m0 0h1m3 0h1m2 0h1m19 0h1m0 0h1m1 0h1m3 0h1m0 0h1m2 0h1m0 0h1m3 0h1m-57 1h1m8 0h1m6 0h1m3 0h1m19 0h1m0 0h1m0 0h1m-8 1h1m4 0h1m-53 1h1m24 0h1m1 0h1m5 0h1m15 0h1m1 0h1m-27 1h1m2 0h1m3 0h1m18 0h1m3 0h1m21 0h1m-52 1h1m4 0h1m2 0h1m16 0h1m-26 1h1m2 0h1m3 0h1m1 0h1m15 0h1m2 0h1m-28 1h1m5 0h1m0 0h1m3 0h1m-48 1h1m26 0h1m1 0h1m2 0h1m4 0h1m0 0h1m2 0h1m2 0h1m0 0h1m0 0h1m14 0h1m0 0h1m0 0h1m0 0h1m-44 1h1m25 0h1m15 0h1m1 0h1m3 0h1m-33 1h1m4 0h1m2 0h1m1 0h1m12 0h1m0 0h1m0 0h1m-55 1h1m0 0h1m24 0h1m8 0h1m0 0h1m1 0h1m0 0h1m10 0h1m3 0h1m2 0h1m2 0h1m-29 1h1m17 0h1m0 0h1m-21 1h1m0 0h1m1 0h1m0 0h1m1 0h1m12 0h1m4 0h1m6 0h1m-53 1h1m24 0h1m15 0h1m0 0h1m3 0h1m-24 1h1m1 0h1m0 0h1m13 0h1m3 0h1m0 0h1m-25 1h1m1 0h1m1 0h1m14 0h1m2 0h1m-18 1h1m11 0h1m5 0h1m-22 1h1m0 0h1m0 0h1m0 0h1m0 0h1m15 0h1m-23 1h1m3 0h1m0 0h1m11 0h1m1 0h1m0 0h1m0 0h1m3 0h1m3 0h1m-13 1h1m3 0h1m0 0h1m-23 1h1m0 0h1m1 0h1m14 0h1m0 0h1m-36 1h1m32 0h1m3 0h1m5 0h1m2 0h1m-62 1h1m34 0h1m0 0h1m11 0h1m19 0h1m-39 1h1m2 0h1m1 0h1m0 0h1m0 0h1m11 0h1m1 0h1m1 0h1m3 0h1m-67 1h1m46 0h1m-8 1h1m0 0h1m2 0h1m3 0h1m9 0h1m0 0h1m7 0h1m11 0h1m-45 1h1m6 0h1m0 0h1m0 0h1m1 0h1m11 0h1m0 0h1m0 0h1m8 0h1m-64 1h1m23 0h1m15 0h1m13 0h1m2 0h1m-33 1h1m8 0h1m3 0h1m2 0h1m12 0h1m2 0h1m-25 1h1m2 0h1m5 0h1m10 0h1m1 0h1m0 0h1m-26 1h1m2 0h1m1 0h1m16 0h1m3 0h1m-23 1h1m1 0h1m4 0h1m11 0h1m5 0h1m-31 1h1m0 0h1m2 0h1m1 0h1m0 0h1m2 0h1m0 0h1m9 0h1m1 0h1m0 0h1m0 0h1m-18 1h1m3 0h1m9 0h1m0 0h1m2 0h1m-22 1h1m0 0h1m13 0h1m4 0h1m1 0h1m3 0h1m-29 1h1m4 0h1m0 0h1m11 0h1m0 0h1m4 0h1m-21 1h1m0 0h1m12 0h1m0 0h1m0 0h1m3 0h1m0 0h1m9 0h1m-34 1h1m2 0h1m1 0h1m12 0h1m1 0h1m-22 1h1m4 0h1m0 0h1m14 0h1m1 0h1m1 0h1m-24 1h1m18 0h1m0 0h1m1 0h1m1 0h1m-32 1h1m1 0h1m5 0h1m1 0h1m0 0h1m10 0h1m1 0h1m0 0h1m2 0h1m1 0h1m-30 1h1m8 0h1m12 0h1m1 0h1m1 0h1m-20 1h1m2 0h1m0 0h1m0 0h1m5 0h1m0 0h1m0 0h1m4 0h1m-21 1h1m0 0h1m2 0h1m0 0h1m9 0h1m1 0h1m1 0h1m1 0h1m1 0h1m1 0h1m-29 1h1m6 0h1m0 0h1m0 0h1m2 0h1m1 0h1m0 0h1m0 0h1m0 0h1m0 0h1m2 0h1m-8 1h1" stroke="#4545b0" stroke-width="1"/>
<path d="M302 794h1m2 0h1m-3 1h1m0 0h1m0 0h1m1 0h1m0 0h1m0 0h1m0 0h1m1 0h1m0 0h1m-13 1h1m0 0h1m0 0h1m1 0h1m1 0h1m0 0h1m2 0h1m0 0h1m-11 1h1m2 0h1m0 0h1m2 0h1m0 0h1m-13 1h1m0 0h1m1 0h1m2 0h1m1 0h1m0 0h1m3 0h1m3 0h1m-17 1h1m8 0h1m7 0h1m-18 1h1m1 0h1m0 0h1m0 0h1m11 0h1m0 0h1m2 0h1m0 0h1m-25 1h1m1 0h1m7 0h1m8 0h1m0 0h1m0 0h1m2 0h1m-28 1h1m0 0h1m0 0h1m3 0h1m5 0h1m5 0h1m4 0h1m2 0h1m0 0h1m-27 1h1m0 0h1m0 0h1m1 0h1m7 0h1m2 0h1m-15 1h1m0 0h1m1 0h1m17 0h1m0 0h1m-24 1h1m5 0h1m3 0h1m0 0h1m5 0h1m4 0h1m0 0h1m1 0h1m0 0h1m-24 1h1m1 0h1m0 0h1m4 0h1m2 0h1m6 0h1m0 0h1m1 0h1m-22 1h1m0 0h1m2 0h1m1 0h1m8 0h1m0 0h1m1 0h1m1 0h1m0 0h1m1 0h1m-25 1h1m6 0h1m4 0h1m9 0h1m1 0h1m-27 1h1m1 0h1m0 0h1m0 0h1m1 0h1m0 0h1m0 0h1m11 0h1m3 0h1m0 0h1m-23 1h1m0 0h1m0 0h1m0 0h1m0 0h1m0 0h1m11 0h1m1 0h1m1 0h1m0 0h1m0 0h1m-25 1h1m0 0h1m0 0h1m0 0h1m0 0h1m0 0h1m1 0h1m4 0h1m6 0h1m0 0h1m0 0h1m-19 1h1m2 0h1m3 0h1m6 0h1m0 0h1m1 0h1m-16 1h1m1 0h1m1 0h1m6 0h1m1 0h1m1 0h1m0 0h1m-17 1h1m3 0h1m3 0h1m1 0h1m1 0h1m1 0h1m1 0h1m-16 1h1m2 0h1m0 0h1m0 0h1m1 0h1m1 0h1m0 0h1m1 0h1m0 0h1m-14 1h1m1 0h1m0 0h1m2 0h1m1 0h1m0 0h1m0 0h1m2 0h1m-15 1h1m0 0h1m1 0h1m0 0h1m0 0h1m0 0h1m0 0h1m0 0h1m1 0h1m0 0h1m0 0h1m-13 1h1m5 0h1m1 0h1m2 0h1m-12 1h1m1 0h1m3 0h1m1 0h1m0 0h1m0 0h1m0 0h1m0 0h1m-10 1h1m0 0h1m0 0h1m2 0h1m0 0h1m0 0h1m0 0h1m0 0h1m-13 1h1m2 0h1m0 0h1m2 0h1m2 0h1m2 0h1m0 0h1m-12 1h1m0 0h1m2 0h1m0 0h1m3 0h1m-9 1h1m2 0h1m2 0h1m0 0h1m0 0h1m-8 1h1m1 0h1m1 0h1m2 0h1m0 0h1m3 0h1m-12 1h1m0 0h1m2 0h1m0 0h1m2 0h1m0 0h1m-10 1h1m3 0h1m3 0h1m1 0h1m-11 1h1m1 0h1m1 0h1m0 0h1m0 0h1m0 0h1m0 0h1m-10 1h1m1 0h1m1 0h1m0 0h1m1 0h1m1 0h1m-11 1h1m1 0h1m3 0h1m1 0h1m0 0h1m0 0h1m-12 1h1m1 0h1m1 0h1m0 0h1m2 0h1m0 0h1m0 0h1m0 0h1m-10 1h1m1 0h1m0 0h1m0 0h1m0 0h1m0 0h1m0 0h1m0 0h1m0 0h1m-13 1h1m3 0h1m1 0h1m0 0h1m1 0h1m1 0h1m-11 1h1m0 0h1m1 0h1m0 0h1m0 0h1m1 0h1m3 0h1m-10 1h1m0 0h1m2 0h1m1 0h1m-9 1h1m0 0h1m2 0h1m0 0h1m0 0h1m0 0h1m-9 1h1m0 0h1m0 0h1m0 0h1m1 0h1m0 0h1m1 0h1m0 0h1m-10 1h1m0 0h1m0 0h1m0 0h1m2 0h1m0 0h1m0 0h1m-8 1h1m0 0h1m2 0h1m0 0h1m0 0h1m0 0h1m-9 1h1m0 0h1m2 0h1m0 0h1m0 0h1m0 0h1m0 0h1m0 0h1m-7 1h1m0 0h1m0 0h1m2 0h1m0 0h1m-9 1h1m0 0h1m2 0h1m1 0h1m2 0h1m-6 1h1m0 0h1m0 0h1m0 0h1m-6 1h1m0 0h1m0 0h1m3 0h1m-6 1h1m0 0h1m0 0h1m0 0h1m-5 1h1m2 0h1m1 0h1m1 0h1m0 0h1m-9 1h1m0 0h1m0 0h1m2 0h1m1 0h1m-8 1h1m0 0h1m3 0h1m1 0h1m1 0h1m-10 1h1m1 0h1m1 0h1m1 0h1m1 0h1m-8 1h1m0 0h1m4 0h1m-8 1h1m1 0h1m0 0h1m2 0h1m-7 1h1m2 0h1m0 0h1m1 0h1m-10 1h1m0 0h1m0 0h1m0 0h1m0 0h1m0 0h1m0 0h1m0 0h1m1 0h1m-9 1h1m1 0h1m0 0h1m0 0h1m0 0h1m1 0h1m-6 1h1m1 0h1m0 0h1m1 0h1m0 0h1m-9 1h1m1 0h1m0 0h1m0 0h1m2 0h1m2 0h1m0 0h1m-8 1h1m3 0h1m0 0h1m-10 1h1m1 0h1m1 0h1m3 0h1m-9 1h1m2 0h1m0 0h1m0 0h1m0 0h1m1 0h1m-8 1h1m1 0h1m0 0h1m0 0h1m1 0h1m0 0h1m-7 1h1m2 0h1m-1 1h1" stroke="#20209a" stroke-width="1"/>
<path d="M311 797h1m0 0h1m-10 1h1m4 0h1m-5 1h1m5 0h1m-7 1h1m0 0h1m2 0h1m-7 1h1m5 0h1m3 0h1m1 0h1m-13 1h1m4 0h1m7 0h1m-16 1h1m10 0h1m-13 1h1m0 0h1m13 0h1m-9 1h1m3 0h1m1 0h1m-10 1h1m6 0h1m0 0h1m-5 1h1m-8 1h1m4 0h1m7 0h1m0 0h1m0 0h1m-7 1h1m-4 1h1m2 0h1m2 0h1m-6 1h1m6 0h1m-6 1h1m-4 1h1m1 0h1m1 0h1m0 0h1" stroke="#1e6e8a" stroke-width="1"/>
<path d="M311 799h1m-3 1h1m0 0h1m1 0h1m-8 1h1m1 0h1m3 0h1m-2 1h1m2 0h1m0 0h1m-13 1h1m0 0h1m0 0h1m0 0h1m1 0h1m2 0h1m2 0h1m0 0h1m-12 1h1m1 0h1m1 0h1m0 0h1m0 0h1m0 0h1m0 0h1m0 0h1m2 0h1m-9 1h1m0 0h1m0 0h1m-9 1h1m4 0h1m6 0h1m0 0h1m-10 1h1m5 0h1m2 0h1m-11 1h1m4 0h1m2 0h1m-8 1h1m1 0h1m0 0h1m-5 1h1m0 0h1m4 0h1m-7 1h1m1 0h1m2 0h1m0 0h1m0 0h1" stroke="#3c9a48" stroke-width="1"/>
</g><g transform="translate(218.6 729.8)">
<path d="M58.2 0V135.1M0 101.3H140" stroke="#222" stroke-width="0.9"/>
<g fill="#ececec"><rect x="0" y="0" width="28.1" height="20"/><rect x="115.8" y="0" width="24.2" height="20"/><rect x="115.8" y="116.5" width="24.2" height="18.6"/><rect x="0" y="116.5" width="24.2" height="18.6"/></g>
<g style="font:7px 'Liberation Sans',sans-serif" fill="#222">
<text x="2.1" y="8.7">Q1</text><text x="2.1" y="17.9">0.135%</text>
<text x="117.9" y="8.7">Q2</text><text x="117.9" y="17.9">53.9%</text>
<text x="117.9" y="123.9">Q3</text><text x="117.9" y="133.6">45.9%</text>
<text x="2.1" y="123.9">Q4</text><text x="2.1" y="133.6">0.00%</text>
</g>
<rect x="0" y="0" width="140" height="135.1" fill="none" stroke="#2a2a2a" stroke-width="1.1"/>
<path d="M0 135.1h-3.2M0 135.1v3.2M0 124.9h-1.8M10.5 135.1v1.8M0 119h-1.8M16.7 135.1v1.8M0 114.8h-1.8M21.1 135.1v1.8M0 111.5h-1.8M24.5 135.1v1.8M0 108.8h-1.8M27.2 135.1v1.8M0 106.6h-1.8M29.6 135.1v1.8M0 104.6h-1.8M31.6 135.1v1.8M0 102.9h-1.8M33.4 135.1v1.8M0 101.3h-3.2M35 135.1v3.2M0 91.2h-1.8M45.5 135.1v1.8M0 85.2h-1.8M51.7 135.1v1.8M0 81h-1.8M56.1 135.1v1.8M0 77.7h-1.8M59.5 135.1v1.8M0 75h-1.8M62.2 135.1v1.8M0 72.8h-1.8M64.6 135.1v1.8M0 70.8h-1.8M66.6 135.1v1.8M0 69.1h-1.8M68.4 135.1v1.8M0 67.6h-3.2M70 135.1v3.2M0 57.4h-1.8M80.5 135.1v1.8M0 51.4h-1.8M86.7 135.1v1.8M0 47.2h-1.8M91.1 135.1v1.8M0 43.9h-1.8M94.5 135.1v1.8M0 41.3h-1.8M97.2 135.1v1.8M0 39h-1.8M99.6 135.1v1.8M0 37h-1.8M101.6 135.1v1.8M0 35.3h-1.8M103.4 135.1v1.8M0 33.8h-3.2M105 135.1v3.2M0 23.6h-1.8M115.5 135.1v1.8M0 17.7h-1.8M121.7 135.1v1.8M0 13.4h-1.8M126.1 135.1v1.8M0 10.2h-1.8M129.5 135.1v1.8M0 7.5h-1.8M132.2 135.1v1.8M0 5.2h-1.8M134.6 135.1v1.8M0 3.3h-1.8M136.6 135.1v1.8M0 1.5h-1.8M138.4 135.1v1.8M0 0h-3.2M140 135.1v3.2" stroke="#333" stroke-width="0.7"/>
<g style="font:7.4px 'Liberation Sans',sans-serif" fill="#333">
<text x="-9" y="135.4" text-anchor="end">10</text><text x="-8.6" y="130.4" style="font-size:6px">0</text>
<text x="6.5" y="149.8" text-anchor="middle">10</text><text x="10.9" y="144.7" style="font-size:6px">0</text>
<text x="-9" y="104.5" text-anchor="end">10</text><text x="-8.6" y="99.5" style="font-size:6px">1</text>
<text x="35" y="149.8" text-anchor="middle">10</text><text x="39.4" y="144.7" style="font-size:6px">1</text>
<text x="-9" y="70.7" text-anchor="end">10</text><text x="-8.6" y="65.7" style="font-size:6px">2</text>
<text x="70" y="149.8" text-anchor="middle">10</text><text x="74.4" y="144.7" style="font-size:6px">2</text>
<text x="-9" y="36.9" text-anchor="end">10</text><text x="-8.6" y="31.9" style="font-size:6px">3</text>
<text x="105" y="149.8" text-anchor="middle">10</text><text x="109.4" y="144.7" style="font-size:6px">3</text>
<text x="-9" y="13.2" text-anchor="end">10</text><text x="-8.6" y="8.2" style="font-size:6px">4</text>
<text x="134.6" y="149.8" text-anchor="middle">10</text><text x="139" y="144.7" style="font-size:6px">4</text>
</g>
</g>
<g transform="translate(382.5 727.7)">
<rect x="0" y="0" width="141.3" height="136.7" fill="#9b9b9b"/>
</g><g transform="translate(0 0.5)">
<path d="M511 756h1m-1 1h1m0 1h1m-1 1h1m-1 1h1m-1 1h1m0 1h1m-4 1h1m0 0h1m-39 1h1m38 0h1m-31 1h1m26 3h1m1 0h1m0 1h1m0 0h1m-7 1h1m2 1h1m1 0h1m-1 2h1m-2 1h1m1 3h1m-4 4h1m0 1h1m-50 4h1m48 1h1m-45 1h1m7 2h1m36 0h1m-39 1h1m-20 1h1m57 0h1m-48 2h1m2 0h1m7 0h1m0 0h1m0 0h1m2 1h1m-17 1h1m15 1h1m-16 1h1m12 0h1m-17 1h1m17 0h1m-24 1h1m5 0h1m16 0h1m1 0h1m0 0h1m25 0h1m0 0h1m-55 1h1m3 0h1m2 0h1m16 0h1m1 0h1m0 0h1m1 0h1m-35 1h1m2 0h1m9 0h1m0 0h1m19 0h1m4 0h1m20 0h1m-30 1h1m1 0h1m0 0h1m24 0h1m-48 1h1m17 0h1m1 0h1m2 0h1m-6 1h1m0 0h1m-2 1h1m2 0h1m13 0h1m-40 1h1m2 0h1m1 0h1m16 0h1m3 0h1m24 0h1m-63 1h1m14 0h1m0 0h1m20 0h1m3 0h1m-26 1h1m17 0h1m-21 1h1m19 0h1m-3 1h1m6 0h1m-29 1h1m1 0h1m0 0h1m19 0h1m27 0h1m-30 1h1m1 1h1m5 0h1m5 0h1m1 0h1m12 0h1m-49 2h1m-1 2h1m0 0h1m0 0h1m17 0h1m0 0h1m0 0h1m29 0h1m-52 1h1m1 0h1m13 0h1m0 0h1m6 1h1m4 0h1m-38 1h1m9 0h1m12 0h1m1 0h1m1 0h1m-21 1h1m17 0h1m4 0h1m-25 1h1m2 0h1m14 0h1m-21 1h1m2 0h1m1 0h1m0 0h1m12 0h1m0 0h1m8 0h1m-10 1h1m3 0h1m-21 1h1m-7 1h1m4 0h1m26 0h1m-30 1h1m0 0h1m2 0h1m14 0h1m13 0h1m-15 1h1m1 0h1m-25 1h1m4 0h1m16 0h1m0 0h1m15 0h1m-34 1h1m14 0h1m3 0h1m1 0h1m2 0h1m-37 1h1m5 0h1m20 0h1m-17 1h1m-2 1h1m16 0h1m6 0h1m0 0h1m0 0h1m-24 1h1m13 0h1m4 0h1m-30 1h1m24 0h1m-23 1h1m1 0h1m0 0h1m3 0h1m15 0h1m0 0h1m23 0h1m-43 1h1m0 0h1m17 0h1m2 0h1m-24 1h1m1 0h1m15 0h1m1 0h1m0 0h1m0 0h1m3 0h1m0 0h1m-32 1h1m6 0h1m12 0h1m8 0h1m-28 1h1m1 0h1m1 0h1m13 0h1m1 0h1m0 0h1m-3 1h1m3 0h1m-4 1h1m4 0h1m1 0h1m-28 1h1m18 0h1m0 0h1m4 0h1m3 0h1m-12 1h1m2 0h1m1 0h1m2 0h1m-24 1h1m0 0h1m13 0h1m2 0h1m-20 1h1m23 0h1m2 0h1m-30 1h1m2 0h1m15 0h1m0 0h1m-21 1h1m18 0h1m2 0h1m4 0h1m-26 1h1m15 0h1m0 0h1m24 0h1m-53 1h1m9 0h1m1 0h1m13 0h1m0 0h1m0 0h1m2 0h1m-26 1h1m4 0h1m0 0h1m-12 1h1m9 0h1m14 0h1m0 0h1m0 0h1m-29 1h1m10 0h1m0 0h1m0 0h1m12 0h1m5 0h1m-35 1h1m13 0h1m0 0h1m12 0h1m2 0h1m1 0h1m-20 1h1m13 0h1m10 0h1m-32 1h1m1 0h1m17 0h1m-27 1h1m4 0h1m3 0h1m0 0h1m16 0h1m2 0h1m5 0h1m-33 1h1m5 0h1m0 0h1m14 0h1m0 0h1m5 0h1m-19 1h1m8 0h1m-13 1h1m11 0h1m0 0h1m1 0h1m1 0h1m1 0h1m2 0h1m-20 1h1m5 0h1m2 0h1m4 0h1" stroke="#4545b0" stroke-width="1"/>
<path d="M471 792h1m2 0h1m-2 1h1m0 0h1m-4 1h1m0 0h1m1 0h1m0 0h1m0 0h1m-10 1h1m0 0h1m1 0h1m1 0h1m1 0h1m1 0h1m0 0h1m1 0h1m-11 1h1m1 0h1m5 0h1m1 0h1m-13 1h1m0 0h1m0 0h1m9 0h1m-11 1h1m4 0h1m3 0h1m-12 1h1m0 0h1m7 0h1m2 0h1m-11 1h1m5 0h1m1 0h1m0 0h1m2 0h1m-2 1h1m0 0h1m-13 1h1m7 0h1m1 0h1m1 0h1m-14 1h1m1 0h1m8 0h1m1 0h1m-14 1h1m11 0h1m0 0h1m-12 1h1m3 0h1m2 0h1m1 0h1m0 0h1m-13 2h1m2 0h1m8 0h1m-10 1h1m8 0h1m-14 1h1m0 0h1m0 0h1m-4 1h1m0 0h1m3 0h1m3 0h1m3 0h1m0 0h1m0 0h1m-16 1h1m0 0h1m2 0h1m4 0h1m4 0h1m-1 1h1m0 0h1m0 0h1m-17 1h1m0 0h1m2 0h1m0 0h1m7 0h1m0 0h1m-15 1h1m0 0h1m0 0h1m7 0h1m3 0h1m1 0h1m-16 1h1m0 0h1m0 0h1m4 0h1m3 0h1m0 0h1m1 0h1m0 0h1m-16 1h1m2 0h1m1 0h1m5 0h1m1 0h1m-5 1h1m1 0h1m0 0h1m0 0h1m-14 1h1m0 0h1m0 0h1m2 0h1m5 0h1m0 0h1m-9 1h1m6 0h1m0 0h1m-12 1h1m0 0h1m8 0h1m0 0h1m-12 1h1m0 0h1m2 0h1m6 0h1m-13 1h1m1 0h1m5 0h1m0 0h1m1 0h1m-11 1h1m0 0h1m0 0h1m1 0h1m3 0h1m0 0h1m0 0h1m-4 1h1m0 0h1m-8 1h1m0 0h1m0 0h1m4 0h1m1 0h1m-10 1h1m1 0h1m0 0h1m2 0h1m0 0h1m2 0h1m-13 1h1m7 0h1m0 0h1m-10 1h1m1 0h1m3 0h1m0 0h1m1 0h1m0 0h1m0 0h1m-10 1h1m1 0h1m1 0h1m1 0h1m0 0h1m1 0h1m0 0h1m-9 1h1m5 0h1m1 0h1m-11 1h1m0 0h1m0 0h1m1 0h1m1 0h1m0 0h1m-9 1h1m1 0h1m0 0h1m0 0h1m0 0h1m1 0h1m0 0h1m2 0h1m-11 1h1m0 0h1m1 0h1m3 0h1m0 0h1m0 0h1m0 0h1m-13 1h1m0 0h1m0 0h1m1 0h1m0 0h1m0 0h1m2 0h1m0 0h1m-9 1h1m0 0h1m0 0h1m0 0h1m0 0h1m1 0h1m1 0h1m1 0h1m-13 1h1m1 0h1m0 0h1m1 0h1m3 0h1m0 0h1m0 0h1m-11 1h1m0 0h1m0 0h1m1 0h1m1 0h1m1 0h1m0 0h1m0 0h1m0 0h1m-10 1h1m0 0h1m3 0h1m1 0h1m1 0h1m-12 1h1m0 0h1m0 0h1m2 0h1m2 0h1m1 0h1m0 0h1m-10 1h1m0 0h1m0 0h1m2 0h1m2 0h1m-10 1h1m1 0h1m0 0h1m0 0h1m0 0h1m0 0h1m0 0h1m1 0h1m-11 1h1m0 0h1m0 0h1m3 0h1m0 0h1m-5 1h1m1 0h1m0 0h1m1 0h1m0 0h1m-10 1h1m4 0h1m0 0h1m0 0h1m0 0h1m1 0h1m0 0h1m-12 1h1m0 0h1m0 0h1m0 0h1m1 0h1m1 0h1m0 0h1m0 0h1m0 0h1m-11 1h1m0 0h1m0 0h1m2 0h1m0 0h1m1 0h1m2 0h1m-12 1h1m1 0h1m0 0h1m2 0h1m1 0h1m0 0h1m1 0h1m-13 1h1m1 0h1m4 0h1m0 0h1m0 0h1m0 0h1m1 0h1m-13 1h1m0 0h1m0 0h1m0 0h1m0 0h1m0 0h1m2 0h1m0 0h1m0 0h1m1 0h1m-13 1h1m1 0h1m2 0h1m0 0h1m4 0h1m0 0h1m-9 1h1m1 0h1m0 0h1m2 0h1m0 0h1m-11 1h1m4 0h1m2 0h1m0 0h1m0 0h1m0 0h1m-12 1h1m0 0h1m1 0h1m1 0h1m1 0h1m1 0h1m0 0h1m-3 1h1m1 0h1m0 0h1m-12 1h1m1 0h1m1 0h1m1 0h1m0 0h1m0 0h1m1 0h1m0 0h1m-13 1h1m0 0h1m8 0h1m1 0h1m-12 1h1m0 0h1m0 0h1m1 0h1m2 0h1m1 0h1m0 0h1m0 0h1m-11 1h1m0 0h1m0 0h1m0 0h1m0 0h1m0 0h1m0 0h1m0 0h1m0 0h1m-10 1h1m0 0h1m0 0h1m0 0h1m5 0h1m0 0h1m-9 1h1m0 0h1m0 0h1m1 0h1m1 0h1m0 0h1m-8 1h1m2 0h1m0 0h1m0 0h1m1 0h1m-8 1h1m0 0h1" stroke="#20209a" stroke-width="1"/>
<path d="M475 795h1m-3 1h1m0 0h1m0 0h1m-3 1h1m3 2h1m0 0h1m-5 2h1m3 1h1m-2 1h1m0 0h1m-8 1h1m1 0h1m-3 1h1m3 0h1m-8 1h1m6 0h1m-7 1h1m3 0h1m2 0h1m-9 1h1m8 0h1m0 0h1m0 0h1m-4 1h1m0 0h1m-8 1h1m6 0h1m-10 1h1m0 0h1m2 0h1m5 0h1m-11 1h1m0 0h1m1 0h1m1 0h1m0 0h1m1 0h1m0 0h1m-3 1h1m-4 1h1m0 0h1m0 0h1m4 0h1m-10 1h1m-3 1h1m4 0h1m-5 1h1m3 0h1m0 0h1m2 0h1m-3 1h1m-7 1h1m0 0h1m3 0h1m0 0h1m-5 1h1m1 0h1m0 0h1m-5 1h1m4 0h1m-5 1h1m3 1h1m-3 1h1m-2 1h1m0 0h1m1 0h1m-6 1h1m2 0h1m0 0h1m-5 1h1m0 0h1m-2 1h1m4 0h1m-4 1h1m0 1h1m1 0h1m0 0h1m-5 1h1m1 1h1m2 0h1m-5 1h1m-1 3h1m-1 1h1m-2 8h1m-1 2h1m-3 1h1m0 0h1m0 0h1m-3 2h1m4 0h1m0 0h1m-5 1h1m3 0h1m-5 1h1m-3 2h1m0 0h1m1 5h1m0 0h1" stroke="#1e6e8a" stroke-width="1"/>
<path d="M474 797h1m0 0h1m-5 1h1m-2 1h1m0 0h1m2 0h1m0 0h1m-6 1h1m0 0h1m0 0h1m0 0h1m-2 1h1m0 0h1m1 0h1m1 0h1m-4 1h1m0 0h1m-2 1h1m1 0h1m-7 1h1m3 0h1m0 0h1m1 0h1m-6 1h1m0 0h1m2 0h1m-7 1h1m0 0h1m1 0h1m2 0h1m0 0h1m-6 1h1m2 0h1m2 0h1m-9 1h1m2 0h1m-4 1h1m1 0h1m0 0h1m0 0h1m0 0h1m-3 1h1m0 0h1m1 0h1m1 0h1m-8 1h1m1 0h1m2 0h1m0 0h1m1 0h1m-5 1h1m3 0h1m-7 1h1m3 0h1m-8 1h1m2 1h1m1 0h1m0 0h1m-6 1h1m2 0h1m0 0h1m0 0h1m-6 1h1m3 0h1m-6 1h1m0 0h1m1 0h1m0 0h1m2 0h1m-5 1h1m2 0h1m-5 1h1m2 0h1m-5 1h1m2 0h1m1 0h1m0 0h1m-6 1h1m0 1h1m0 0h1m-3 1h1m1 1h1m-3 2h1m1 0h1" stroke="#3c9a48" stroke-width="1"/>
</g><g transform="translate(382.5 727.7)">
<path d="M59.5 0V136.7M0 102.5H141.3" stroke="#222" stroke-width="0.9"/>
<g fill="#ececec"><rect x="0" y="0" width="24.2" height="20"/><rect x="117.1" y="0" width="24.2" height="20"/><rect x="117.1" y="118.1" width="24.2" height="18.6"/><rect x="0" y="118.1" width="24.2" height="18.6"/></g>
<g style="font:7px 'Liberation Sans',sans-serif" fill="#222">
<text x="2.1" y="8.7">Q1</text><text x="2.1" y="17.9">0.00%</text>
<text x="119.2" y="8.7">Q2</text><text x="119.2" y="17.9">43.2%</text>
<text x="119.2" y="125.5">Q3</text><text x="119.2" y="135.2">56.8%</text>
<text x="2.1" y="125.5">Q4</text><text x="2.1" y="135.2">0.00%</text>
</g>
<rect x="0" y="0" width="141.3" height="136.7" fill="none" stroke="#2a2a2a" stroke-width="1.1"/>
<path d="M0 136.7h-3.2M0 136.7v3.2M0 126.4h-1.8M10.6 136.7v1.8M0 120.4h-1.8M16.9 136.7v1.8M0 116.1h-1.8M21.3 136.7v1.8M0 112.8h-1.8M24.7 136.7v1.8M0 110.1h-1.8M27.5 136.7v1.8M0 107.8h-1.8M29.9 136.7v1.8M0 105.8h-1.8M31.9 136.7v1.8M0 104.1h-1.8M33.7 136.7v1.8M0 102.5h-3.2M35.3 136.7v3.2M0 92.2h-1.8M46 136.7v1.8M0 86.2h-1.8M52.2 136.7v1.8M0 81.9h-1.8M56.6 136.7v1.8M0 78.6h-1.8M60 136.7v1.8M0 75.9h-1.8M62.8 136.7v1.8M0 73.6h-1.8M65.2 136.7v1.8M0 71.7h-1.8M67.2 136.7v1.8M0 69.9h-1.8M69 136.7v1.8M0 68.3h-3.2M70.6 136.7v3.2M0 58.1h-1.8M81.3 136.7v1.8M0 52h-1.8M87.5 136.7v1.8M0 47.8h-1.8M91.9 136.7v1.8M0 44.5h-1.8M95.3 136.7v1.8M0 41.8h-1.8M98.1 136.7v1.8M0 39.5h-1.8M100.5 136.7v1.8M0 37.5h-1.8M102.6 136.7v1.8M0 35.7h-1.8M104.4 136.7v1.8M0 34.2h-3.2M106 136.7v3.2M0 23.9h-1.8M116.6 136.7v1.8M0 17.9h-1.8M122.8 136.7v1.8M0 13.6h-1.8M127.2 136.7v1.8M0 10.3h-1.8M130.7 136.7v1.8M0 7.6h-1.8M133.5 136.7v1.8M0 5.3h-1.8M135.8 136.7v1.8M0 3.3h-1.8M137.9 136.7v1.8M0 1.6h-1.8M139.7 136.7v1.8M0 0h-3.2M141.3 136.7v3.2" stroke="#333" stroke-width="0.7"/>
<g style="font:7.4px 'Liberation Sans',sans-serif" fill="#333">
<text x="-9" y="136.9" text-anchor="end">10</text><text x="-8.6" y="131.9" style="font-size:6px">0</text>
<text x="6.5" y="151.4" text-anchor="middle">10</text><text x="10.9" y="146.3" style="font-size:6px">0</text>
<text x="-9" y="105.7" text-anchor="end">10</text><text x="-8.6" y="100.7" style="font-size:6px">1</text>
<text x="35.3" y="151.4" text-anchor="middle">10</text><text x="39.7" y="146.3" style="font-size:6px">1</text>
<text x="-9" y="71.5" text-anchor="end">10</text><text x="-8.6" y="66.5" style="font-size:6px">2</text>
<text x="70.6" y="151.4" text-anchor="middle">10</text><text x="75" y="146.3" style="font-size:6px">2</text>
<text x="-9" y="37.3" text-anchor="end">10</text><text x="-8.6" y="32.3" style="font-size:6px">3</text>
<text x="106" y="151.4" text-anchor="middle">10</text><text x="110.4" y="146.3" style="font-size:6px">3</text>
<text x="-9" y="13.2" text-anchor="end">10</text><text x="-8.6" y="8.2" style="font-size:6px">4</text>
<text x="135.9" y="151.4" text-anchor="middle">10</text><text x="140.3" y="146.3" style="font-size:6px">4</text>
</g>
</g>
<g transform="translate(548.5 729.5)">
<rect x="0" y="0" width="141.6" height="136.8" fill="#9b9b9b"/>
</g><g transform="translate(0 0.5)">
<path d="M621 759h1m50 1h1m-3 4h1m-28 2h1m1 1h1m-42 1h1m-27 4h1m46 1h1m15 0h1m1 0h1m-67 1h1m62 1h1m-60 1h1m33 0h1m-12 2h1m-24 1h1m29 0h1m69 1h1m-89 2h1m11 0h1m7 0h1m-3 1h1m36 1h1m-28 1h1m33 0h1m-2 2h1m0 0h1m-90 2h1m40 0h1m8 0h1m5 0h1m1 0h1m4 0h1m23 0h1m5 1h1m-40 1h1m12 0h1m6 0h1m4 0h1m-47 1h1m4 0h1m16 0h1m3 0h1m1 0h1m4 0h1m8 0h1m30 0h1m-69 1h1m10 0h1m3 0h1m8 0h1m-44 1h1m2 0h1m12 0h1m5 0h1m2 0h1m3 0h1m16 0h1m-22 1h1m7 0h1m2 0h1m5 0h1m5 0h1m10 0h1m3 0h1m4 0h1m-89 1h1m23 0h1m23 0h1m10 0h1m0 0h1m9 0h1m3 0h1m43 0h1m-71 1h1m2 0h1m3 0h1m6 0h1m3 0h1m11 0h1m13 0h1m-45 1h1m0 0h1m1 0h1m0 0h1m1 0h1m1 0h1m4 0h1m2 0h1m0 0h1m1 0h1m0 0h1m4 0h1m1 0h1m33 0h1m-58 1h1m0 0h1m0 0h1m5 0h1m6 0h1m7 0h1m0 0h1m-53 1h1m15 0h1m9 0h1m15 0h1m1 0h1m15 0h1m0 0h1m-54 1h1m5 0h1m8 0h1m1 0h1m5 0h1m11 0h1m0 0h1m13 0h1m20 0h1m-84 1h1m15 0h1m10 0h1m3 0h1m18 0h1m4 0h1m9 0h1m8 0h1m-53 1h1m9 0h1m18 0h1m1 0h1m41 0h1m-73 1h1m6 0h1m20 0h1m6 0h1m12 0h1m-51 1h1m1 0h1m0 0h1m38 0h1m-82 1h1m29 0h1m2 0h1m35 0h1m5 0h1m38 0h1m1 0h1m-78 1h1m31 0h1m2 0h1m0 0h1m15 0h1m-65 1h1m15 0h1m49 0h1m3 0h1m-63 1h1m2 0h1m1 0h1m1 0h1m34 0h1m7 0h1m-46 1h1m36 0h1m10 0h1m4 0h1m-72 1h1m13 0h1m6 0h1m30 0h1m3 0h1m9 0h1m-48 1h1m34 0h1m-55 1h1m9 0h1m1 0h1m4 0h1m0 0h1m34 0h1m0 0h1m1 0h1m-72 1h1m20 0h1m6 0h1m0 0h1m0 0h1m37 0h1m2 0h1m-55 1h1m8 0h1m6 0h1m38 0h1m2 0h1m0 0h1m16 0h1m-75 1h1m10 0h1m53 0h1m-57 1h1m56 0h1m-58 1h1m1 0h1m1 0h1m37 0h1m30 0h1m-73 1h1m1 0h1m0 0h1m37 0h1m1 0h1m5 0h1m-9 1h1m7 0h1m-49 1h1m1 0h1m0 0h1m33 0h1m0 0h1m14 0h1m-65 1h1m9 0h1m38 0h1m1 0h1m7 0h1m-56 1h1m3 0h1m2 0h1m2 0h1m0 0h1m32 0h1m6 0h1m-48 1h1m1 0h1m2 0h1m34 0h1m0 0h1m-51 1h1m10 0h1m3 0h1m33 0h1m-38 1h1m3 0h1m33 0h1m7 0h1m-54 1h1m9 0h1m2 0h1m32 0h1m7 0h1m0 0h1m-49 1h1m3 0h1m0 0h1m31 0h1m0 0h1m0 0h1m2 0h1m2 0h1m-48 1h1m40 0h1m12 1h1m-51 1h1m42 0h1m-38 1h1m25 0h1m21 0h1m8 0h1m-63 1h1m0 0h1m1 0h1m28 0h1m0 0h1m1 0h1m-30 1h1m24 0h1m10 0h1m-45 1h1m9 0h1m22 0h1m6 0h1m0 0h1m-64 1h1m24 0h1m33 0h1m-38 1h1m5 0h1m3 0h1m26 0h1m8 0h1m-10 1h1m3 0h1m-8 1h1m1 0h1m-3 1h1m1 0h1m-3 1h1m0 0h1m6 0h1m-34 1h1m2 0h1m0 0h1m-11 1h1m1 0h1m0 0h1m0 0h1m2 0h1m23 0h1m1 0h1m14 0h1m-44 1h1m1 0h1m23 0h1m33 0h1m-56 1h1m19 0h1m2 0h1m-27 1h1m1 0h1m19 0h1m17 0h1m-44 1h1m26 0h1m-28 1h1m2 0h1m3 0h1m19 0h1m-22 1h1m1 0h1m19 0h1m0 0h1m1 0h1m0 0h1m-29 1h1m3 0h1m19 0h1m3 0h1m4 0h1m-36 1h1m1 0h1m1 0h1m1 0h1m21 0h1m3 0h1m-36 1h1m6 0h1m1 0h1m17 0h1m1 0h1m1 0h1m-2 1h1m0 0h1m0 0h1m-32 1h1m6 0h1m0 0h1m23 0h1m1 0h1m-28 1h1m0 0h1m18 0h1m-35 1h1m9 0h1m4 0h1m18 0h1m2 0h1m0 0h1m-28 1h1m23 0h1m-29 1h1m26 0h1m1 0h1m-35 1h1m7 0h1m22 0h1m0 0h1m1 0h1m-40 1h1m9 0h1m4 0h1m0 0h1m1 0h1m16 0h1m6 0h1m1 0h1m-27 1h1m15 0h1m0 0h1m8 0h1m-35 1h1m0 0h1m5 0h1m0 0h1m1 0h1m0 0h1m1 0h1m6 0h1m3 0h1m0 0h1m4 0h1m2 0h1m-30 1h1m5 0h1m2 0h1m0 0h1m5 0h1m0 0h1m3 0h1m0 0h1m5 0h1m1 0h1m-32 1h1m6 0h1m3 0h1m0 0h1m3 0h1m0 0h1m1 0h1m6 0h1" stroke="#4545b0" stroke-width="1"/>
<path d="M628 800h1m0 0h1m0 0h1m-10 1h1m4 0h1m1 0h1m1 0h1m-12 1h1m1 0h1m0 0h1m0 0h1m-4 1h1m0 0h1m2 0h1m2 0h1m4 0h1m-19 1h1m6 0h1m0 0h1m1 0h1m0 0h1m2 0h1m3 0h1m0 0h1m0 0h1m-16 1h1m0 0h1m0 0h1m0 0h1m1 0h1m1 0h1m1 0h1m-16 1h1m2 0h1m0 0h1m2 0h1m0 0h1m2 0h1m5 0h1m0 0h1m0 0h1m-20 1h1m0 0h1m2 0h1m0 0h1m1 0h1m0 0h1m1 0h1m2 0h1m0 0h1m0 0h1m1 0h1m3 0h1m1 0h1m-24 1h1m2 0h1m2 0h1m1 0h1m1 0h1m0 0h1m0 0h1m0 0h1m1 0h1m1 0h1m0 0h1m0 0h1m4 0h1m-22 1h1m2 0h1m0 0h1m0 0h1m0 0h1m2 0h1m0 0h1m1 0h1m1 0h1m0 0h1m0 0h1m0 0h1m0 0h1m-20 1h1m2 0h1m1 0h1m8 0h1m0 0h1m2 0h1m1 0h1m0 0h1m-25 1h1m2 0h1m0 0h1m0 0h1m0 0h1m0 0h1m1 0h1m2 0h1m0 0h1m0 0h1m0 0h1m1 0h1m1 0h1m0 0h1m1 0h1m0 0h1m1 0h1m2 0h1m-32 1h1m0 0h1m3 0h1m2 0h1m3 0h1m0 0h1m2 0h1m0 0h1m2 0h1m1 0h1m2 0h1m0 0h1m0 0h1m2 0h1m0 0h1m-28 1h1m1 0h1m2 0h1m0 0h1m2 0h1m0 0h1m1 0h1m5 0h1m0 0h1m0 0h1m0 0h1m1 0h1m1 0h1m0 0h1m-32 1h1m2 0h1m3 0h1m0 0h1m0 0h1m2 0h1m0 0h1m2 0h1m0 0h1m3 0h1m0 0h1m0 0h1m0 0h1m0 0h1m3 0h1m-28 1h1m0 0h1m2 0h1m0 0h1m0 0h1m1 0h1m0 0h1m3 0h1m0 0h1m3 0h1m0 0h1m0 0h1m0 0h1m1 0h1m1 0h1m0 0h1m1 0h1m1 0h1m-31 1h1m3 0h1m1 0h1m0 0h1m0 0h1m0 0h1m0 0h1m0 0h1m0 0h1m0 0h1m0 0h1m2 0h1m1 0h1m0 0h1m1 0h1m0 0h1m0 0h1m0 0h1m1 0h1m0 0h1m-29 1h1m0 0h1m1 0h1m0 0h1m1 0h1m1 0h1m3 0h1m0 0h1m0 0h1m2 0h1m0 0h1m0 0h1m0 0h1m0 0h1m4 0h1m0 0h1m1 0h1m-29 1h1m2 0h1m0 0h1m0 0h1m0 0h1m0 0h1m0 0h1m4 0h1m2 0h1m1 0h1m5 0h1m0 0h1m1 0h1m-30 1h1m0 0h1m1 0h1m0 0h1m0 0h1m1 0h1m2 0h1m0 0h1m0 0h1m0 0h1m0 0h1m1 0h1m2 0h1m0 0h1m0 0h1m0 0h1m0 0h1m0 0h1m1 0h1m0 0h1m0 0h1m0 0h1m-26 1h1m0 0h1m0 0h1m0 0h1m0 0h1m1 0h1m0 0h1m1 0h1m0 0h1m0 0h1m3 0h1m1 0h1m1 0h1m0 0h1m4 0h1m0 0h1m0 0h1m-28 1h1m2 0h1m3 0h1m2 0h1m1 0h1m1 0h1m2 0h1m7 0h1m-25 1h1m0 0h1m1 0h1m0 0h1m0 0h1m2 0h1m0 0h1m0 0h1m0 0h1m1 0h1m2 0h1m3 0h1m0 0h1m0 0h1m1 0h1m0 0h1m-29 1h1m6 0h1m1 0h1m1 0h1m2 0h1m4 0h1m2 0h1m1 0h1m0 0h1m0 0h1m-25 1h1m0 0h1m0 0h1m1 0h1m1 0h1m1 0h1m1 0h1m0 0h1m0 0h1m0 0h1m2 0h1m1 0h1m2 0h1m2 0h1m-28 1h1m0 0h1m4 0h1m0 0h1m1 0h1m2 0h1m3 0h1m1 0h1m0 0h1m0 0h1m3 0h1m1 0h1m2 0h1m-31 1h1m1 0h1m0 0h1m0 0h1m1 0h1m0 0h1m0 0h1m0 0h1m2 0h1m0 0h1m5 0h1m1 0h1m1 0h1m0 0h1m1 0h1m1 0h1m-24 1h1m1 0h1m3 0h1m1 0h1m0 0h1m0 0h1m0 0h1m0 0h1m3 0h1m3 0h1m1 0h1m1 0h1m1 0h1m-26 1h1m0 0h1m0 0h1m5 0h1m1 0h1m3 0h1m3 0h1m1 0h1m3 0h1m-27 1h1m2 0h1m0 0h1m0 0h1m0 0h1m0 0h1m4 0h1m0 0h1m0 0h1m1 0h1m0 0h1m2 0h1m0 0h1m0 0h1m1 0h1m1 0h1m-23 1h1m2 0h1m1 0h1m0 0h1m0 0h1m0 0h1m4 0h1m0 0h1m0 0h1m2 0h1m2 0h1m1 0h1m-26 1h1m0 0h1m0 0h1m2 0h1m1 0h1m1 0h1m5 0h1m0 0h1m0 0h1m1 0h1m1 0h1m3 0h1m-27 1h1m0 0h1m3 0h1m0 0h1m1 0h1m1 0h1m0 0h1m0 0h1m1 0h1m1 0h1m1 0h1m1 0h1m0 0h1m0 0h1m-23 1h1m0 0h1m0 0h1m2 0h1m1 0h1m0 0h1m0 0h1m0 0h1m1 0h1m0 0h1m0 0h1m3 0h1m1 0h1m1 0h1m-17 1h1m2 0h1m3 0h1m0 0h1m0 0h1m0 0h1m1 0h1m0 0h1m1 0h1m-15 1h1m4 0h1m0 0h1m0 0h1m1 0h1m1 0h1m0 0h1m1 0h1m-20 1h1m1 0h1m0 0h1m0 0h1m0 0h1m2 0h1m2 0h1m0 0h1m3 0h1m1 0h1m1 0h1m0 0h1m-21 1h1m0 0h1m1 0h1m0 0h1m0 0h1m2 0h1m0 0h1m2 0h1m3 0h1m0 0h1m-18 1h1m2 0h1m0 0h1m0 0h1m6 0h1m1 0h1m1 0h1m4 0h1m-22 1h1m0 0h1m2 0h1m3 0h1m2 0h1m5 0h1m2 0h1m-21 1h1m0 0h1m1 0h1m0 0h1m2 0h1m5 0h1m3 0h1m0 0h1m1 0h1m0 0h1m-22 1h1m1 0h1m2 0h1m1 0h1m0 0h1m0 0h1m1 0h1m0 0h1m3 0h1m0 0h1m1 0h1m-18 1h1m5 0h1m1 0h1m1 0h1m0 0h1m0 0h1m3 0h1m0 0h1m0 0h1m-17 1h1m1 0h1m0 0h1m0 0h1m0 0h1m5 0h1m1 0h1m-16 1h1m1 0h1m1 0h1m0 0h1m5 0h1m1 0h1m2 0h1m1 0h1m-19 1h1m0 0h1m4 0h1m0 0h1m0 0h1m0 0h1m2 0h1m1 0h1m-16 1h1m1 0h1m1 0h1m2 0h1m6 0h1m2 0h1m-13 1h1m0 0h1m0 0h1m2 0h1m0 0h1m1 0h1m3 0h1m0 0h1m-12 1h1m2 0h1m1 0h1m0 0h1m3 0h1m0 0h1m-15 1h1m0 0h1m2 0h1m2 0h1m2 0h1m0 0h1m0 0h1m1 0h1m-12 1h1m4 0h1m2 0h1m2 0h1m-16 1h1m0 0h1m4 0h1m3 0h1m1 0h1m0 0h1m0 0h1m-13 1h1m1 0h1m4 0h1m2 0h1m0 0h1m0 0h1m1 0h1m-17 1h1m1 0h1m1 0h1m0 0h1m4 0h1m1 0h1m-5 1h1m7 0h1m-17 1h1m0 0h1m0 0h1m1 0h1m4 0h1m4 0h1m2 0h1m-18 1h1m1 0h1m0 0h1m1 0h1m5 0h1m1 0h1m0 0h1m0 0h1m-15 1h1m0 0h1m0 0h1m4 0h1m2 0h1m5 0h1m-18 1h1m0 0h1m0 0h1m0 0h1m2 0h1m0 0h1m2 0h1m-11 1h1m0 0h1m1 0h1m4 0h1m2 0h1m2 0h1m-11 1h1m0 0h1m0 0h1m2 0h1m4 0h1m-15 1h1m0 0h1m0 0h1m1 0h1m1 0h1m0 0h1m0 0h1m0 0h1m-3 1h1m1 0h1m-1 1h1" stroke="#20209a" stroke-width="1"/>
<path d="M626 810h1m0 0h1m-4 2h1m1 1h1m1 0h1m-6 1h1m2 0h1m0 0h1m0 0h1m-2 1h1m-3 1h1m2 0h1m-1 11h1m4 0h1m-6 1h1m1 0h1m0 0h1m0 0h1m-2 1h1m0 0h1m-5 1h1m0 1h1" stroke="#1e6e8a" stroke-width="1"/>
</g><g transform="translate(548.5 729.5)">
<path d="M59.7 0V136.8M0 102.6H141.6" stroke="#222" stroke-width="0.9"/>
<g fill="#ececec"><rect x="0" y="0" width="24.2" height="20"/><rect x="117.4" y="0" width="24.2" height="20"/><rect x="117.4" y="118.2" width="24.2" height="18.6"/><rect x="0" y="118.2" width="28.1" height="18.6"/></g>
<g style="font:7px 'Liberation Sans',sans-serif" fill="#222">
<text x="2.1" y="8.7">Q1</text><text x="2.1" y="17.9">1.28%</text>
<text x="119.5" y="8.7">Q2</text><text x="119.5" y="17.9">46.1%</text>
<text x="119.5" y="125.6">Q3</text><text x="119.5" y="135.3">52.4%</text>
<text x="2.1" y="125.6">Q4</text><text x="2.1" y="135.3">0.131%</text>
</g>
<rect x="0" y="0" width="141.6" height="136.8" fill="none" stroke="#2a2a2a" stroke-width="1.1"/>
<path d="M0 136.8h-3.2M0 136.8v3.2M0 126.5h-1.8M10.7 136.8v1.8M0 120.5h-1.8M16.9 136.8v1.8M0 116.2h-1.8M21.3 136.8v1.8M0 112.9h-1.8M24.7 136.8v1.8M0 110.2h-1.8M27.5 136.8v1.8M0 107.9h-1.8M29.9 136.8v1.8M0 105.9h-1.8M32 136.8v1.8M0 104.2h-1.8M33.8 136.8v1.8M0 102.6h-3.2M35.4 136.8v3.2M0 92.3h-1.8M46.1 136.8v1.8M0 86.3h-1.8M52.3 136.8v1.8M0 82h-1.8M56.7 136.8v1.8M0 78.7h-1.8M60.1 136.8v1.8M0 76h-1.8M62.9 136.8v1.8M0 73.7h-1.8M65.3 136.8v1.8M0 71.7h-1.8M67.4 136.8v1.8M0 70h-1.8M69.2 136.8v1.8M0 68.4h-3.2M70.8 136.8v3.2M0 58.1h-1.8M81.5 136.8v1.8M0 52.1h-1.8M87.7 136.8v1.8M0 47.8h-1.8M92.1 136.8v1.8M0 44.5h-1.8M95.5 136.8v1.8M0 41.8h-1.8M98.3 136.8v1.8M0 39.5h-1.8M100.7 136.8v1.8M0 37.5h-1.8M102.8 136.8v1.8M0 35.8h-1.8M104.6 136.8v1.8M0 34.2h-3.2M106.2 136.8v3.2M0 23.9h-1.8M116.9 136.8v1.8M0 17.9h-1.8M123.1 136.8v1.8M0 13.6h-1.8M127.5 136.8v1.8M0 10.3h-1.8M130.9 136.8v1.8M0 7.6h-1.8M133.7 136.8v1.8M0 5.3h-1.8M136.1 136.8v1.8M0 3.3h-1.8M138.2 136.8v1.8M0 1.6h-1.8M140 136.8v1.8M0 0h-3.2M141.6 136.8v3.2" stroke="#333" stroke-width="0.7"/>
<g style="font:7.4px 'Liberation Sans',sans-serif" fill="#333">
<text x="-9" y="137" text-anchor="end">10</text><text x="-8.6" y="132" style="font-size:6px">0</text>
<text x="6.5" y="151.5" text-anchor="middle">10</text><text x="10.9" y="146.4" style="font-size:6px">0</text>
<text x="-9" y="105.7" text-anchor="end">10</text><text x="-8.6" y="100.7" style="font-size:6px">1</text>
<text x="35.4" y="151.5" text-anchor="middle">10</text><text x="39.8" y="146.4" style="font-size:6px">1</text>
<text x="-9" y="71.5" text-anchor="end">10</text><text x="-8.6" y="66.5" style="font-size:6px">2</text>
<text x="70.8" y="151.5" text-anchor="middle">10</text><text x="75.2" y="146.4" style="font-size:6px">2</text>
<text x="-9" y="37.3" text-anchor="end">10</text><text x="-8.6" y="32.3" style="font-size:6px">3</text>
<text x="106.2" y="151.5" text-anchor="middle">10</text><text x="110.6" y="146.4" style="font-size:6px">3</text>
<text x="-9" y="13.2" text-anchor="end">10</text><text x="-8.6" y="8.2" style="font-size:6px">4</text>
<text x="136.2" y="151.5" text-anchor="middle">10</text><text x="140.6" y="146.4" style="font-size:6px">4</text>
</g>
</g>
<g transform="translate(52.4 890.4)">
<rect x="0" y="0" width="140" height="134.9" fill="#9b9b9b"/>
</g><g transform="translate(0 0.5)">
<path d="M157 924h1m20 1h1m-17 1h1m-63 1h1m29 0h1m23 0h1m14 2h1m-27 3h1m-19 1h1m1 0h1m11 0h1m-5 1h1m-6 1h1m15 0h1m-22 1h1m2 0h1m11 0h1m-2 1h1m44 0h1m-53 1h1m10 0h1m6 0h1m1 0h1m1 0h1m-43 1h1m12 0h1m10 0h1m15 0h1m-22 1h1m1 0h1m-16 1h1m2 0h1m6 0h1m14 0h1m18 0h1m-44 1h1m4 0h1m8 0h1m4 0h1m1 0h1m1 0h1m3 0h1m5 0h1m2 0h1m-33 1h1m10 0h1m24 0h1m-29 1h1m5 0h1m1 0h1m10 0h1m-26 1h1m2 0h1m2 0h1m1 0h1m0 0h1m0 0h1m3 0h1m0 0h1m2 0h1m18 0h1m2 0h1m-46 1h1m5 0h1m0 0h1m11 0h1m0 0h1m4 0h1m0 0h1m8 0h1m-68 1h1m33 0h1m0 0h1m2 0h1m5 0h1m0 0h1m0 0h1m0 0h1m0 0h1m0 0h1m2 0h1m8 0h1m2 0h1m0 0h1m3 0h1m1 0h1m10 0h1m-76 1h1m6 0h1m15 0h1m12 0h1m0 0h1m12 0h1m2 0h1m1 0h1m1 0h1m4 0h1m2 0h1m-48 1h1m14 0h1m3 0h1m1 0h1m7 0h1m0 0h1m1 0h1m0 0h1m1 0h1m1 0h1m1 0h1m1 0h1m-43 1h1m10 0h1m3 0h1m1 0h1m0 0h1m2 0h1m0 0h1m8 0h1m4 0h1m0 0h1m3 0h1m3 0h1m7 0h1m-48 1h1m2 0h1m2 0h1m1 0h1m0 0h1m1 0h1m19 0h1m0 0h1m0 0h1m2 0h1m0 0h1m1 0h1m1 0h1m-48 1h1m6 0h1m2 0h1m2 0h1m0 0h1m22 0h1m2 0h1m0 0h1m0 0h1m3 0h1m11 0h1m-59 1h1m2 0h1m0 0h1m3 0h1m0 0h1m0 0h1m2 0h1m24 0h1m2 0h1m0 0h1m11 0h1m1 0h1m-64 1h1m4 0h1m1 0h1m37 0h1m2 0h1m1 0h1m-51 1h1m11 0h1m4 0h1m0 0h1m0 0h1m0 0h1m27 0h1m1 0h1m1 0h1m2 0h1m2 0h1m16 0h1m-69 1h1m3 0h1m5 0h1m30 0h1m-45 1h1m0 0h1m4 0h1m1 0h1m5 0h1m0 0h1m27 0h1m1 0h1m3 0h1m7 0h1m-71 1h1m7 0h1m10 0h1m1 0h1m3 0h1m2 0h1m31 0h1m1 0h1m6 0h1m15 0h1m-69 1h1m2 0h1m3 0h1m0 0h1m1 0h1m28 0h1m0 0h1m5 0h1m-57 1h1m7 0h1m4 0h1m2 0h1m0 0h1m32 0h1m1 0h1m2 0h1m8 0h1m2 0h1m-60 1h1m4 0h1m5 0h1m32 0h1m0 0h1m6 0h1m-47 1h1m38 0h1m0 0h1m2 0h1m-60 1h1m14 0h1m0 0h1m0 0h1m34 0h1m0 0h1m0 0h1m2 0h1m0 0h1m14 0h1m-58 1h1m2 0h1m34 0h1m7 0h1m0 0h1m2 0h1m-57 1h1m2 0h1m37 0h1m1 0h1m1 0h1m3 0h1m5 0h1m7 0h1m-54 1h1m31 0h1m2 0h1m7 0h1m-54 1h1m6 0h1m0 0h1m1 0h1m30 0h1m2 0h1m11 0h1m-58 1h1m3 0h1m2 0h1m2 0h1m0 0h1m30 0h1m2 0h1m1 0h1m2 0h1m14 0h1m6 0h1m-64 1h1m1 0h1m31 0h1m0 0h1m6 0h1m18 0h1m-74 1h1m3 0h1m0 0h1m2 0h1m0 0h1m4 0h1m0 0h1m27 0h1m0 0h1m1 0h1m1 0h1m-40 1h1m1 0h1m2 0h1m3 0h1m1 0h1m23 0h1m0 0h1m-32 1h1m0 0h1m1 0h1m0 0h1m22 0h1m1 0h1m0 0h1m0 0h1m2 0h1m0 0h1m0 0h1m-65 1h1m23 0h1m3 0h1m2 0h1m1 0h1m2 0h1m15 0h1m1 0h1m0 0h1m5 0h1m0 0h1m0 0h1m1 0h1m0 0h1m-42 1h1m10 0h1m17 0h1m1 0h1m2 0h1m1 0h1m5 0h1m-51 1h1m4 0h1m4 0h1m0 0h1m2 0h1m4 0h1m14 0h1m2 0h1m11 0h1m7 0h1m-42 1h1m1 0h1m0 0h1m14 0h1m0 0h1m1 0h1m7 0h1m26 0h1m-62 1h1m1 0h1m1 0h1m2 0h1m15 0h1m0 0h1m0 0h1m0 0h1m0 0h1m12 0h1m0 0h1m4 0h1m-55 1h1m2 0h1m2 0h1m1 0h1m0 0h1m19 0h1m0 0h1m0 0h1m0 0h1m1 0h1m1 0h1m1 0h1m2 0h1m0 0h1m0 0h1m3 0h1m-42 1h1m2 0h1m3 0h1m20 0h1m1 0h1m1 0h1m0 0h1m4 0h1m1 0h1m-70 1h1m19 0h1m10 0h1m1 0h1m2 0h1m16 0h1m8 0h1m-33 1h1m4 0h1m0 0h1m16 0h1m0 0h1m0 0h1m5 0h1m-44 1h1m16 0h1m0 0h1m16 0h1m2 0h1m8 0h1m0 0h1m13 0h1m-57 1h1m4 0h1m2 0h1m2 0h1m0 0h1m1 0h1m0 0h1m1 0h1m12 0h1m0 0h1m0 0h1m13 0h1m-44 1h1m6 0h1m3 0h1m2 0h1m10 0h1m1 0h1m0 0h1m9 0h1m1 0h1m-41 1h1m7 0h1m4 0h1m1 0h1m0 0h1m8 0h1m0 0h1m0 0h1m0 0h1m0 0h1m0 0h1m-65 1h1m49 0h1m7 0h1m0 0h1m1 0h1m-28 1h1m1 0h1m9 0h1m1 0h1m0 0h1m18 0h1m0 0h1m1 0h1m-64 1h1m8 0h1m22 0h1m1 0h1m2 0h1m2 0h1m0 0h1m2 0h1m1 0h1m0 0h1m0 0h1m0 0h1m3 0h1m1 0h1m8 0h1m-39 1h1m3 0h1m6 0h1m0 0h1m0 0h1m1 0h1m2 0h1m2 0h1m5 0h1m2 0h1m0 0h1m0 0h1m-55 1h1m34 0h1m0 0h1m2 0h1m0 0h1m0 0h1m4 0h1m1 0h1m0 0h1m3 0h1m0 0h1m4 0h1m0 0h1m6 0h1m-38 1h1m5 0h1m3 0h1m6 0h1m0 0h1m6 0h1m-25 1h1m3 0h1m4 0h1m0 0h1m2 0h1m1 0h1m-20 1h1m5 0h1m2 0h1m2 0h1m4 0h1m1 0h1m0 0h1m1 0h1m5 0h1m-33 1h1m2 0h1m6 0h1m0 0h1m4 0h1m2 0h1m0 0h1m1 0h1m5 0h1m0 0h1m0 0h1m26 0h1m-49 1h1m4 0h1m0 0h1m0 0h1m1 0h1m2 0h1m1 0h1m1 0h1m0 0h1m0 0h1m0 0h1m1 0h1m0 0h1m9 0h1m-77 1h1m44 0h1m1 0h1m2 0h1m1 0h1m2 0h1m0 0h1m0 0h1m1 0h1m3 0h1m-40 1h1m10 0h1m10 0h1m0 0h1m0 0h1m0 0h1m2 0h1m0 0h1m2 0h1m0 0h1m3 0h1m3 0h1m6 0h1m-53 1h1m14 0h1m3 0h1m2 0h1m0 0h1m2 0h1m1 0h1m4 0h1m0 0h1m0 0h1m1 0h1m0 0h1m0 0h1m0 0h1m6 0h1m4 0h1m-35 1h1m0 0h1m0 0h1m0 0h1m1 0h1m0 0h1m6 0h1m1 0h1m0 0h1m0 0h1m3 0h1m1 0h1m2 0h1m-22 1h1m1 0h1m1 0h1m3 0h1m3 0h1m1 0h1m4 0h1m2 0h1m0 0h1m13 0h1m-53 1h1m13 0h1m3 0h1m5 0h1m0 0h1m0 0h1m0 0h1m1 0h1m2 0h1m0 0h1m2 0h1m1 0h1m1 0h1m3 0h1m-39 1h1m3 0h1m6 0h1m0 0h1m1 0h1m1 0h1m0 0h1m0 0h1m0 0h1m0 0h1m11 0h1m2 0h1m6 0h1m7 0h1m6 0h1m11 0h1m-64 1h1m2 0h1m4 0h1m8 0h1m0 0h1m1 0h1m0 0h1m2 0h1m9 0h1m-37 1h1m5 0h1m1 0h1m0 0h1m11 0h1m2 0h1m5 0h1m1 0h1m3 0h1m-33 1h1m2 0h1m1 0h1m3 0h1m7 0h1m12 0h1m-29 1h1m1 0h1m0 0h1m0 0h1m1 0h1m15 0h1m-27 1h1m0 0h1m8 0h1m0 0h1m7 0h1m0 0h1m1 0h1m1 0h1m3 0h1m3 0h1m-32 1h1m1 0h1m2 0h1m13 0h1m1 0h1m1 0h1m0 0h1m4 0h1m-34 1h1m1 0h1m19 0h1m1 0h1m0 0h1m6 0h1m-34 1h1m8 0h1m3 0h1m1 0h1m8 0h1m2 0h1m0 0h1m-22 1h1m1 0h1m2 0h1m1 0h1m0 0h1m10 0h1m4 0h1m4 0h1m-31 1h1m0 0h1m4 0h1m1 0h1m1 0h1m7 0h1m2 0h1m0 0h1m0 0h1m4 0h1m-23 1h1m1 0h1m2 0h1m3 0h1m1 0h1m1 0h1m13 0h1m-38 1h1m4 0h1m1 0h1m0 0h1m1 0h1m0 0h1m10 0h1m1 0h1m3 0h1m2 0h1m-27 1h1m1 0h1m1 0h1m2 0h1m3 0h1m1 0h1m1 0h1m1 0h1m8 0h1m-35 1h1m4 0h1m0 0h1m1 0h1m0 0h1m5 0h1m1 0h1m0 0h1m4 0h1m0 0h1m2 0h1m10 0h1m-30 1h1m0 0h1m1 0h1m2 0h1m1 0h1m1 0h1m0 0h1m1 0h1m0 0h1m0 0h1m1 0h1m14 0h1m-43 1h1m10 0h1m1 0h1m0 0h1m2 0h1m0 0h1m0 0h1m1 0h1m4 0h1m4 0h1m3 0h1m0 0h1m-31 1h1m4 0h1m3 0h1m2 0h1m1 0h1m2 0h1m6 0h1m4 0h1m0 0h1m-28 1h1m0 0h1m4 0h1m0 0h1m0 0h1m0 0h1m0 0h1m1 0h1m3 0h1m1 0h1m0 0h1m-16 1h1m0 0h1m0 0h1m0 0h1m3 0h1m0 0h1m0 0h1m2 0h1m2 0h1m3 0h1m2 0h1m-20 1h1m2 0h1m0 0h1m0 0h1m2 0h1m1 0h1m2 0h1m0 0h1m6 0h1m-36 1h1m2 0h1m0 0h1m1 0h1m0 0h1m1 0h1m1 0h1m1 0h1m1 0h1m1 0h1m3 0h1m4 0h1m0 0h1m4 0h1" stroke="#4545b0" stroke-width="1"/>
<path d="M137 948h1m1 0h1m0 0h1m1 0h1m-8 1h1m1 0h1m2 0h1m-6 1h1m0 0h1m2 0h1m0 0h1m1 0h1m-13 1h1m0 0h1m0 0h1m2 0h1m1 0h1m2 0h1m0 0h1m0 0h1m0 0h1m0 0h1m0 0h1m1 0h1m-18 1h1m1 0h1m0 0h1m1 0h1m0 0h1m0 0h1m0 0h1m1 0h1m2 0h1m0 0h1m0 0h1m0 0h1m-19 1h1m2 0h1m2 0h1m1 0h1m1 0h1m0 0h1m0 0h1m0 0h1m3 0h1m0 0h1m0 0h1m1 0h1m-23 1h1m1 0h1m0 0h1m0 0h1m0 0h1m1 0h1m0 0h1m2 0h1m0 0h1m1 0h1m1 0h1m4 0h1m0 0h1m-21 1h1m5 0h1m1 0h1m1 0h1m1 0h1m0 0h1m2 0h1m2 0h1m2 0h1m-27 1h1m1 0h1m0 0h1m0 0h1m0 0h1m0 0h1m4 0h1m5 0h1m0 0h1m0 0h1m0 0h1m2 0h1m2 0h1m0 0h1m-24 1h1m1 0h1m0 0h1m7 0h1m2 0h1m0 0h1m0 0h1m2 0h1m0 0h1m0 0h1m-24 1h1m7 0h1m9 0h1m1 0h1m4 0h1m-27 1h1m13 0h1m5 0h1m0 0h1m0 0h1m0 0h1m-26 1h1m0 0h1m0 0h1m1 0h1m0 0h1m7 0h1m1 0h1m0 0h1m4 0h1m1 0h1m2 0h1m0 0h1m-27 1h1m0 0h1m1 0h1m0 0h1m1 0h1m9 0h1m3 0h1m0 0h1m-21 1h1m0 0h1m0 0h1m0 0h1m3 0h1m9 0h1m2 0h1m1 0h1m2 0h1m0 0h1m-31 1h1m1 0h1m3 0h1m5 0h1m5 0h1m4 0h1m1 0h1m1 0h1m0 0h1m-27 1h1m1 0h1m0 0h1m2 0h1m0 0h1m11 0h1m0 0h1m4 0h1m0 0h1m-29 1h1m1 0h1m0 0h1m2 0h1m1 0h1m1 0h1m3 0h1m11 0h1m0 0h1m0 0h1m-29 1h1m2 0h1m0 0h1m0 0h1m0 0h1m0 0h1m1 0h1m0 0h1m8 0h1m0 0h1m2 0h1m1 0h1m0 0h1m1 0h1m0 0h1m0 0h1m-30 1h1m2 0h1m0 0h1m0 0h1m0 0h1m0 0h1m0 0h1m2 0h1m4 0h1m3 0h1m0 0h1m0 0h1m2 0h1m0 0h1m0 0h1m-28 1h1m4 0h1m0 0h1m0 0h1m0 0h1m3 0h1m3 0h1m1 0h1m4 0h1m1 0h1m-25 1h1m0 0h1m1 0h1m1 0h1m1 0h1m6 0h1m0 0h1m5 0h1m1 0h1m0 0h1m-26 1h1m0 0h1m3 0h1m2 0h1m0 0h1m0 0h1m0 0h1m1 0h1m1 0h1m0 0h1m0 0h1m1 0h1m2 0h1m2 0h1m0 0h1m-21 1h1m1 0h1m0 0h1m1 0h1m2 0h1m1 0h1m0 0h1m0 0h1m0 0h1m0 0h1m0 0h1m0 0h1m-19 1h1m0 0h1m2 0h1m0 0h1m0 0h1m0 0h1m0 0h1m4 0h1m0 0h1m1 0h1m0 0h1m1 0h1m-17 1h1m0 0h1m0 0h1m1 0h1m1 0h1m0 0h1m0 0h1m-7 1h1m0 0h1m2 0h1m5 0h1m-10 1h1m1 0h1m1 0h1m0 0h1m0 0h1m0 0h1m0 0h1m1 0h1m-14 1h1m1 0h1m3 0h1m0 0h1m4 0h1m-13 1h1m0 0h1m4 0h1m0 0h1m0 0h1m-12 1h1m0 0h1m0 0h1m0 0h1m0 0h1m0 0h1m0 0h1m0 0h1m0 0h1m1 0h1m0 0h1m0 0h1m0 0h1m0 0h1m-14 1h1m0 0h1m0 0h1m0 0h1m0 0h1m4 0h1m0 0h1m0 0h1m1 0h1m-15 1h1m1 0h1m0 0h1m1 0h1m0 0h1m3 0h1m1 0h1m1 0h1m0 0h1m-16 1h1m0 0h1m0 0h1m0 0h1m1 0h1m0 0h1m1 0h1m0 0h1m0 0h1m-9 1h1m0 0h1m0 0h1m1 0h1m0 0h1m0 0h1m0 0h1m4 0h1m-10 1h1m1 0h1m2 0h1m2 0h1m-7 1h1m0 0h1m2 0h1m1 0h1m0 0h1m-1 1h1m-4 1h1m0 0h1m-5 1h1m0 0h1m0 0h1m0 0h1m0 0h1m-8 16h1m0 0h1m1 0h1m0 0h1m0 0h1m-5 1h1m0 0h1m1 0h1m0 0h1m-3 1h1m0 0h1m1 0h1m0 0h1m0 0h1m-6 1h1m2 0h1m0 0h1m1 0h1m-6 1h1m0 0h1m0 0h1m0 0h1m0 1h1m-5 1h1m0 0h1m1 0h1m0 0h1m-4 1h1m1 0h1m-2 1h1m0 0h1m0 0h1m0 0h1m-4 1h1m1 0h1m1 0h1m-6 1h1m0 0h1m0 0h1" stroke="#20209a" stroke-width="1"/>
<path d="M133 953h1m3 0h1m-2 1h1m3 0h1m-1 1h1m-3 1h1m1 0h1m-11 1h1m2 0h1m1 0h1m0 0h1m0 0h1m0 0h1m2 0h1m0 0h1m-14 1h1m1 0h1m6 0h1m9 0h1m0 0h1m-16 1h1m3 0h1m0 0h1m3 0h1m-12 1h1m8 0h1m1 0h1m4 0h1m0 0h1m-15 1h1m4 0h1m6 0h1m-13 1h1m2 0h1m2 0h1m2 0h1m4 0h1m-23 1h1m4 0h1m2 0h1m0 0h1m3 1h1m4 0h1m-17 1h1m1 0h1m2 0h1m0 0h1m1 0h1m0 0h1m5 0h1m1 0h1m-14 3h1m4 0h1m-6 1h1m1 0h1m1 0h1m4 0h1m-8 1h1" stroke="#1e6e8a" stroke-width="1"/>
<path d="M136 955h1m-4 1h1m0 0h1m0 0h1m3 1h1m-10 1h1m1 0h1m1 0h1m1 0h1m0 0h1m1 0h1m0 0h1m0 0h1m2 0h1m-14 1h1m0 0h1m2 0h1m0 0h1m0 0h1m3 0h1m2 0h1m-15 1h1m0 0h1m1 0h1m1 0h1m0 0h1m1 0h1m3 0h1m-13 1h1m3 0h1m3 0h1m5 0h1m-15 1h1m0 0h1m2 0h1m2 0h1m4 0h1m-10 1h1m4 0h1m2 0h1m0 0h1m0 0h1m-11 1h1m2 0h1m1 0h1m0 0h1m-7 1h1m5 0h1m0 0h1m-8 1h1m2 0h1m0 0h1m2 0h1m-8 1h1m2 0h1m1 0h1m2 0h1" stroke="#3c9a48" stroke-width="1"/>
</g><g transform="translate(52.4 890.4)">
<path d="M59.3 0V134.9M0 101.2H140" stroke="#222" stroke-width="0.9"/>
<g fill="#ececec"><rect x="0" y="0" width="28.1" height="20"/><rect x="115.8" y="0" width="24.2" height="20"/><rect x="115.8" y="116.3" width="24.2" height="18.6"/><rect x="0" y="116.3" width="28.1" height="18.6"/></g>
<g style="font:7px 'Liberation Sans',sans-serif" fill="#222">
<text x="2.1" y="8.7">Q1</text><text x="2.1" y="17.9">0.450%</text>
<text x="117.9" y="8.7">Q2</text><text x="117.9" y="17.9">63.9%</text>
<text x="117.9" y="123.7">Q3</text><text x="117.9" y="133.4">35.6%</text>
<text x="2.1" y="123.7">Q4</text><text x="2.1" y="133.4">0.025%</text>
</g>
<rect x="0" y="0" width="140" height="134.9" fill="none" stroke="#2a2a2a" stroke-width="1.1"/>
<path d="M0 134.9h-3.2M0 134.9v3.2M0 124.7h-1.8M10.5 134.9v1.8M0 118.8h-1.8M16.7 134.9v1.8M0 114.6h-1.8M21.1 134.9v1.8M0 111.3h-1.8M24.5 134.9v1.8M0 108.7h-1.8M27.2 134.9v1.8M0 106.4h-1.8M29.6 134.9v1.8M0 104.4h-1.8M31.6 134.9v1.8M0 102.7h-1.8M33.4 134.9v1.8M0 101.2h-3.2M35 134.9v3.2M0 91h-1.8M45.5 134.9v1.8M0 85.1h-1.8M51.7 134.9v1.8M0 80.9h-1.8M56.1 134.9v1.8M0 77.6h-1.8M59.5 134.9v1.8M0 74.9h-1.8M62.2 134.9v1.8M0 72.7h-1.8M64.6 134.9v1.8M0 70.7h-1.8M66.6 134.9v1.8M0 69h-1.8M68.4 134.9v1.8M0 67.4h-3.2M70 134.9v3.2M0 57.3h-1.8M80.5 134.9v1.8M0 51.4h-1.8M86.7 134.9v1.8M0 47.1h-1.8M91.1 134.9v1.8M0 43.9h-1.8M94.5 134.9v1.8M0 41.2h-1.8M97.2 134.9v1.8M0 38.9h-1.8M99.6 134.9v1.8M0 37h-1.8M101.6 134.9v1.8M0 35.3h-1.8M103.4 134.9v1.8M0 33.7h-3.2M105 134.9v3.2M0 23.6h-1.8M115.5 134.9v1.8M0 17.6h-1.8M121.7 134.9v1.8M0 13.4h-1.8M126.1 134.9v1.8M0 10.2h-1.8M129.5 134.9v1.8M0 7.5h-1.8M132.2 134.9v1.8M0 5.2h-1.8M134.6 134.9v1.8M0 3.3h-1.8M136.6 134.9v1.8M0 1.5h-1.8M138.4 134.9v1.8M0 0h-3.2M140 134.9v3.2" stroke="#333" stroke-width="0.7"/>
<g style="font:7.4px 'Liberation Sans',sans-serif" fill="#333">
<text x="-9" y="135.1" text-anchor="end">10</text><text x="-8.6" y="130.1" style="font-size:6px">0</text>
<text x="6.5" y="149.6" text-anchor="middle">10</text><text x="10.9" y="144.5" style="font-size:6px">0</text>
<text x="-9" y="104.3" text-anchor="end">10</text><text x="-8.6" y="99.3" style="font-size:6px">1</text>
<text x="35" y="149.6" text-anchor="middle">10</text><text x="39.4" y="144.5" style="font-size:6px">1</text>
<text x="-9" y="70.6" text-anchor="end">10</text><text x="-8.6" y="65.6" style="font-size:6px">2</text>
<text x="70" y="149.6" text-anchor="middle">10</text><text x="74.4" y="144.5" style="font-size:6px">2</text>
<text x="-9" y="36.9" text-anchor="end">10</text><text x="-8.6" y="31.9" style="font-size:6px">3</text>
<text x="105" y="149.6" text-anchor="middle">10</text><text x="109.4" y="144.5" style="font-size:6px">3</text>
<text x="-9" y="13.2" text-anchor="end">10</text><text x="-8.6" y="8.2" style="font-size:6px">4</text>
<text x="134.6" y="149.6" text-anchor="middle">10</text><text x="139" y="144.5" style="font-size:6px">4</text>
</g>
</g>
<g transform="translate(216.3 889.6)">
<rect x="0" y="0" width="142.2" height="137.5" fill="#9b9b9b"/>
</g><g transform="translate(0 0.5)">
<path d="M296 925h1m-21 5h1m59 2h1m-56 2h1m6 1h1m-17 1h1m21 1h1m-24 1h1m45 2h1m-13 1h1m0 1h1m-14 1h1m10 0h1m0 0h1m10 0h1m-16 2h1m4 0h1m0 0h1m1 0h1m6 0h1m1 0h1m-10 1h1m4 0h1m1 0h1m10 0h1m-49 1h1m27 0h1m-16 1h1m8 0h1m3 0h1m2 0h1m1 0h1m15 0h1m4 0h1m-31 1h1m1 0h1m0 0h1m4 0h1m0 0h1m-13 1h1m9 0h1m2 0h1m2 0h1m0 0h1m-19 1h1m3 0h1m0 0h1m0 0h1m7 0h1m3 0h1m0 0h1m-43 1h1m8 0h1m14 0h1m3 0h1m1 0h1m2 0h1m0 0h1m1 0h1m0 0h1m12 0h1m-29 1h1m3 0h1m0 0h1m1 0h1m0 0h1m3 0h1m-29 1h1m11 0h1m3 0h1m1 0h1m0 0h1m0 0h1m13 0h1m3 0h1m2 0h1m-29 1h1m5 0h1m0 0h1m0 0h1m0 0h1m6 0h1m0 0h1m0 0h1m2 0h1m4 0h1m1 0h1m0 0h1m-33 1h1m6 0h1m2 0h1m2 0h1m6 0h1m0 0h1m4 0h1m0 0h1m11 0h1m-37 1h1m1 0h1m1 0h1m0 0h1m17 0h1m2 0h1m9 0h1m-35 1h1m2 0h1m15 0h1m1 0h1m1 0h1m-26 1h1m0 0h1m1 0h1m0 0h1m0 0h1m15 0h1m1 0h1m0 0h1m7 0h1m11 0h1m-68 1h1m10 0h1m11 0h1m23 0h1m1 0h1m0 0h1m-35 1h1m4 0h1m1 0h1m0 0h1m22 0h1m0 0h1m1 0h1m-38 1h1m5 0h1m1 0h1m4 0h1m23 0h1m0 0h1m1 0h1m-42 1h1m2 0h1m1 0h1m3 0h1m0 0h1m1 0h1m24 0h1m2 0h1m0 0h1m2 0h1m0 0h1m-40 1h1m5 0h1m0 0h1m23 0h1m20 0h1m-55 1h1m7 0h1m0 0h1m25 0h1m2 0h1m2 0h1m-33 1h1m23 0h1m3 0h1m-42 1h1m10 0h1m1 0h1m24 0h1m-34 1h1m0 0h1m3 0h1m1 0h1m0 0h1m-14 1h1m2 0h1m2 0h1m1 0h1m4 0h1m23 0h1m-35 1h1m0 0h1m3 0h1m1 0h1m0 0h1m0 0h1m24 0h1m0 0h1m1 0h1m0 0h1m0 0h1m15 0h1m12 0h1m-69 1h1m0 0h1m1 0h1m0 0h1m33 0h1m0 0h1m-34 1h1m3 0h1m26 0h1m2 0h1m-47 1h1m6 0h1m4 0h1m27 0h1m-37 1h1m0 0h1m5 0h1m-1 1h1m3 0h1m0 0h1m25 0h1m0 0h1m1 0h1m3 0h1m-40 1h1m0 0h1m1 0h1m0 0h1m24 0h1m-49 1h1m20 0h1m0 0h1m2 0h1m0 0h1m24 0h1m3 0h1m6 0h1m-45 1h1m1 0h1m0 0h1m0 0h1m1 0h1m19 0h1m2 0h1m2 0h1m3 0h1m-35 1h1m3 0h1m0 0h1m1 0h1m0 0h1m22 0h1m9 0h1m-50 1h1m6 0h1m6 0h1m0 0h1m0 0h1m16 0h1m8 0h1m5 0h1m-46 1h1m6 0h1m2 0h1m2 0h1m15 0h1m2 0h1m0 0h1m0 0h1m-32 1h1m6 0h1m18 0h1m0 0h1m4 0h1m2 0h1m22 0h1m-59 1h1m2 0h1m1 0h1m0 0h1m20 0h1m4 0h1m-48 1h1m5 0h1m7 0h1m26 0h1m0 0h1m2 0h1m0 0h1m-28 1h1m3 0h1m0 0h1m16 0h1m0 0h1m0 0h1m0 0h1m1 0h1m1 0h1m-24 1h1m22 0h1m-29 1h1m3 0h1m0 0h1m-16 1h1m13 0h1m0 0h1m15 0h1m1 0h1m0 0h1m30 0h1m-53 1h1m1 0h1m16 0h1m2 0h1m1 0h1m15 0h1m-40 1h1m2 0h1m0 0h1m13 0h1m1 0h1m0 0h1m-30 1h1m4 0h1m2 0h1m0 0h1m1 0h1m14 0h1m0 0h1m-24 1h1m0 0h1m0 0h1m1 0h1m1 0h1m0 0h1m0 0h1m15 0h1m-28 1h1m9 0h1m16 0h1m1 0h1m-26 1h1m0 0h1m0 0h1m3 0h1m0 0h1m19 0h1m-25 1h1m0 0h1m1 0h1m13 0h1m-20 1h1m4 0h1m13 0h1m0 0h1m5 0h1m-30 1h1m4 0h1m13 0h1m7 0h1m-21 1h1m1 0h1m10 0h1m0 0h1m39 0h1m-56 1h1m0 0h1m1 0h1m10 0h1m0 0h1m37 0h1m-69 1h1m9 0h1m0 0h1m5 0h1m0 0h1m9 0h1m1 0h1m-21 1h1m4 0h1m0 0h1m0 0h1m0 0h1m10 0h1m8 0h1m-31 1h1m8 0h1m-8 1h1m2 0h1m0 0h1m1 0h1m0 0h1m20 0h1m24 0h1m-75 1h1m21 0h1m0 0h1m2 0h1m0 0h1m0 0h1m0 0h1m10 0h1m4 0h1m-18 1h1m12 0h1m-22 1h1m4 0h1m1 0h1m0 0h1m0 0h1m9 0h1m0 0h1m3 0h1m-23 1h1m2 0h1m0 0h1m16 0h1m5 0h1m-27 1h1m1 0h1m1 0h1m12 0h1m3 0h1m-19 1h1m4 0h1m-6 1h1m0 0h1m2 0h1m13 0h1m-25 1h1m3 0h1m0 0h1m0 0h1m2 0h1m1 0h1m8 0h1m3 0h1m0 0h1m4 0h1m-31 1h1m0 0h1m4 0h1m1 0h1m12 0h1m-17 1h1m2 0h1m12 0h1m-18 1h1m1 0h1m13 0h1m2 0h1m0 0h1m-18 1h1m14 0h1m-22 1h1m20 0h1m2 0h1m2 0h1m-27 1h1m4 0h1m20 0h1m-25 1h1m2 0h1m15 0h1m1 0h1m2 0h1m-23 1h1m0 0h1m0 0h1m0 0h1m12 0h1m0 0h1m-2 1h1m0 0h1m-22 1h1m3 0h1m17 0h1m0 0h1m-21 1h1m0 0h1m0 0h1m2 0h1m0 0h1m1 0h1m1 0h1m1 0h1m1 0h1m0 0h1m-20 1h1m0 0h1m1 0h1m0 0h1m3 0h1m1 0h1m0 0h1m0 0h1m0 0h1m0 0h1m1 0h1m1 0h1m0 0h1m1 0h1m1 0h1m-25 1h1m3 0h1m0 0h1m2 0h1m2 0h1m0 0h1m1 0h1m0 0h1m0 0h1m0 0h1m6 0h1m1 0h1m-25 1h1m1 0h1m1 0h1m2 0h1m1 0h1m1 0h1m1 0h1m0 0h1" stroke="#4545b0" stroke-width="1"/>
<path d="M304 954h1m-1 1h1m0 0h1m0 0h1m-3 1h1m2 0h1m0 0h1m-10 1h1m0 0h1m0 0h1m2 0h1m1 0h1m1 0h1m0 0h1m0 0h1m-11 1h1m2 0h1m1 0h1m1 0h1m0 0h1m0 0h1m0 0h1m0 0h1m1 0h1m-15 1h1m0 0h1m3 0h1m6 0h1m0 0h1m0 0h1m-15 1h1m1 0h1m1 0h1m2 0h1m0 0h1m0 0h1m2 0h1m0 0h1m0 0h1m0 0h1m0 0h1m0 0h1m-18 1h1m0 0h1m1 0h1m7 0h1m1 0h1m0 0h1m0 0h1m-18 1h1m2 0h1m0 0h1m2 0h1m2 0h1m5 0h1m0 0h1m0 0h1m2 0h1m-22 1h1m0 0h1m0 0h1m2 0h1m0 0h1m1 0h1m6 0h1m0 0h1m0 0h1m0 0h1m2 0h1m-22 1h1m0 0h1m0 0h1m9 0h1m2 0h1m3 0h1m0 0h1m0 0h1m-22 1h1m0 0h1m3 0h1m9 0h1m0 0h1m2 0h1m0 0h1m-22 1h1m0 0h1m3 0h1m1 0h1m5 0h1m7 0h1m-21 1h1m2 0h1m7 0h1m3 0h1m1 0h1m0 0h1m0 0h1m0 0h1m0 0h1m-21 1h1m3 0h1m7 0h1m1 0h1m0 0h1m0 0h1m2 0h1m-22 1h1m1 0h1m2 0h1m11 0h1m1 0h1m0 0h1m-20 1h1m2 0h1m0 0h1m4 0h1m3 0h1m2 0h1m0 0h1m0 0h1m0 0h1m0 0h1m0 0h1m-23 1h1m3 0h1m0 0h1m3 0h1m7 0h1m0 0h1m0 0h1m0 0h1m0 0h1m-22 1h1m0 0h1m0 0h1m9 0h1m3 0h1m0 0h1m1 0h1m0 0h1m1 0h1m-22 1h1m0 0h1m1 0h1m4 0h1m2 0h1m0 0h1m0 0h1m0 0h1m1 0h1m0 0h1m0 0h1m0 0h1m1 0h1m-22 1h1m1 0h1m1 0h1m5 0h1m0 0h1m1 0h1m0 0h1m1 0h1m0 0h1m2 0h1m-21 1h1m2 0h1m1 0h1m6 0h1m3 0h1m2 0h1m-19 1h1m0 0h1m0 0h1m0 0h1m2 0h1m0 0h1m7 0h1m0 0h1m0 0h1m-19 1h1m0 0h1m0 0h1m0 0h1m5 0h1m0 0h1m0 0h1m0 0h1m0 0h1m0 0h1m1 0h1m-17 1h1m1 0h1m1 0h1m0 0h1m0 0h1m0 0h1m0 0h1m3 0h1m0 0h1m0 0h1m0 0h1m-14 1h1m0 0h1m0 0h1m0 0h1m2 0h1m0 0h1m0 0h1m0 0h1m0 0h1m0 0h1m1 0h1m-10 1h1m1 0h1m0 0h1m2 0h1m0 0h1m-12 1h1m0 0h1m0 0h1m1 0h1m1 0h1m0 0h1m0 0h1m0 0h1m0 0h1m1 0h1m1 0h1m-15 1h1m1 0h1m2 0h1m1 0h1m0 0h1m0 0h1m3 0h1m-13 1h1m0 0h1m0 0h1m2 0h1m1 0h1m1 0h1m1 0h1m0 0h1m0 0h1m-15 1h1m0 0h1m1 0h1m3 0h1m1 0h1m0 0h1m0 0h1m-12 1h1m0 0h1m0 0h1m0 0h1m0 0h1m3 0h1m3 0h1m-13 1h1m0 0h1m1 0h1m0 0h1m1 0h1m0 0h1m6 0h1m-15 1h1m2 0h1m1 0h1m0 0h1m0 0h1m0 0h1m0 0h1m0 0h1m0 0h1m0 0h1m0 0h1m0 0h1m-15 1h1m0 0h1m3 0h1m1 0h1m1 0h1m2 0h1m0 0h1m0 0h1m-14 1h1m0 0h1m0 0h1m0 0h1m0 0h1m0 0h1m0 0h1m0 0h1m0 0h1m0 0h1m1 0h1m0 0h1m0 0h1m-12 1h1m0 0h1m0 0h1m0 0h1m2 0h1m0 0h1m0 0h1m2 0h1m-13 1h1m2 0h1m0 0h1m0 0h1m6 0h1m-11 1h1m0 0h1m0 0h1m0 0h1m0 0h1m0 0h1m3 0h1m-12 1h1m0 0h1m0 0h1m0 0h1m0 0h1m1 0h1m0 0h1m3 0h1m0 0h1m-12 1h1m0 0h1m0 0h1m0 0h1m1 0h1m2 0h1m0 0h1m1 0h1m-12 1h1m0 0h1m0 0h1m0 0h1m1 0h1m1 0h1m0 0h1m0 0h1m0 0h1m0 0h1m-12 1h1m0 0h1m0 0h1m2 0h1m0 0h1m0 0h1m0 0h1m0 0h1m0 0h1m0 0h1m-13 1h1m0 0h1m2 0h1m0 0h1m0 0h1m1 0h1m0 0h1m-9 1h1m0 0h1m1 0h1m0 0h1m1 0h1m0 0h1m0 0h1m-9 1h1m1 0h1m0 0h1m4 0h1m0 0h1m-10 1h1m1 0h1m1 0h1m0 0h1m0 0h1m0 0h1m0 0h1m-8 1h1m1 0h1m0 0h1m0 0h1m0 0h1m-7 1h1m1 0h1m0 0h1m1 0h1m0 0h1m0 0h1m-9 1h1m0 0h1m0 0h1m0 0h1m0 0h1m0 0h1m0 0h1m0 0h1m0 0h1m-6 1h1m0 0h1m0 0h1m0 0h1m1 0h1m-8 1h1m0 0h1m1 0h1m0 0h1m1 0h1m0 0h1m-7 1h1m0 0h1m0 0h1m0 0h1m0 0h1m0 0h1m0 0h1m0 0h1m-10 1h1m0 0h1m0 0h1m2 0h1m0 0h1m0 0h1m1 0h1m0 0h1m-10 1h1m0 0h1m0 0h1m4 0h1m0 0h1m-10 1h1m4 0h1m0 0h1m1 0h1m-6 1h1m1 0h1m1 0h1m0 0h1m-6 1h1m0 0h1m0 0h1m2 0h1m0 0h1m0 0h1m-10 1h1m0 0h1m0 0h1m0 0h1m1 0h1m0 0h1m2 0h1m-10 1h1m0 0h1m0 0h1m0 0h1m1 0h1m1 0h1m1 0h1m-9 1h1m0 0h1m2 0h1m0 0h1m0 0h1m0 0h1m-9 1h1m0 0h1m2 0h1m0 0h1m1 0h1m1 0h1m0 0h1m-9 1h1m1 0h1m0 0h1m1 0h1m0 0h1m1 0h1m0 0h1m-12 1h1m0 0h1m1 0h1m1 0h1m1 0h1m2 0h1m-12 1h1m0 0h1m0 0h1m1 0h1m0 0h1m0 0h1m0 0h1m1 0h1m1 0h1m-10 1h1m0 0h1m0 0h1m1 0h1m1 0h1m1 0h1m-11 1h1m2 0h1m0 0h1m0 0h1m1 0h1m2 0h1m1 0h1m-13 1h1m1 0h1m3 0h1m0 0h1m0 0h1m1 0h1m0 0h1m0 0h1" stroke="#20209a" stroke-width="1"/>
<path d="M310 959h1m-9 1h1m6 0h1m-7 1h1m1 0h1m-4 1h1m3 0h1m-7 1h1m0 0h1m2 0h1m1 0h1m-3 1h1m0 0h1m0 0h1m6 0h1m-6 1h1m0 0h1m2 1h1m-10 1h1m3 0h1m2 0h1m2 0h1m-8 1h1m0 0h1m3 0h1m-7 1h1m3 0h1m1 0h1m-4 1h1m3 0h1m-14 1h1m4 0h1m7 0h1m-14 1h1m0 0h1m6 0h1m2 0h1m0 0h1m-13 1h1m1 0h1m5 0h1m-6 1h1m9 0h1m-9 1h1m2 0h1m0 0h1m-6 1h1m0 1h1" stroke="#1e6e8a" stroke-width="1"/>
<path d="M305 959h1m-2 2h1m1 0h1m-4 1h1m1 0h1m4 0h1m0 0h1m-5 1h1m0 0h1m1 0h1m0 0h1m-10 1h1m0 0h1m3 0h1m0 0h1m-10 1h1m1 0h1m1 0h1m6 0h1m-12 1h1m0 0h1m3 0h1m1 0h1m0 0h1m2 0h1m0 0h1m-7 1h1m0 0h1m-8 1h1m3 0h1m1 0h1m3 0h1m-10 1h1m2 0h1m2 0h1m3 0h1m-6 1h1m5 0h1m-4 1h1m2 0h1m-11 1h1m2 0h1m0 0h1m0 0h1m-5 1h1m0 0h1m2 0h1m-4 1h1m2 0h1" stroke="#3c9a48" stroke-width="1"/>
</g><g transform="translate(216.3 889.6)">
<path d="M59.5 0V137.5M0 103.1H142.2" stroke="#222" stroke-width="0.9"/>
<g fill="#ececec"><rect x="0" y="0" width="28.1" height="20"/><rect x="118" y="0" width="24.2" height="20"/><rect x="118" y="118.9" width="24.2" height="18.6"/><rect x="0" y="118.9" width="24.2" height="18.6"/></g>
<g style="font:7px 'Liberation Sans',sans-serif" fill="#222">
<text x="2.1" y="8.7">Q1</text><text x="2.1" y="17.9">0.055%</text>
<text x="120.1" y="8.7">Q2</text><text x="120.1" y="17.9">53.7%</text>
<text x="120.1" y="126.3">Q3</text><text x="120.1" y="136">46.2%</text>
<text x="2.1" y="126.3">Q4</text><text x="2.1" y="136">0.00%</text>
</g>
<rect x="0" y="0" width="142.2" height="137.5" fill="none" stroke="#2a2a2a" stroke-width="1.1"/>
<path d="M0 137.5h-3.2M0 137.5v3.2M0 127.2h-1.8M10.7 137.5v1.8M0 121.1h-1.8M17 137.5v1.8M0 116.8h-1.8M21.4 137.5v1.8M0 113.5h-1.8M24.8 137.5v1.8M0 110.8h-1.8M27.7 137.5v1.8M0 108.4h-1.8M30 137.5v1.8M0 106.5h-1.8M32.1 137.5v1.8M0 104.7h-1.8M33.9 137.5v1.8M0 103.1h-3.2M35.5 137.5v3.2M0 92.8h-1.8M46.3 137.5v1.8M0 86.7h-1.8M52.5 137.5v1.8M0 82.4h-1.8M57 137.5v1.8M0 79.1h-1.8M60.4 137.5v1.8M0 76.4h-1.8M63.2 137.5v1.8M0 74.1h-1.8M65.6 137.5v1.8M0 72.1h-1.8M67.7 137.5v1.8M0 70.3h-1.8M69.5 137.5v1.8M0 68.7h-3.2M71.1 137.5v3.2M0 58.4h-1.8M81.8 137.5v1.8M0 52.3h-1.8M88.1 137.5v1.8M0 48.1h-1.8M92.5 137.5v1.8M0 44.7h-1.8M95.9 137.5v1.8M0 42h-1.8M98.8 137.5v1.8M0 39.7h-1.8M101.1 137.5v1.8M0 37.7h-1.8M103.2 137.5v1.8M0 35.9h-1.8M105 137.5v1.8M0 34.4h-3.2M106.6 137.5v3.2M0 24h-1.8M117.4 137.5v1.8M0 18h-1.8M123.6 137.5v1.8M0 13.7h-1.8M128.1 137.5v1.8M0 10.3h-1.8M131.5 137.5v1.8M0 7.6h-1.8M134.3 137.5v1.8M0 5.3h-1.8M136.7 137.5v1.8M0 3.3h-1.8M138.8 137.5v1.8M0 1.6h-1.8M140.6 137.5v1.8M0 0h-3.2M142.2 137.5v3.2" stroke="#333" stroke-width="0.7"/>
<g style="font:7.4px 'Liberation Sans',sans-serif" fill="#333">
<text x="-9" y="137.7" text-anchor="end">10</text><text x="-8.6" y="132.7" style="font-size:6px">0</text>
<text x="6.5" y="152.2" text-anchor="middle">10</text><text x="10.9" y="147.1" style="font-size:6px">0</text>
<text x="-9" y="106.3" text-anchor="end">10</text><text x="-8.6" y="101.3" style="font-size:6px">1</text>
<text x="35.5" y="152.2" text-anchor="middle">10</text><text x="39.9" y="147.1" style="font-size:6px">1</text>
<text x="-9" y="71.9" text-anchor="end">10</text><text x="-8.6" y="66.9" style="font-size:6px">2</text>
<text x="71.1" y="152.2" text-anchor="middle">10</text><text x="75.5" y="147.1" style="font-size:6px">2</text>
<text x="-9" y="37.5" text-anchor="end">10</text><text x="-8.6" y="32.5" style="font-size:6px">3</text>
<text x="106.6" y="152.2" text-anchor="middle">10</text><text x="111" y="147.1" style="font-size:6px">3</text>
<text x="-9" y="13.2" text-anchor="end">10</text><text x="-8.6" y="8.2" style="font-size:6px">4</text>
<text x="136.8" y="152.2" text-anchor="middle">10</text><text x="141.2" y="147.1" style="font-size:6px">4</text>
</g>
</g>
<g transform="translate(382.7 889.6)">
<rect x="0" y="0" width="142.1" height="136.7" fill="#9b9b9b"/>
</g><g transform="translate(0 0.5)">
<path d="M462 922h1m47 0h1m-40 1h1m42 0h1m-20 3h1m15 4h1m1 1h1m-23 1h1m-36 7h1m35 1h1m19 3h1m6 1h1m-46 1h1m26 0h1m-49 4h1m5 0h1m-9 2h1m47 1h1m-12 1h1m-35 2h1m62 1h1m-70 1h1m1 0h1m1 0h1m-7 1h1m2 0h1m6 0h1m35 0h1m19 0h1m-49 1h1m29 0h1m-45 1h1m6 0h1m-17 1h1m12 0h1m1 0h1m1 0h1m8 0h1m24 0h1m-43 1h1m4 0h1m41 0h1m-48 1h1m1 0h1m1 0h1m2 0h1m1 0h1m15 0h1m-26 1h1m0 0h1m3 0h1m1 0h1m1 0h1m-27 1h1m10 0h1m3 0h1m3 0h1m0 0h1m3 0h1m2 0h1m7 0h1m-22 1h1m4 0h1m0 0h1m3 0h1m0 0h1m11 0h1m1 0h1m-26 1h1m0 0h1m0 0h1m0 0h1m0 0h1m12 0h1m0 0h1m42 0h1m-75 1h1m11 0h1m1 0h1m2 0h1m8 0h1m4 0h1m2 0h1m-23 1h1m0 0h1m1 0h1m0 0h1m10 0h1m1 0h1m2 0h1m17 0h1m-40 1h1m1 0h1m1 0h1m12 0h1m0 0h1m0 0h1m0 0h1m-28 1h1m7 0h1m1 0h1m15 0h1m0 0h1m1 0h1m2 0h1m1 0h1m-35 1h1m3 0h1m2 0h1m20 0h1m3 0h1m3 0h1m26 0h1m-57 1h1m21 0h1m0 0h1m2 0h1m1 0h1m-33 1h1m1 0h1m22 0h1m0 0h1m1 0h1m-34 1h1m3 0h1m0 0h1m1 0h1m0 0h1m20 0h1m0 0h1m0 0h1m0 0h1m3 0h1m-34 1h1m2 0h1m0 0h1m23 0h1m1 0h1m21 0h1m21 0h1m-75 1h1m27 0h1m1 0h1m0 0h1m1 0h1m-45 1h1m9 0h1m27 0h1m0 0h1m19 0h1m-45 1h1m0 0h1m25 0h1m-28 1h1m0 0h1m21 0h1m1 0h1m-29 1h1m0 0h1m0 0h1m1 0h1m20 0h1m0 0h1m0 0h1m0 0h1m1 0h1m-34 1h1m0 0h1m2 0h1m0 0h1m2 0h1m20 0h1m0 0h1m4 0h1m-30 1h1m1 0h1m0 0h1m18 0h1m1 0h1m0 0h1m1 0h1m8 0h1m-46 1h1m8 0h1m0 0h1m1 0h1m18 0h1m0 0h1m2 0h1m6 0h1m-43 1h1m4 0h1m2 0h1m0 0h1m1 0h1m0 0h1m21 0h1m0 0h1m0 0h1m-1 1h1m2 0h1m-45 1h1m35 0h1m0 0h1m0 0h1m0 0h1m1 0h1m-35 1h1m5 0h1m0 0h1m21 0h1m1 0h1m1 0h1m2 0h1m0 0h1m-32 1h1m0 0h1m1 0h1m0 0h1m18 0h1m0 0h1m5 0h1m39 0h1m-67 1h1m18 0h1m3 0h1m-37 1h1m12 0h1m-6 1h1m4 0h1m19 0h1m2 0h1m2 0h1m-34 1h1m1 0h1m1 0h1m3 0h1m17 0h1m2 0h1m1 0h1m0 0h1m28 0h1m-56 1h1m2 0h1m16 0h1m1 0h1m0 0h1m-25 1h1m0 0h1m2 0h1m0 0h1m16 0h1m0 0h1m6 0h1m16 0h1m-47 1h1m1 0h1m17 0h1m8 0h1m-32 1h1m1 0h1m0 0h1m3 0h1m-5 1h1m2 0h1m2 0h1m13 0h1m0 0h1m0 0h1m-24 1h1m2 0h1m2 0h1m0 0h1m12 0h1m0 0h1m34 0h1m-62 1h1m6 0h1m1 0h1m0 0h1m-3 1h1m0 0h1m15 0h1m1 0h1m12 0h1m-40 1h1m5 0h1m0 0h1m1 0h1m0 0h1m0 0h1m16 0h1m6 0h1m-35 1h1m3 0h1m2 0h1m1 0h1m0 0h1m12 0h1m0 0h1m-24 1h1m6 0h1m14 0h1m0 0h1m0 0h1m-25 1h1m5 0h1m2 0h1m0 0h1m0 0h1m12 0h1m1 0h1m-31 1h1m5 0h1m0 0h1m3 0h1m14 0h1m53 0h1m-74 1h1m1 0h1m0 0h1m16 0h1m0 0h1m2 0h1m27 0h1m-60 1h1m7 0h1m0 0h1m0 0h1m1 0h1m13 0h1m3 0h1m-30 1h1m4 0h1m4 0h1m0 1h1m11 0h1m1 0h1m1 0h1m4 0h1m-27 1h1m0 0h1m1 0h1m1 0h1m11 0h1m8 0h1m4 0h1m-33 1h1m4 0h1m0 0h1m0 0h1m9 0h1m1 0h1m-18 1h1m2 0h1m0 0h1m0 0h1m9 0h1m1 0h1m-21 1h1m3 0h1m0 0h1m0 0h1m0 0h1m0 0h1m12 0h1m3 0h1m21 0h1m-48 1h1m19 0h1m0 0h1m2 0h1m-24 1h1m17 0h1m2 0h1m2 0h1m-22 1h1m1 0h1m0 0h1m11 0h1m1 0h1m0 0h1m3 0h1m-22 1h1m0 0h1m11 0h1m2 0h1m3 0h1m-24 1h1m0 0h1m0 0h1m0 0h1m0 0h1m-4 1h1m1 0h1m1 0h1m1 0h1m0 0h1m-11 1h1m5 0h1m2 0h1m11 0h1m0 0h1m0 0h1m2 0h1m-19 1h1m0 0h1m4 0h1m0 0h1m1 0h1m0 0h1m1 0h1m0 0h1m0 0h1m-19 1h1m3 0h1m2 0h1m2 0h1m1 0h1m0 0h1m2 0h1m9 0h1m-28 1h1m0 0h1m2 0h1m1 0h1m2 0h1m4 0h1m1 0h1m5 0h1" stroke="#4545b0" stroke-width="1"/>
<path d="M455 967h1m1 0h1m-5 1h1m1 0h1m0 0h1m-6 1h1m1 0h1m1 0h1m0 0h1m1 0h1m0 0h1m0 0h1m-9 1h1m1 0h1m2 0h1m0 0h1m1 0h1m0 0h1m-11 1h1m0 0h1m0 0h1m0 0h1m0 0h1m0 0h1m0 0h1m0 0h1m0 0h1m0 0h1m-13 1h1m0 0h1m0 0h1m0 0h1m0 0h1m0 0h1m4 0h1m1 0h1m1 0h1m-12 1h1m0 0h1m4 0h1m1 0h1m0 0h1m2 0h1m0 0h1m-17 1h1m0 0h1m0 0h1m0 0h1m0 0h1m3 0h1m2 0h1m0 0h1m2 0h1m0 0h1m-18 1h1m0 0h1m1 0h1m8 0h1m2 0h1m0 0h1m0 0h1m-18 1h1m1 0h1m0 0h1m1 0h1m4 0h1m1 0h1m2 0h1m0 0h1m0 0h1m-20 1h1m0 0h1m0 0h1m1 0h1m0 0h1m0 0h1m0 0h1m7 0h1m0 0h1m0 0h1m0 0h1m0 0h1m-20 1h1m0 0h1m0 0h1m0 0h1m1 0h1m0 0h1m0 0h1m7 0h1m0 0h1m2 0h1m-20 1h1m3 0h1m6 0h1m0 0h1m0 0h1m4 0h1m-19 1h1m1 0h1m2 0h1m2 0h1m6 0h1m-15 1h1m0 0h1m0 0h1m11 0h1m0 0h1m0 0h1m1 0h1m-18 1h1m0 0h1m0 0h1m1 0h1m5 0h1m0 0h1m1 0h1m0 0h1m2 0h1m-16 1h1m0 0h1m1 0h1m5 0h1m0 0h1m2 0h1m1 0h1m-16 1h1m1 0h1m2 0h1m1 0h1m2 0h1m0 0h1m1 0h1m0 0h1m0 0h1m-18 1h1m1 0h1m0 0h1m0 0h1m2 0h1m2 0h1m0 0h1m0 0h1m1 0h1m0 0h1m0 0h1m0 0h1m0 0h1m0 0h1m-20 1h1m0 0h1m1 0h1m0 0h1m1 0h1m3 0h1m0 0h1m1 0h1m0 0h1m2 0h1m0 0h1m0 0h1m-19 1h1m1 0h1m2 0h1m0 0h1m0 0h1m2 0h1m1 0h1m1 0h1m0 0h1m0 0h1m-17 1h1m2 0h1m1 0h1m1 0h1m0 0h1m1 0h1m2 0h1m0 0h1m1 0h1m-18 1h1m2 0h1m0 0h1m0 0h1m0 0h1m0 0h1m0 0h1m2 0h1m0 0h1m1 0h1m-14 1h1m0 0h1m1 0h1m1 0h1m1 0h1m2 0h1m2 0h1m-13 1h1m0 0h1m0 0h1m0 0h1m2 0h1m0 0h1m0 0h1m2 0h1m2 0h1m0 0h1m-18 1h1m0 0h1m0 0h1m1 0h1m1 0h1m0 0h1m0 0h1m2 0h1m0 0h1m0 0h1m0 0h1m0 0h1m0 0h1m0 0h1m-17 1h1m0 0h1m0 0h1m0 0h1m0 0h1m1 0h1m0 0h1m1 0h1m0 0h1m0 0h1m0 0h1m1 0h1m1 0h1m-15 1h1m0 0h1m5 0h1m2 0h1m0 0h1m0 0h1m0 0h1m-13 1h1m1 0h1m0 0h1m0 0h1m1 0h1m1 0h1m0 0h1m1 0h1m0 0h1m0 0h1m-14 1h1m0 0h1m0 0h1m0 0h1m1 0h1m0 0h1m0 0h1m3 0h1m-9 1h1m3 0h1m1 0h1m0 0h1m0 0h1m-10 1h1m2 0h1m1 0h1m1 0h1m1 0h1m1 0h1m-12 1h1m0 0h1m0 0h1m1 0h1m1 0h1m0 0h1m0 0h1m0 0h1m0 0h1m0 0h1m-13 1h1m1 0h1m3 0h1m1 0h1m0 0h1m0 0h1m1 0h1m-13 1h1m1 0h1m0 0h1m2 0h1m0 0h1m2 0h1m1 0h1m-10 1h1m0 0h1m0 0h1m0 0h1m0 0h1m0 0h1m2 0h1m-11 1h1m5 0h1m1 0h1m0 0h1m0 0h1m0 0h1m-9 1h1m0 0h1m0 0h1m2 0h1m1 0h1m0 0h1m-10 1h1m0 0h1m0 0h1m0 0h1m1 0h1m0 0h1m1 0h1m0 0h1m-10 1h1m2 0h1m2 0h1m2 0h1m-13 1h1m0 0h1m1 0h1m2 0h1m1 0h1m3 0h1m-12 1h1m2 0h1m1 0h1m0 0h1m0 0h1m1 0h1m1 0h1m-13 1h1m0 0h1m2 0h1m0 0h1m0 0h1m2 0h1m1 0h1m-12 1h1m1 0h1m0 0h1m0 0h1m0 0h1m1 0h1m1 0h1m-8 1h1m0 0h1m0 0h1m1 0h1m1 0h1m0 0h1m-9 1h1m1 0h1m1 0h1m0 0h1m0 0h1m0 0h1m0 0h1m-7 1h1m1 0h1m0 0h1m-6 1h1m2 0h1m2 0h1m0 0h1m0 0h1m-10 1h1m0 0h1m0 0h1m0 0h1m3 0h1m-6 1h1m2 0h1m0 0h1m-7 1h1m0 0h1m1 0h1m0 0h1m0 0h1m0 0h1m1 0h1m0 0h1m-10 1h1m0 0h1m2 0h1m3 0h1m-9 1h1m0 0h1m1 0h1m0 0h1m1 0h1m0 0h1m0 0h1m0 0h1m0 0h1m-8 1h1m1 0h1m1 0h1m1 0h1m0 0h1m0 0h1m0 0h1m-6 1h1m0 0h1m1 0h1" stroke="#20209a" stroke-width="1"/>
<path d="M455 972h1m1 0h1m-3 1h1m2 0h1m-4 1h1m2 0h1m-4 1h1m2 0h1m1 0h1m-5 1h1m3 0h1m-3 1h1m-9 2h1m1 0h1m0 0h1m6 0h1m-10 1h1m3 0h1m2 0h1m-9 1h1m2 0h1m5 1h1m-7 1h1m0 0h1m-3 1h1m-1 2h1m6 0h1m-9 1h1m4 0h1m0 0h1m1 0h1m-10 1h1m3 0h1m2 0h1m-2 1h1m-7 1h1m1 0h1m4 0h1m0 1h1" stroke="#1e6e8a" stroke-width="1"/>
<path d="M453 974h1m0 0h1m-3 1h1m1 0h1m1 0h1m0 0h1m-3 1h1m-1 1h1m-3 1h1m1 0h1m1 0h1m0 0h1m-5 1h1m1 1h1m0 0h1m1 0h1m-8 1h1m1 0h1m1 0h1m0 0h1m0 0h1m-7 1h1m0 0h1m0 0h1m0 0h1m0 0h1m-1 1h1m0 0h1m-3 1h1" stroke="#3c9a48" stroke-width="1"/>
</g><g transform="translate(382.7 889.6)">
<path d="M60 0V136.7M0 102.5H142.1" stroke="#222" stroke-width="0.9"/>
<g fill="#ececec"><rect x="0" y="0" width="28.1" height="20"/><rect x="117.9" y="0" width="24.2" height="20"/><rect x="117.9" y="118.1" width="24.2" height="18.6"/><rect x="0" y="118.1" width="28.1" height="18.6"/></g>
<g style="font:7px 'Liberation Sans',sans-serif" fill="#222">
<text x="2.1" y="8.7">Q1</text><text x="2.1" y="17.9">0.914%</text>
<text x="120" y="8.7">Q2</text><text x="120" y="17.9">38.4%</text>
<text x="120" y="125.5">Q3</text><text x="120" y="135.2">60.5%</text>
<text x="2.1" y="125.5">Q4</text><text x="2.1" y="135.2">0.279%</text>
</g>
<rect x="0" y="0" width="142.1" height="136.7" fill="none" stroke="#2a2a2a" stroke-width="1.1"/>
<path d="M0 136.7h-3.2M0 136.7v3.2M0 126.4h-1.8M10.7 136.7v1.8M0 120.4h-1.8M16.9 136.7v1.8M0 116.1h-1.8M21.4 136.7v1.8M0 112.8h-1.8M24.8 136.7v1.8M0 110.1h-1.8M27.6 136.7v1.8M0 107.8h-1.8M30 136.7v1.8M0 105.8h-1.8M32.1 136.7v1.8M0 104.1h-1.8M33.9 136.7v1.8M0 102.5h-3.2M35.5 136.7v3.2M0 92.2h-1.8M46.2 136.7v1.8M0 86.2h-1.8M52.5 136.7v1.8M0 81.9h-1.8M56.9 136.7v1.8M0 78.6h-1.8M60.4 136.7v1.8M0 75.9h-1.8M63.2 136.7v1.8M0 73.6h-1.8M65.5 136.7v1.8M0 71.7h-1.8M67.6 136.7v1.8M0 69.9h-1.8M69.4 136.7v1.8M0 68.3h-3.2M71 136.7v3.2M0 58.1h-1.8M81.7 136.7v1.8M0 52h-1.8M88 136.7v1.8M0 47.8h-1.8M92.4 136.7v1.8M0 44.5h-1.8M95.9 136.7v1.8M0 41.8h-1.8M98.7 136.7v1.8M0 39.5h-1.8M101.1 136.7v1.8M0 37.5h-1.8M103.1 136.7v1.8M0 35.7h-1.8M104.9 136.7v1.8M0 34.2h-3.2M106.6 136.7v3.2M0 23.9h-1.8M117.3 136.7v1.8M0 17.9h-1.8M123.5 136.7v1.8M0 13.6h-1.8M128 136.7v1.8M0 10.3h-1.8M131.4 136.7v1.8M0 7.6h-1.8M134.2 136.7v1.8M0 5.3h-1.8M136.6 136.7v1.8M0 3.3h-1.8M138.7 136.7v1.8M0 1.6h-1.8M140.5 136.7v1.8M0 0h-3.2M142.1 136.7v3.2" stroke="#333" stroke-width="0.7"/>
<g style="font:7.4px 'Liberation Sans',sans-serif" fill="#333">
<text x="-9" y="136.9" text-anchor="end">10</text><text x="-8.6" y="131.9" style="font-size:6px">0</text>
<text x="6.5" y="151.4" text-anchor="middle">10</text><text x="10.9" y="146.3" style="font-size:6px">0</text>
<text x="-9" y="105.7" text-anchor="end">10</text><text x="-8.6" y="100.7" style="font-size:6px">1</text>
<text x="35.5" y="151.4" text-anchor="middle">10</text><text x="39.9" y="146.3" style="font-size:6px">1</text>
<text x="-9" y="71.5" text-anchor="end">10</text><text x="-8.6" y="66.5" style="font-size:6px">2</text>
<text x="71" y="151.4" text-anchor="middle">10</text><text x="75.4" y="146.3" style="font-size:6px">2</text>
<text x="-9" y="37.3" text-anchor="end">10</text><text x="-8.6" y="32.3" style="font-size:6px">3</text>
<text x="106.6" y="151.4" text-anchor="middle">10</text><text x="111" y="146.3" style="font-size:6px">3</text>
<text x="-9" y="13.2" text-anchor="end">10</text><text x="-8.6" y="8.2" style="font-size:6px">4</text>
<text x="136.7" y="151.4" text-anchor="middle">10</text><text x="141.1" y="146.3" style="font-size:6px">4</text>
</g>
</g>
<g transform="translate(550 889.5)">
<rect x="0" y="0" width="140.6" height="134.9" fill="#9b9b9b"/>
</g><g transform="translate(0 0.5)">
<path d="M680 909h1m-1 4h1m0 2h1m-4 1h1m1 2h1m0 3h1m0 4h1m-4 1h1m0 0h1m0 3h1m-50 2h1m47 2h1m-2 1h1m2 3h1m-1 2h1m-3 1h1m-2 2h1m-5 2h1m-28 1h1m31 0h1m-36 1h1m34 0h1m0 0h1m-32 1h1m-24 1h1m17 1h1m10 0h1m-14 1h1m6 0h1m0 0h1m29 0h1m-40 1h1m7 0h1m29 0h1m-41 1h1m2 0h1m36 0h1m-38 1h1m4 0h1m4 0h1m3 1h1m22 0h1m0 0h1m-28 1h1m0 0h1m23 0h1m2 0h1m-49 1h1m1 0h1m1 0h1m2 0h1m11 0h1m1 0h1m12 0h1m11 0h1m-26 1h1m24 0h1m-46 1h1m3 0h1m0 0h1m14 0h1m1 0h1m0 0h1m0 0h1m0 0h1m-28 1h1m28 0h1m10 0h1m7 0h1m-53 1h1m5 0h1m3 0h1m23 0h1m0 0h1m-7 1h1m5 0h1m1 0h1m14 0h1m-45 1h1m24 0h1m-30 1h1m3 0h1m20 0h1m1 0h1m2 0h1m15 0h1m-46 1h1m1 0h1m25 0h1m3 0h1m2 0h1m-37 1h1m2 0h1m31 0h1m-10 1h1m0 0h1m7 0h1m-36 1h1m3 1h1m20 0h1m1 0h1m1 0h1m1 0h1m20 0h1m-50 1h1m0 0h1m21 0h1m-33 1h1m1 0h1m1 0h1m5 0h1m22 0h1m-26 1h1m0 0h1m0 0h1m-3 2h1m0 0h1m22 0h1m0 0h1m-31 1h1m27 0h1m1 0h1m0 0h1m-32 1h1m6 0h1m21 0h1m0 0h1m20 0h1m-24 1h1m2 0h1m1 0h1m0 0h1m0 0h1m-31 1h1m0 0h1m3 0h1m17 0h1m0 0h1m17 0h1m3 0h1m-48 1h1m3 0h1m0 0h1m18 0h1m2 0h1m3 0h1m-33 1h1m1 0h1m0 0h1m21 0h1m-29 1h1m5 0h1m0 0h1m0 0h1m1 0h1m15 0h1m3 0h1m7 0h1m-13 1h1m0 0h1m3 0h1m5 0h1m-29 1h1m0 0h1m-6 1h1m3 0h1m22 0h1m-33 1h1m28 0h1m21 0h1m0 0h1m-50 1h1m0 0h1m0 0h1m1 0h1m20 0h1m2 0h1m-27 1h1m0 0h1m21 0h1m2 0h1m3 0h1m-34 1h1m2 0h1m1 0h1m0 0h1m0 0h1m19 0h1m2 0h1m-33 1h1m27 0h1m-23 1h1m23 0h1m3 0h1m10 0h1m-54 1h1m37 0h1m-30 1h1m6 0h1m-7 1h1m6 0h1m16 0h1m0 0h1m-2 1h1m0 0h1m2 0h1m4 0h1m15 0h1m2 0h1m-60 1h1m13 0h1m15 0h1m1 0h1m1 0h1m-27 1h1m0 0h1m1 0h1m0 0h1m20 0h1m4 0h1m-28 1h1m2 0h1m18 0h1m-27 1h1m3 0h1m2 0h1m0 0h1m15 0h1m2 0h1m-34 1h1m9 0h1m0 0h1m0 0h1m0 0h1m0 0h1m25 0h1m-28 1h1m0 0h1m24 0h1m-29 1h1m25 0h1m9 0h1m-39 1h1m0 0h1m2 0h1m19 0h1m8 0h1m-35 1h1m3 0h1m16 0h1m2 0h1m1 0h1m4 0h1m1 0h1m5 0h1m1 0h1m-50 1h1m3 0h1m6 0h1m1 0h1m15 0h1m10 0h1m0 0h1m-37 1h1m6 0h1m18 0h1m0 0h1m6 0h1m-44 1h1m7 0h1m6 0h1m0 0h1m0 0h1m18 0h1m0 1h1m0 0h1m0 0h1m0 0h1m-41 1h1m6 0h1m2 0h1m3 0h1m0 0h1m20 0h1m-25 1h1m3 0h1m19 0h1m0 0h1m1 0h1m1 0h1m-28 1h1m0 0h1m1 0h1m-7 1h1m0 1h1m1 0h1m23 0h1m-28 1h1m25 0h1m4 0h1m0 0h1m-33 1h1m28 0h1m8 0h1m-33 1h1m23 0h1m1 0h1m-34 1h1m2 0h1m3 0h1m16 0h1m2 0h1m-21 1h1m18 0h1m3 0h1m9 0h1m-48 1h1m9 0h1m4 0h1m15 0h1m2 0h1m-34 1h1m11 0h1m0 0h1m15 0h1m0 0h1m6 0h1m7 0h1m-43 1h1m5 0h1m3 0h1m1 0h1m14 0h1m0 0h1m0 0h1m5 0h1m-30 1h1m4 0h1m15 0h1m26 0h1m-51 1h1m5 0h1m0 0h1m15 0h1m0 0h1m0 0h1m-30 1h1m4 0h1m1 0h1m0 0h1m0 0h1m0 0h1m1 0h1m0 0h1m0 0h1m0 0h1m2 0h1m1 0h1m1 0h1m0 0h1m3 0h1m1 0h1" stroke="#4545b0" stroke-width="1"/>
<path d="M644 954h1m2 0h1m1 0h1m0 0h1m-1 1h1m-8 1h1m1 0h1m0 0h1m0 0h1m1 0h1m0 0h1m0 0h1m-11 1h1m0 0h1m0 0h1m0 0h1m2 0h1m5 0h1m-12 1h1m1 0h1m8 0h1m-12 1h1m6 0h1m0 0h1m5 0h1m-15 1h1m7 0h1m3 0h1m0 0h1m-16 1h1m0 0h1m2 0h1m8 0h1m0 0h1m1 0h1m-16 1h1m10 0h1m2 0h1m0 0h1m-15 1h1m10 0h1m0 0h1m1 0h1m0 0h1m-20 1h1m0 0h1m0 0h1m1 0h1m2 0h1m0 0h1m3 0h1m0 0h1m1 0h1m0 0h1m-16 1h1m1 0h1m0 0h1m4 0h1m0 0h1m4 0h1m-16 1h1m0 0h1m0 0h1m3 0h1m2 0h1m0 0h1m1 0h1m2 0h1m1 0h1m0 0h1m-18 1h1m2 0h1m5 0h1m7 0h1m0 0h1m-17 1h1m0 0h1m10 0h1m2 0h1m-18 1h1m3 0h1m8 0h1m3 0h1m-19 1h1m0 0h1m0 0h1m1 0h1m2 0h1m7 0h1m-14 1h1m1 0h1m1 0h1m1 0h1m8 0h1m1 0h1m-19 1h1m2 0h1m1 0h1m8 0h1m1 0h1m0 0h1m-9 1h1m1 0h1m3 0h1m2 0h1m-16 1h1m3 0h1m3 0h1m0 0h1m2 0h1m1 0h1m0 0h1m-20 1h1m1 0h1m4 0h1m6 0h1m0 0h1m1 0h1m1 0h1m-19 1h1m0 0h1m0 0h1m5 0h1m5 0h1m0 0h1m1 0h1m0 0h1m-17 1h1m0 0h1m7 0h1m4 0h1m0 0h1m-10 1h1m0 0h1m3 0h1m0 0h1m0 0h1m0 0h1m1 0h1m-18 1h1m2 0h1m3 0h1m2 0h1m0 0h1m1 0h1m0 0h1m0 0h1m0 0h1m-15 1h1m2 0h1m6 0h1m0 0h1m0 0h1m0 0h1m-15 1h1m1 0h1m1 0h1m5 0h1m2 0h1m-14 1h1m0 0h1m4 0h1m2 0h1m3 0h1m0 0h1m1 0h1m-17 1h1m0 0h1m5 0h1m1 0h1m1 0h1m0 0h1m3 0h1m-16 1h1m0 0h1m0 0h1m1 0h1m1 0h1m0 0h1m3 0h1m1 0h1m1 0h1m-18 1h1m0 0h1m0 0h1m1 0h1m3 0h1m1 0h1m4 0h1m-16 1h1m2 0h1m0 0h1m0 0h1m1 0h1m0 0h1m0 0h1m0 0h1m2 0h1m2 0h1m0 0h1m-18 1h1m2 0h1m4 0h1m1 0h1m0 0h1m1 0h1m0 0h1m1 0h1m-15 1h1m0 0h1m2 0h1m0 0h1m1 0h1m3 0h1m0 0h1m0 0h1m0 0h1m0 0h1m-17 1h1m1 0h1m1 0h1m0 0h1m0 0h1m0 0h1m0 0h1m0 0h1m1 0h1m1 0h1m1 0h1m0 0h1m-18 1h1m1 0h1m0 0h1m0 0h1m1 0h1m0 0h1m1 0h1m0 0h1m0 0h1m0 0h1m0 0h1m0 0h1m1 0h1m-15 1h1m0 0h1m0 0h1m3 0h1m3 0h1m0 0h1m-14 1h1m1 0h1m0 0h1m1 0h1m2 0h1m0 0h1m1 0h1m1 0h1m0 0h1m0 0h1m-16 1h1m3 0h1m0 0h1m0 0h1m0 0h1m0 0h1m1 0h1m1 0h1m0 0h1m0 0h1m-15 1h1m2 0h1m0 0h1m5 0h1m1 0h1m1 0h1m-12 1h1m0 0h1m3 0h1m2 0h1m0 0h1m0 0h1m0 0h1m-12 1h1m0 0h1m0 0h1m1 0h1m0 0h1m0 0h1m0 0h1m0 0h1m0 0h1m-12 1h1m0 0h1m0 0h1m0 0h1m4 0h1m0 0h1m1 0h1m0 0h1m-13 1h1m0 0h1m1 0h1m3 0h1m0 0h1m0 0h1m2 0h1m-12 1h1m2 0h1m0 0h1m0 0h1m0 0h1m0 0h1m0 0h1m1 0h1m1 0h1m-12 1h1m0 0h1m2 0h1m3 0h1m3 0h1m-16 1h1m1 0h1m3 0h1m1 0h1m3 0h1m0 0h1m0 0h1m-15 1h1m0 0h1m0 0h1m3 0h1m3 0h1m1 0h1m-12 1h1m0 0h1m0 0h1m1 0h1m4 0h1m0 0h1m-11 1h1m1 0h1m0 0h1m5 0h1m1 0h1m1 0h1m-14 1h1m0 0h1m3 0h1m3 0h1m2 0h1m0 0h1m1 0h1m0 0h1m-14 1h1m2 0h1m0 0h1m0 0h1m4 0h1m1 0h1m-17 1h1m0 0h1m6 0h1m1 0h1m0 0h1m3 0h1m0 0h1m0 0h1m-16 1h1m1 0h1m0 0h1m0 0h1m1 0h1m2 0h1m0 0h1m2 0h1m0 0h1m-15 1h1m0 0h1m0 0h1m3 0h1m0 0h1m1 0h1m1 0h1m-15 1h1m0 0h1m5 0h1m0 0h1m3 0h1m0 0h1m0 0h1m0 0h1m-17 1h1m2 0h1m0 0h1m8 0h1m0 0h1m0 0h1m0 0h1m2 0h1m-20 1h1m0 0h1m0 0h1m2 0h1m1 0h1m1 0h1m1 0h1m0 0h1m2 0h1m1 0h1m0 0h1m0 0h1m-19 1h1m0 0h1m0 0h1m0 0h1m0 0h1m0 0h1m1 0h1m0 0h1m2 0h1m3 0h1m1 0h1m0 0h1m-15 1h1m3 0h1m0 0h1m2 0h1m0 0h1m0 0h1m0 0h1m1 0h1m-17 1h1m0 0h1m1 0h1m1 0h1m1 0h1m0 0h1m4 0h1m-10 1h1m0 0h1m0 0h1m5 0h1m0 0h1m0 0h1m-14 1h1m0 0h1m1 0h1m0 0h1m2 0h1m1 0h1m0 0h1m0 0h1m-9 1h1m0 0h1m0 0h1m2 0h1m0 0h1m0 0h1m0 0h1m0 0h1m-11 1h1m4 0h1m2 0h1m1 0h1m0 0h1m0 0h1m-11 1h1m1 0h1m2 0h1m1 0h1m0 0h1m0 0h1m-9 1h1m1 0h1m0 0h1m0 0h1m1 0h1m0 0h1m0 0h1" stroke="#20209a" stroke-width="1"/>
<path d="M652 957h1m-10 1h1m4 0h1m0 0h1m-9 1h1m1 0h1m0 0h1m1 1h1m-2 1h1m1 0h1m3 0h1m-12 1h1m3 0h1m4 0h1m4 0h1m-15 1h1m0 0h1m4 0h1m0 0h1m1 0h1m1 0h1m-5 1h1m-3 1h1m0 0h1m4 0h1m2 0h1m-14 1h1m3 0h1m-5 1h1m12 0h1m-9 1h1m3 0h1m0 0h1m2 0h1m-15 1h1m0 0h1m0 0h1m6 0h1m-9 1h1m8 0h1m-6 1h1m2 0h1m0 0h1m1 0h1m0 0h1m0 0h1m0 0h1m-15 1h1m10 0h1m0 0h1m-13 1h1m0 0h1m1 0h1m9 0h1m-13 1h1m11 0h1m-13 1h1m4 0h1m0 0h1m0 0h1m1 0h1m3 0h1m-12 1h1m4 0h1m2 0h1m-9 1h1m8 0h1m-13 1h1m1 0h1m1 0h1m5 0h1m0 0h1m-3 1h1m-7 1h1m2 1h1m3 0h1m-6 1h1m6 0h1m-9 1h1m2 0h1m-3 1h1m1 0h1m4 0h1m-7 2h1m-2 1h1m0 0h1m5 1h1m-3 3h1m-4 1h1m-1 3h1m-1 2h1m-3 3h1m-3 1h1m0 0h1m0 0h1m1 0h1m1 1h1m-4 1h1m0 0h1m1 0h1m-5 1h1m2 0h1m-6 1h1m0 0h1m2 0h1m4 0h1m-10 1h1m6 0h1m-6 1h1m0 0h1m0 0h1m2 1h1m-6 1h1m4 0h1m-8 1h1m1 1h1m0 0h1m0 0h1m0 0h1m0 0h1m-6 1h1m3 0h1m3 0h1m-5 1h1m2 0h1m0 0h1m-6 3h1m0 0h1m0 0h1m0 0h1m0 0h1m-6 1h1m0 0h1m0 1h1m-2 1h1" stroke="#1e6e8a" stroke-width="1"/>
<path d="M645 957h1m0 0h1m2 0h1m0 0h1m-6 1h1m0 0h1m0 0h1m2 0h1m-5 1h1m0 0h1m0 0h1m2 0h1m0 0h1m-10 1h1m1 0h1m1 0h1m0 0h1m3 0h1m-10 1h1m2 0h1m2 0h1m0 0h1m1 0h1m-8 1h1m0 0h1m0 0h1m2 0h1m-8 1h1m1 0h1m6 0h1m-10 1h1m0 0h1m7 0h1m-10 1h1m5 0h1m2 0h1m-7 1h1m2 0h1m-7 1h1m0 0h1m0 0h1m0 0h1m0 0h1m1 0h1m0 0h1m-8 1h1m0 0h1m0 0h1m1 0h1m0 0h1m0 0h1m2 0h1m-9 1h1m0 0h1m1 0h1m3 0h1m-9 1h1m4 0h1m0 0h1m1 0h1m0 0h1m-10 2h1m1 0h1m0 0h1m2 0h1m-6 1h1m2 0h1m1 0h1m-5 1h1m2 0h1m0 0h1m2 0h1m-10 1h1m0 0h1m4 0h1m1 0h1m0 1h1m-9 1h1m0 0h1m0 0h1m0 0h1m0 0h1m0 0h1m-5 1h1m0 0h1m-3 1h1m0 0h1m1 1h1m0 0h1m0 0h1m-1 1h1m-2 1h1m0 0h1m0 2h1" stroke="#3c9a48" stroke-width="1"/>
</g><g transform="translate(550 889.5)">
<path d="M59.2 0V134.9M0 101.2H140.6" stroke="#222" stroke-width="0.9"/>
<g fill="#ececec"><rect x="0" y="0" width="24.2" height="20"/><rect x="116.4" y="0" width="24.2" height="20"/><rect x="116.4" y="116.3" width="24.2" height="18.6"/><rect x="0" y="116.3" width="24.2" height="18.6"/></g>
<g style="font:7px 'Liberation Sans',sans-serif" fill="#222">
<text x="2.1" y="8.7">Q1</text><text x="2.1" y="17.9">0.00%</text>
<text x="118.5" y="8.7">Q2</text><text x="118.5" y="17.9">36.5%</text>
<text x="118.5" y="123.7">Q3</text><text x="118.5" y="133.4">63.5%</text>
<text x="2.1" y="123.7">Q4</text><text x="2.1" y="133.4">0.00%</text>
</g>
<rect x="0" y="0" width="140.6" height="134.9" fill="none" stroke="#2a2a2a" stroke-width="1.1"/>
<path d="M0 134.9h-3.2M0 134.9v3.2M0 124.7h-1.8M10.6 134.9v1.8M0 118.8h-1.8M16.8 134.9v1.8M0 114.6h-1.8M21.2 134.9v1.8M0 111.3h-1.8M24.6 134.9v1.8M0 108.7h-1.8M27.4 134.9v1.8M0 106.4h-1.8M29.7 134.9v1.8M0 104.4h-1.8M31.7 134.9v1.8M0 102.7h-1.8M33.5 134.9v1.8M0 101.2h-3.2M35.2 134.9v3.2M0 91h-1.8M45.7 134.9v1.8M0 85.1h-1.8M51.9 134.9v1.8M0 80.9h-1.8M56.3 134.9v1.8M0 77.6h-1.8M59.7 134.9v1.8M0 74.9h-1.8M62.5 134.9v1.8M0 72.7h-1.8M64.9 134.9v1.8M0 70.7h-1.8M66.9 134.9v1.8M0 69h-1.8M68.7 134.9v1.8M0 67.5h-3.2M70.3 134.9v3.2M0 57.3h-1.8M80.9 134.9v1.8M0 51.4h-1.8M87.1 134.9v1.8M0 47.1h-1.8M91.5 134.9v1.8M0 43.9h-1.8M94.9 134.9v1.8M0 41.2h-1.8M97.7 134.9v1.8M0 38.9h-1.8M100 134.9v1.8M0 37h-1.8M102 134.9v1.8M0 35.3h-1.8M103.8 134.9v1.8M0 33.7h-3.2M105.5 134.9v3.2M0 23.6h-1.8M116 134.9v1.8M0 17.6h-1.8M122.2 134.9v1.8M0 13.4h-1.8M126.6 134.9v1.8M0 10.2h-1.8M130 134.9v1.8M0 7.5h-1.8M132.8 134.9v1.8M0 5.2h-1.8M135.2 134.9v1.8M0 3.3h-1.8M137.2 134.9v1.8M0 1.5h-1.8M139 134.9v1.8M0 0h-3.2M140.6 134.9v3.2" stroke="#333" stroke-width="0.7"/>
<g style="font:7.4px 'Liberation Sans',sans-serif" fill="#333">
<text x="-9" y="135.2" text-anchor="end">10</text><text x="-8.6" y="130.2" style="font-size:6px">0</text>
<text x="6.5" y="149.6" text-anchor="middle">10</text><text x="10.9" y="144.5" style="font-size:6px">0</text>
<text x="-9" y="104.3" text-anchor="end">10</text><text x="-8.6" y="99.3" style="font-size:6px">1</text>
<text x="35.2" y="149.6" text-anchor="middle">10</text><text x="39.6" y="144.5" style="font-size:6px">1</text>
<text x="-9" y="70.6" text-anchor="end">10</text><text x="-8.6" y="65.6" style="font-size:6px">2</text>
<text x="70.3" y="149.6" text-anchor="middle">10</text><text x="74.7" y="144.5" style="font-size:6px">2</text>
<text x="-9" y="36.9" text-anchor="end">10</text><text x="-8.6" y="31.9" style="font-size:6px">3</text>
<text x="105.5" y="149.6" text-anchor="middle">10</text><text x="109.9" y="144.5" style="font-size:6px">3</text>
<text x="-9" y="13.2" text-anchor="end">10</text><text x="-8.6" y="8.2" style="font-size:6px">4</text>
<text x="135.2" y="149.6" text-anchor="middle">10</text><text x="139.6" y="144.5" style="font-size:6px">4</text>
</g>
</g>
<text x="3" y="1098.7" textLength="20.5" lengthAdjust="spacingAndGlyphs" style="font:bold 14.2px 'Liberation Sans',sans-serif" fill="#000">(E)</text>
<g stroke="#1c1c7c" stroke-width="1.4" fill="none"><path d="M70.3 1122.2V1252.8H308.6"/>
<path d="M65.4 1252.8H70.3"/>
<path d="M65.4 1220.1H70.3"/>
<path d="M65.4 1187.5H70.3"/>
<path d="M65.4 1154.8H70.3"/>
<path d="M65.4 1122.2H70.3"/>
<path d="M190 1252.8v3.5"/></g>
<g style="font:bold 10.8px 'Liberation Sans',sans-serif" fill="#1c1c7c" text-anchor="end">
<text x="64.2" y="1256.7">0</text>
<text x="64.2" y="1224">20</text>
<text x="64.2" y="1191.4">40</text>
<text x="64.2" y="1158.8">60</text>
<text x="64.2" y="1126.1">80</text>
</g>
<rect x="73.6" y="1200.1" width="17.5" height="52.7" fill="#000066"/><path d="M82.3 1200.1V1193.9M77.5 1193.9h9.6" stroke="#000066" stroke-width="2" fill="none"/>
<rect x="97.3" y="1168" width="17.5" height="84.8" fill="#0000b0"/><path d="M106 1168V1165M101.2 1165h9.6" stroke="#0000b0" stroke-width="2" fill="none"/>
<rect x="121" y="1166.5" width="17.5" height="86.3" fill="#0000ff"/><path d="M129.8 1166.5V1162.3M124.9 1162.3h9.6" stroke="#0000ff" stroke-width="2" fill="none"/>
<rect x="144.7" y="1194.7" width="17.5" height="58.1" fill="#5555f5"/><path d="M153.4 1194.7V1190.5M148.6 1190.5h9.6" stroke="#5555f5" stroke-width="2" fill="none"/>
<rect x="168.4" y="1165.1" width="17.5" height="87.7" fill="#4d9ff5"/><path d="M177.1 1165.1V1160.7M172.3 1160.7h9.6" stroke="#4d9ff5" stroke-width="2" fill="none"/>
<rect x="192.1" y="1148.2" width="17.5" height="104.6" fill="#90bdf5"/><path d="M200.8 1148.2V1138.5M196 1138.5h9.6" stroke="#90bdf5" stroke-width="2" fill="none"/>
<rect x="215.8" y="1199.1" width="17.5" height="53.7" fill="#c5dbf5"/><path d="M224.5 1199.1V1194.2M219.7 1194.2h9.6" stroke="#c5dbf5" stroke-width="2" fill="none"/>
<rect x="239.5" y="1162.2" width="17.5" height="90.6" fill="#0000ff"/><path d="M248.2 1162.2V1157.3M243.4 1157.3h9.6" stroke="#0000ff" stroke-width="2" fill="none"/>
<rect x="263.2" y="1163" width="17.5" height="89.8" fill="#5555f5"/><path d="M271.9 1163V1157.8M267.1 1157.8h9.6" stroke="#5555f5" stroke-width="2" fill="none"/>
<rect x="286.9" y="1243.9" width="17.5" height="8.9" fill="#000066"/><path d="M295.6 1243.9V1240.9M290.8 1240.9h9.6" stroke="#000066" stroke-width="2" fill="none"/>
<g style="font:12px 'Liberation Sans',sans-serif" fill="#1c1c7c" text-anchor="middle">
<text x="81.6" y="1266.6">1</text>
<text x="110.5" y="1266.6">2</text>
<text x="130.6" y="1266.6">3</text>
<text x="154.6" y="1266.6">4</text>
<text x="180" y="1266.6">5</text>
<text x="200.5" y="1266.6">6</text>
<text x="224.4" y="1266.6">7</text>
<text x="249.8" y="1266.6">8</text>
<text x="273.8" y="1266.6">9</text>
<text x="297.4" y="1266.6">NC</text>
</g>
<g style="font:bold 13px 'Liberation Sans',sans-serif" fill="#1c1c7c" text-anchor="middle">
<text x="82.1" y="1129.9">***</text>
<text x="107" y="1129.9">***</text>
<text x="127.2" y="1129.9">***</text>
<text x="151.9" y="1129.9">***</text>
<text x="176.6" y="1129.9">***</text>
<text x="200.9" y="1129.9">***</text>
<text x="225.6" y="1129.9">***</text>
<text x="250.4" y="1129.9">***</text>
<text x="274.7" y="1129.9">***</text>
</g>
<text x="154.6" y="1287.6" textLength="41.6" lengthAdjust="spacingAndGlyphs" style="font:13px 'Liberation Sans',sans-serif" fill="#1c1c7c">Group</text>
<text transform="translate(43.6 1275) rotate(-90)" textLength="175.2" lengthAdjust="spacingAndGlyphs" style="font:bold 12.4px 'Liberation Sans',sans-serif" fill="#1c1c7c">Percentage of early apoptotic cells</text>
<g style="font:11.8px 'Liberation Sans',sans-serif" fill="#1c1c7c">
<rect x="323.5" y="1126.8" width="19" height="8.6" rx="1" fill="#000066"/>
<text x="351.2" y="1135.4">1</text>
<rect x="323.5" y="1141.8" width="19" height="8.6" rx="1" fill="#0000b0"/>
<text x="351.2" y="1150.4">2</text>
<rect x="323.5" y="1156.8" width="19" height="8.6" rx="1" fill="#0000ff"/>
<text x="351.2" y="1165.4">3</text>
<rect x="323.5" y="1171.7" width="19" height="8.6" rx="1" fill="#5555f5"/>
<text x="351.2" y="1180.3">4</text>
<rect x="323.5" y="1186.7" width="19" height="8.6" rx="1" fill="#4d9ff5"/>
<text x="351.2" y="1195.3">5</text>
<rect x="323.5" y="1201.7" width="19" height="8.6" rx="1" fill="#90bdf5"/>
<text x="351.2" y="1210.3">6</text>
<rect x="323.5" y="1216.7" width="19" height="8.6" rx="1" fill="#c5dbf5"/>
<text x="351.2" y="1225.3">7</text>
<rect x="323.5" y="1231.7" width="19" height="8.6" rx="1" fill="#0000ff"/>
<text x="351.2" y="1240.3">8</text>
<rect x="323.5" y="1246.6" width="19" height="8.6" rx="1" fill="#5555f5"/>
<text x="351.2" y="1255.2">9</text>
<rect x="323.5" y="1261.6" width="19" height="8.6" rx="1" fill="#000066"/>
<text x="351.2" y="1270.2">NC</text>
</g>
<text x="394.4" y="1105.6" textLength="20.4" lengthAdjust="spacingAndGlyphs" style="font:bold 14.2px 'Liberation Sans',sans-serif" fill="#000">(F)</text>
<g stroke="#888" stroke-width="1.2" fill="none"><path d="M439 1123.6V1250.7H632.8"/>
<path d="M435.2 1250.7H439M435.2 1208.4H439M435.2 1166H439M435.2 1123.7H439M439 1250.7v3.2M455.1 1250.7v2M471.3 1250.7v3.2M487.4 1250.7v2M503.6 1250.7v3.2M519.8 1250.7v2M535.9 1250.7v3.2M552 1250.7v2M568.2 1250.7v3.2M584.4 1250.7v2M600.5 1250.7v3.2M616.6 1250.7v2M632.8 1250.7v3.2"/></g>
<g style="font:bold 9px 'Liberation Sans',sans-serif" fill="#111" text-anchor="end">
<text x="432" y="1253.9">0</text>
<text x="432" y="1211.6">100</text>
<text x="432" y="1169.2">200</text>
<text x="432" y="1126.9">300</text>
</g><g style="font:bold 9px 'Liberation Sans',sans-serif" fill="#111" text-anchor="middle">
<text x="439" y="1262.7">0</text>
<text x="503.6" y="1262.7">2</text>
<text x="568.2" y="1262.7">4</text>
<text x="632.8" y="1262.7">6</text>
</g>
<text x="523.6" y="1277.5" textLength="24.4" lengthAdjust="spacingAndGlyphs" style="font:bold 10.6px 'Liberation Sans',sans-serif" fill="#111">Days</text>
<text transform="translate(407.8 1186.2) rotate(-90)" text-anchor="middle" style="font:bold 10.4px 'Liberation Sans',sans-serif" fill="#111">Tumor volume (cm<tspan dy="-3.5" style="font-size:7px">3</tspan><tspan dy="3.5">)</tspan></text>
<g stroke="#111" stroke-width="1.3" fill="none">
<path d="M439 1250.7L471.3 1187.2L503.6 1185.5L535.9 1174L568.2 1164.9L600.5 1150.5"/>
<path d="M471.3 1183.8V1190.6M468.3 1183.8h6M468.3 1190.6h6M503.6 1181.2V1189.7M500.6 1181.2h6M500.6 1189.7h6M535.9 1163.9V1184.2M532.9 1163.9h6M532.9 1184.2h6M568.2 1155V1174.8M565.2 1155h6M565.2 1174.8h6M600.5 1139.7V1161.3M597.5 1139.7h6M597.5 1161.3h6" stroke-width="1.2"/>
<path d="M439 1250.7L471.3 1180.8L503.6 1177.6L535.9 1177.6L568.2 1181.8L600.5 1185.1"/>
<path d="M471.3 1176.6V1185.1M468.3 1176.6h6M468.3 1185.1h6M503.6 1167.9V1187.3M500.6 1167.9h6M500.6 1187.3h6M535.9 1169.1V1186.1M532.9 1169.1h6M532.9 1186.1h6M568.2 1175V1188.6M565.2 1175h6M565.2 1188.6h6M600.5 1177V1193.1M597.5 1177h6M597.5 1193.1h6" stroke-width="1.2"/>
<path d="M439 1250.7L471.3 1185.1L503.6 1187.2L535.9 1187.2L568.2 1191.4L600.5 1192.4"/>
<path d="M471.3 1180.8V1189.3M468.3 1180.8h6M468.3 1189.3h6M503.6 1183.4V1191M500.6 1183.4h6M500.6 1191h6M535.9 1182.9V1191.4M532.9 1182.9h6M532.9 1191.4h6M568.2 1188V1194.8M565.2 1188h6M565.2 1194.8h6M600.5 1189V1195.8M597.5 1189h6M597.5 1195.8h6" stroke-width="1.2"/>
<path d="M439 1250.7L471.3 1190.3L503.6 1191.4L535.9 1191.4L568.2 1195.6L600.5 1197.8"/>
<path d="M471.3 1185.2V1195.4M468.3 1185.2h6M468.3 1195.4h6M503.6 1188V1194.8M500.6 1188h6M500.6 1194.8h6M535.9 1187.6V1195.2M532.9 1187.6h6M532.9 1195.2h6M568.2 1192.3V1199M565.2 1192.3h6M565.2 1199h6M600.5 1194.4V1201.2M597.5 1194.4h6M597.5 1201.2h6" stroke-width="1.2"/>
<path d="M439 1250.7L471.3 1173.4L503.6 1183.9L535.9 1194.5L568.2 1198.8L600.5 1202"/>
<path d="M471.3 1169.2V1177.6M468.3 1169.2h6M468.3 1177.6h6M503.6 1180.1V1187.7M500.6 1180.1h6M500.6 1187.7h6M535.9 1191.1V1197.9M532.9 1191.1h6M532.9 1197.9h6M568.2 1195.8V1201.7M565.2 1195.8h6M565.2 1201.7h6M600.5 1199.5V1204.5M597.5 1199.5h6M597.5 1204.5h6" stroke-width="1.2"/>
</g>
<g fill="#111">
<circle cx="439" cy="1250.7" r="2.6"/>
<circle cx="471.3" cy="1187.2" r="2.6"/>
<circle cx="503.6" cy="1185.5" r="2.6"/>
<circle cx="535.9" cy="1174" r="2.6"/>
<circle cx="568.2" cy="1164.9" r="2.6"/>
<circle cx="600.5" cy="1150.5" r="2.6"/>
<rect x="436.4" y="1248.1" width="5.2" height="5.2"/>
<rect x="468.7" y="1178.2" width="5.2" height="5.2"/>
<rect x="501" y="1175" width="5.2" height="5.2"/>
<rect x="533.3" y="1175" width="5.2" height="5.2"/>
<rect x="565.6" y="1179.2" width="5.2" height="5.2"/>
<rect x="597.9" y="1182.5" width="5.2" height="5.2"/>
<path d="M439 1247.8l2.9 5.2h-5.7z"/>
<path d="M471.3 1182.2l2.9 5.2h-5.7z"/>
<path d="M503.6 1184.3l2.9 5.2h-5.7z"/>
<path d="M535.9 1184.3l2.9 5.2h-5.7z"/>
<path d="M568.2 1188.6l2.9 5.2h-5.7z"/>
<path d="M600.5 1189.5l2.9 5.2h-5.7z"/>
<path d="M439 1253.6l2.9 -5.2h-5.7z"/>
<path d="M471.3 1193.2l2.9 -5.2h-5.7z"/>
<path d="M503.6 1194.3l2.9 -5.2h-5.7z"/>
<path d="M535.9 1194.3l2.9 -5.2h-5.7z"/>
<path d="M568.2 1198.5l2.9 -5.2h-5.7z"/>
<path d="M600.5 1200.6l2.9 -5.2h-5.7z"/>
<path d="M439 1247.6l3.1 3.1l-3.1 3.1l-3.1 -3.1z"/>
<path d="M471.3 1170.3l3.1 3.1l-3.1 3.1l-3.1 -3.1z"/>
<path d="M503.6 1180.8l3.1 3.1l-3.1 3.1l-3.1 -3.1z"/>
<path d="M535.9 1191.4l3.1 3.1l-3.1 3.1l-3.1 -3.1z"/>
<path d="M568.2 1195.7l3.1 3.1l-3.1 3.1l-3.1 -3.1z"/>
<path d="M600.5 1198.9l3.1 3.1l-3.1 3.1l-3.1 -3.1z"/>
</g>
<g stroke="#111" stroke-width="1.3">
<path d="M642 1131.6H655.6"/>
<path d="M642 1146.3H655.6"/>
<path d="M642 1161H655.6"/>
<path d="M642 1175.8H655.6"/>
<path d="M642 1190.5H655.6"/>
</g><g fill="#111">
<circle cx="648.9" cy="1131.6" r="2.7"/>
<rect x="646.2" y="1143.6" width="5.4" height="5.4"/>
<path d="M648.9 1158.1l3 5.4h-5.9z"/>
<path d="M648.9 1178.7l3 -5.4h-5.9z"/>
<path d="M648.9 1187.2l3.2 3.2l-3.2 3.2l-3.2 -3.2z"/>
</g><g style="font:10.2px 'Liberation Sans',sans-serif" fill="#111">
<text x="663.2" y="1135.3">NC</text>
<text x="663.2" y="1150">1</text>
<text x="663.2" y="1164.7">2</text>
<text x="663.2" y="1179.5">3</text>
<text x="663.2" y="1194.2">4</text>
</g>
</svg>
</body></html>
